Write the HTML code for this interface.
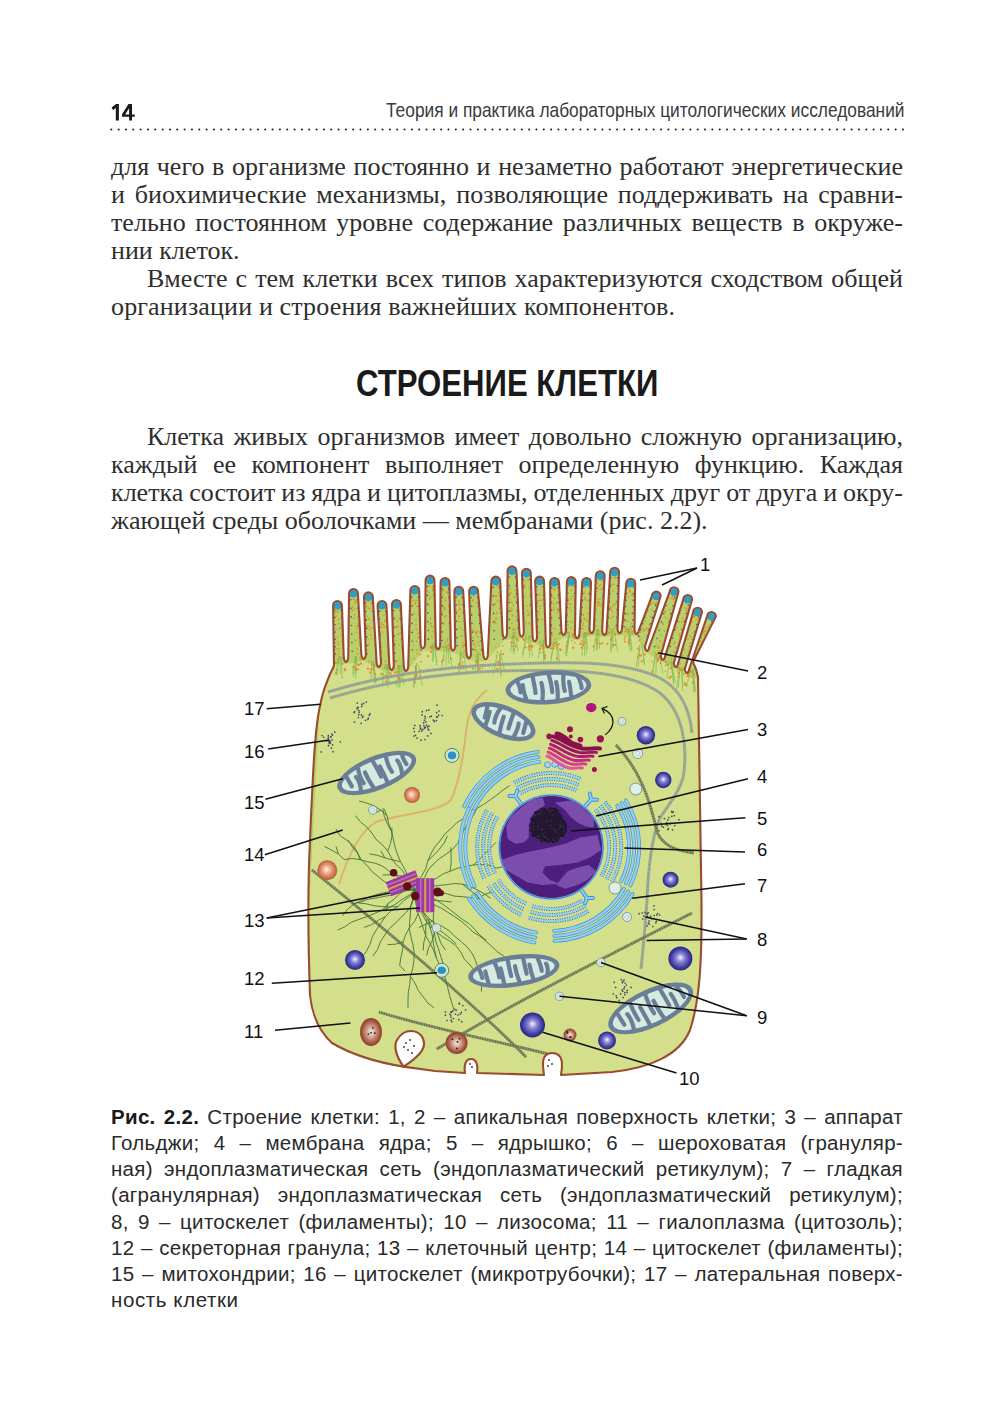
<!DOCTYPE html>
<html><head><meta charset="utf-8">
<style>
html,body{margin:0;padding:0;background:#fff;}
body{width:1000px;height:1420px;position:relative;overflow:hidden;}
.l{position:absolute;white-space:nowrap;color:#2e2e2e;}
.s{font-family:"Liberation Serif",serif;font-size:26px;line-height:28px;left:111px;width:792px;}
.j{text-align:justify;text-align-last:justify;}
.c{font-family:"Liberation Sans",sans-serif;font-size:20.5px;line-height:26px;left:111px;width:792px;color:#2a2a2a;letter-spacing:0.3px;}
</style></head><body>
<svg style="position:absolute;left:0;top:0" width="200" height="130"><path fill="#1a1a1a" fill-rule="evenodd" d="M111.6,107.6 L116,104 L118.9,104 L118.9,120.6 L115.8,120.6 L115.8,107.9 L113,110 Z M128.5,104 L132,104 L132,114.5 L134.7,114.5 L134.7,116.8 L132,116.8 L132,120.6 L129.1,120.6 L129.1,116.8 L122,116.8 L122,114.3 Z M129.1,108.3 L129.1,114.5 L125.1,114.5 Z"/></svg>
<div class="l" style="left:386px;top:96px;width:517px;font:20.4px/28px 'Liberation Sans',sans-serif;color:#3a3a3a;transform-origin:0 0;transform:scaleX(0.85)">Теория и практика лабораторных цитологических исследований</div>
<svg style="position:absolute;left:0;top:0" width="1000" height="140" fill="#222"><circle cx="111.30" cy="129.5" r="1.05"/><circle cx="118.63" cy="129.5" r="1.05"/><circle cx="125.96" cy="129.5" r="1.05"/><circle cx="133.29" cy="129.5" r="1.05"/><circle cx="140.62" cy="129.5" r="1.05"/><circle cx="147.95" cy="129.5" r="1.05"/><circle cx="155.28" cy="129.5" r="1.05"/><circle cx="162.61" cy="129.5" r="1.05"/><circle cx="169.94" cy="129.5" r="1.05"/><circle cx="177.27" cy="129.5" r="1.05"/><circle cx="184.60" cy="129.5" r="1.05"/><circle cx="191.93" cy="129.5" r="1.05"/><circle cx="199.26" cy="129.5" r="1.05"/><circle cx="206.59" cy="129.5" r="1.05"/><circle cx="213.92" cy="129.5" r="1.05"/><circle cx="221.25" cy="129.5" r="1.05"/><circle cx="228.58" cy="129.5" r="1.05"/><circle cx="235.91" cy="129.5" r="1.05"/><circle cx="243.24" cy="129.5" r="1.05"/><circle cx="250.57" cy="129.5" r="1.05"/><circle cx="257.90" cy="129.5" r="1.05"/><circle cx="265.23" cy="129.5" r="1.05"/><circle cx="272.56" cy="129.5" r="1.05"/><circle cx="279.89" cy="129.5" r="1.05"/><circle cx="287.22" cy="129.5" r="1.05"/><circle cx="294.55" cy="129.5" r="1.05"/><circle cx="301.88" cy="129.5" r="1.05"/><circle cx="309.21" cy="129.5" r="1.05"/><circle cx="316.54" cy="129.5" r="1.05"/><circle cx="323.87" cy="129.5" r="1.05"/><circle cx="331.20" cy="129.5" r="1.05"/><circle cx="338.53" cy="129.5" r="1.05"/><circle cx="345.86" cy="129.5" r="1.05"/><circle cx="353.19" cy="129.5" r="1.05"/><circle cx="360.52" cy="129.5" r="1.05"/><circle cx="367.85" cy="129.5" r="1.05"/><circle cx="375.18" cy="129.5" r="1.05"/><circle cx="382.51" cy="129.5" r="1.05"/><circle cx="389.84" cy="129.5" r="1.05"/><circle cx="397.17" cy="129.5" r="1.05"/><circle cx="404.50" cy="129.5" r="1.05"/><circle cx="411.83" cy="129.5" r="1.05"/><circle cx="419.16" cy="129.5" r="1.05"/><circle cx="426.49" cy="129.5" r="1.05"/><circle cx="433.82" cy="129.5" r="1.05"/><circle cx="441.15" cy="129.5" r="1.05"/><circle cx="448.48" cy="129.5" r="1.05"/><circle cx="455.81" cy="129.5" r="1.05"/><circle cx="463.14" cy="129.5" r="1.05"/><circle cx="470.47" cy="129.5" r="1.05"/><circle cx="477.80" cy="129.5" r="1.05"/><circle cx="485.13" cy="129.5" r="1.05"/><circle cx="492.46" cy="129.5" r="1.05"/><circle cx="499.79" cy="129.5" r="1.05"/><circle cx="507.12" cy="129.5" r="1.05"/><circle cx="514.45" cy="129.5" r="1.05"/><circle cx="521.78" cy="129.5" r="1.05"/><circle cx="529.11" cy="129.5" r="1.05"/><circle cx="536.44" cy="129.5" r="1.05"/><circle cx="543.77" cy="129.5" r="1.05"/><circle cx="551.10" cy="129.5" r="1.05"/><circle cx="558.43" cy="129.5" r="1.05"/><circle cx="565.76" cy="129.5" r="1.05"/><circle cx="573.09" cy="129.5" r="1.05"/><circle cx="580.42" cy="129.5" r="1.05"/><circle cx="587.75" cy="129.5" r="1.05"/><circle cx="595.08" cy="129.5" r="1.05"/><circle cx="602.41" cy="129.5" r="1.05"/><circle cx="609.74" cy="129.5" r="1.05"/><circle cx="617.07" cy="129.5" r="1.05"/><circle cx="624.40" cy="129.5" r="1.05"/><circle cx="631.73" cy="129.5" r="1.05"/><circle cx="639.06" cy="129.5" r="1.05"/><circle cx="646.39" cy="129.5" r="1.05"/><circle cx="653.72" cy="129.5" r="1.05"/><circle cx="661.05" cy="129.5" r="1.05"/><circle cx="668.38" cy="129.5" r="1.05"/><circle cx="675.71" cy="129.5" r="1.05"/><circle cx="683.04" cy="129.5" r="1.05"/><circle cx="690.37" cy="129.5" r="1.05"/><circle cx="697.70" cy="129.5" r="1.05"/><circle cx="705.03" cy="129.5" r="1.05"/><circle cx="712.36" cy="129.5" r="1.05"/><circle cx="719.69" cy="129.5" r="1.05"/><circle cx="727.02" cy="129.5" r="1.05"/><circle cx="734.35" cy="129.5" r="1.05"/><circle cx="741.68" cy="129.5" r="1.05"/><circle cx="749.01" cy="129.5" r="1.05"/><circle cx="756.34" cy="129.5" r="1.05"/><circle cx="763.67" cy="129.5" r="1.05"/><circle cx="771.00" cy="129.5" r="1.05"/><circle cx="778.33" cy="129.5" r="1.05"/><circle cx="785.66" cy="129.5" r="1.05"/><circle cx="792.99" cy="129.5" r="1.05"/><circle cx="800.32" cy="129.5" r="1.05"/><circle cx="807.65" cy="129.5" r="1.05"/><circle cx="814.98" cy="129.5" r="1.05"/><circle cx="822.31" cy="129.5" r="1.05"/><circle cx="829.64" cy="129.5" r="1.05"/><circle cx="836.97" cy="129.5" r="1.05"/><circle cx="844.30" cy="129.5" r="1.05"/><circle cx="851.63" cy="129.5" r="1.05"/><circle cx="858.96" cy="129.5" r="1.05"/><circle cx="866.29" cy="129.5" r="1.05"/><circle cx="873.62" cy="129.5" r="1.05"/><circle cx="880.95" cy="129.5" r="1.05"/><circle cx="888.28" cy="129.5" r="1.05"/><circle cx="895.61" cy="129.5" r="1.05"/><circle cx="902.94" cy="129.5" r="1.05"/></svg>

<div class="l s j" style="top:153px">для чего в организме постоянно и незаметно работают энергетические</div>
<div class="l s j" style="top:181px">и биохимические механизмы, позволяющие поддерживать на сравни-</div>
<div class="l s j" style="top:209px">тельно постоянном уровне содержание различных веществ в окруже-</div>
<div class="l s" style="top:237px">нии клеток.</div>
<div class="l s j" style="top:265px;left:147px;width:756px">Вместе с тем клетки всех типов характеризуются сходством общей</div>
<div class="l s" style="top:293px;letter-spacing:0.15px">организации и строения важнейших компонентов.</div>

<div class="l" style="left:356px;top:362px;font:700 37.5px/42px 'Liberation Sans',sans-serif;color:#1a1a1a;transform-origin:0 0;transform:scaleX(0.83)">СТРОЕНИЕ КЛЕТКИ</div>

<div class="l s j" style="top:423px;left:147px;width:756px">Клетка живых организмов имеет довольно сложную организацию,</div>
<div class="l s j" style="top:451px">каждый ее компонент выполняет определенную функцию. Каждая</div>
<div class="l s j" style="top:479px;word-spacing:-1px">клетка состоит из ядра и цитоплазмы, отделенных друг от друга и окру-</div>
<div class="l s" style="top:507px">жающей среды оболочками — мембранами (рис. 2.2).</div>

<svg id="fig" style="position:absolute;left:0;top:0" width="1000" height="1100">
<defs>
<radialGradient id="lys" cx="0.5" cy="0.5" r="0.5" fx="0.5" fy="0.45"><stop offset="0" stop-color="#f4f2ff"/><stop offset="0.35" stop-color="#8c86d6"/><stop offset="0.8" stop-color="#3b3a9e"/><stop offset="1" stop-color="#2a2680"/></radialGradient>
<radialGradient id="org" cx="0.5" cy="0.5" r="0.5" fx="0.45" fy="0.45"><stop offset="0" stop-color="#fff4ea"/><stop offset="0.45" stop-color="#eda27e"/><stop offset="1" stop-color="#b35a3a"/></radialGradient>
<radialGradient id="brn" cx="0.5" cy="0.5" r="0.5"><stop offset="0" stop-color="#fbeee8"/><stop offset="0.5" stop-color="#c98d7a"/><stop offset="0.85" stop-color="#9c4f38"/><stop offset="1" stop-color="#8e4430"/></radialGradient>
<clipPath id="nucclip"><circle cx="551.2" cy="847" r="51"/></clipPath>
</defs>
<path d="M334,666L333.1,605.4A4.4,4.4 0 0 1 341.9,605.4L343.8,658.0C344.7,663.2 347.3,663.2 348.2,658.0L349.1,593.4A4.4,4.4 0 0 1 357.9,593.4L361.4,655.0C362.3,660.2 364.9,660.2 365.8,655.0L364.0,596.8A4.4,4.4 0 0 1 372.8,596.8L376.6,663.0C377.5,668.2 380.1,668.2 381.0,663.0L377.6,605.4A4.4,4.4 0 0 1 386.4,605.4L389.4,666.0C390.3,671.2 392.9,671.2 393.8,666.0L392.0,604.4A4.4,4.4 0 0 1 400.8,604.4L403.8,667.0C404.7,672.2 407.3,672.2 408.2,667.0L410.4,590.4A4.4,4.4 0 0 1 419.2,590.4L420.6,644.4C421.5,649.6 424.1,649.6 425.0,644.4L425.6,580.0A4.4,4.4 0 0 1 434.4,580.0L435.8,645.2C436.7,650.4 439.3,650.4 440.2,645.2L440.6,582.4A4.4,4.4 0 0 1 449.4,582.4L450.8,646.5C451.7,651.7 454.3,651.7 455.2,646.5L454.4,591.2A4.4,4.4 0 0 1 463.2,591.2L466.6,654.2C467.5,659.4 470.1,659.4 471.0,654.2L469.2,591.2A4.4,4.4 0 0 1 478.0,591.2L483.4,655.4C484.3,660.6 486.9,660.6 487.8,655.4L491.4,581.0A4.4,4.4 0 0 1 500.2,581.0L502.6,634.0C503.5,639.2 506.1,639.2 507.0,634.0L507.6,570.8A4.4,4.4 0 0 1 516.4,570.8L519.4,632.6C520.3,637.8 522.9,637.8 523.8,632.6L522.0,573.2A4.4,4.4 0 0 1 530.8,573.2L532.6,637.4C533.5,642.6 536.1,642.6 537.0,637.4L535.2,581.0A4.4,4.4 0 0 1 544.0,581.0L545.8,643.4C546.7,648.6 549.3,648.6 550.2,643.4L550.2,582.4A4.4,4.4 0 0 1 559.0,582.4L561.4,631.0C562.3,636.2 564.9,636.2 565.8,631.0L566.9,581.5A4.4,4.4 0 0 1 575.7,581.5L575.0,634.3C575.9,639.5 578.5,639.5 579.4,634.3L582.2,582.4A4.4,4.4 0 0 1 591.0,582.4L589.5,629.2C590.4,634.4 593.0,634.4 593.9,629.2L595.8,575.6A4.4,4.4 0 0 1 604.6,575.6L602.2,631.0C603.1,636.2 605.7,636.2 606.6,631.0L610.2,572.2A4.4,4.4 0 0 1 619.0,572.2L617.5,629.2C618.4,634.4 621.0,634.4 621.9,629.2L626.4,583.2A4.4,4.4 0 0 1 635.2,583.2L634.5,630.0C635.4,635.2 638.0,635.2 638.9,630.0L651.9,596.0A4.4,4.4 0 0 1 660.7,596.0L644.8,647.0C645.7,652.2 648.3,652.2 649.2,647.0L669.7,591.7A4.4,4.4 0 0 1 678.5,591.7L660.8,656.0C661.7,661.2 664.3,661.2 665.2,656.0L683.3,599.4A4.4,4.4 0 0 1 692.1,599.4L673.8,663.0C674.7,668.2 677.3,668.2 678.2,663.0L693.2,612.1A4.4,4.4 0 0 1 702.0,612.1L684.8,669.0C685.7,674.2 688.3,674.2 689.2,669.0L707.1,616.4A4.4,4.4 0 0 1 715.9,616.4L693,662 Q697,670 698,677C699,720 700,800 701.5,900C702,960 700,1000 690,1030C680,1055 650,1068 612,1072L561,1075C562,1068 565,1053 552,1053C540,1053 543,1068 544,1075L477,1073C478,1066 477,1059 471,1059C465,1059 464,1066 465,1073L435,1071L403.5,1066.6C381,1063 354,1056 332,1043C320,1032 312,1015 310,995C308,940 308,880 310,840C313,770 315,725 320.5,704C322,694 328,677 334,666Z" fill="#d3df8a" stroke="none"/>
<path d="M334,666L333.1,605.4A4.4,4.4 0 0 1 341.9,605.4L343.8,658.0C344.7,663.2 347.3,663.2 348.2,658.0L349.1,593.4A4.4,4.4 0 0 1 357.9,593.4L361.4,655.0C362.3,660.2 364.9,660.2 365.8,655.0L364.0,596.8A4.4,4.4 0 0 1 372.8,596.8L376.6,663.0C377.5,668.2 380.1,668.2 381.0,663.0L377.6,605.4A4.4,4.4 0 0 1 386.4,605.4L389.4,666.0C390.3,671.2 392.9,671.2 393.8,666.0L392.0,604.4A4.4,4.4 0 0 1 400.8,604.4L403.8,667.0C404.7,672.2 407.3,672.2 408.2,667.0L410.4,590.4A4.4,4.4 0 0 1 419.2,590.4L420.6,644.4C421.5,649.6 424.1,649.6 425.0,644.4L425.6,580.0A4.4,4.4 0 0 1 434.4,580.0L435.8,645.2C436.7,650.4 439.3,650.4 440.2,645.2L440.6,582.4A4.4,4.4 0 0 1 449.4,582.4L450.8,646.5C451.7,651.7 454.3,651.7 455.2,646.5L454.4,591.2A4.4,4.4 0 0 1 463.2,591.2L466.6,654.2C467.5,659.4 470.1,659.4 471.0,654.2L469.2,591.2A4.4,4.4 0 0 1 478.0,591.2L483.4,655.4C484.3,660.6 486.9,660.6 487.8,655.4L491.4,581.0A4.4,4.4 0 0 1 500.2,581.0L502.6,634.0C503.5,639.2 506.1,639.2 507.0,634.0L507.6,570.8A4.4,4.4 0 0 1 516.4,570.8L519.4,632.6C520.3,637.8 522.9,637.8 523.8,632.6L522.0,573.2A4.4,4.4 0 0 1 530.8,573.2L532.6,637.4C533.5,642.6 536.1,642.6 537.0,637.4L535.2,581.0A4.4,4.4 0 0 1 544.0,581.0L545.8,643.4C546.7,648.6 549.3,648.6 550.2,643.4L550.2,582.4A4.4,4.4 0 0 1 559.0,582.4L561.4,631.0C562.3,636.2 564.9,636.2 565.8,631.0L566.9,581.5A4.4,4.4 0 0 1 575.7,581.5L575.0,634.3C575.9,639.5 578.5,639.5 579.4,634.3L582.2,582.4A4.4,4.4 0 0 1 591.0,582.4L589.5,629.2C590.4,634.4 593.0,634.4 593.9,629.2L595.8,575.6A4.4,4.4 0 0 1 604.6,575.6L602.2,631.0C603.1,636.2 605.7,636.2 606.6,631.0L610.2,572.2A4.4,4.4 0 0 1 619.0,572.2L617.5,629.2C618.4,634.4 621.0,634.4 621.9,629.2L626.4,583.2A4.4,4.4 0 0 1 635.2,583.2L634.5,630.0C635.4,635.2 638.0,635.2 638.9,630.0L651.9,596.0A4.4,4.4 0 0 1 660.7,596.0L644.8,647.0C645.7,652.2 648.3,652.2 649.2,647.0L669.7,591.7A4.4,4.4 0 0 1 678.5,591.7L660.8,656.0C661.7,661.2 664.3,661.2 665.2,656.0L683.3,599.4A4.4,4.4 0 0 1 692.1,599.4L673.8,663.0C674.7,668.2 677.3,668.2 678.2,663.0L693.2,612.1A4.4,4.4 0 0 1 702.0,612.1L684.8,669.0C685.7,674.2 688.3,674.2 689.2,669.0L707.1,616.4A4.4,4.4 0 0 1 715.9,616.4L693,662 Q697,670 698,677C699,720 700,800 701.5,900C702,960 700,1000 690,1030C680,1055 650,1068 612,1072L561,1075C562,1068 565,1053 552,1053C540,1053 543,1068 544,1075L477,1073C478,1066 477,1059 471,1059C465,1059 464,1066 465,1073L435,1071L403.5,1066.6C381,1063 354,1056 332,1043C320,1032 312,1015 310,995C308,940 308,880 310,840C313,770 315,725 320.5,704C322,694 328,677 334,666Z" fill="#b9d06a" stroke="none"/>
<clipPath id="cellclip"><path d="M334,666L333.1,605.4A4.4,4.4 0 0 1 341.9,605.4L343.8,658.0C344.7,663.2 347.3,663.2 348.2,658.0L349.1,593.4A4.4,4.4 0 0 1 357.9,593.4L361.4,655.0C362.3,660.2 364.9,660.2 365.8,655.0L364.0,596.8A4.4,4.4 0 0 1 372.8,596.8L376.6,663.0C377.5,668.2 380.1,668.2 381.0,663.0L377.6,605.4A4.4,4.4 0 0 1 386.4,605.4L389.4,666.0C390.3,671.2 392.9,671.2 393.8,666.0L392.0,604.4A4.4,4.4 0 0 1 400.8,604.4L403.8,667.0C404.7,672.2 407.3,672.2 408.2,667.0L410.4,590.4A4.4,4.4 0 0 1 419.2,590.4L420.6,644.4C421.5,649.6 424.1,649.6 425.0,644.4L425.6,580.0A4.4,4.4 0 0 1 434.4,580.0L435.8,645.2C436.7,650.4 439.3,650.4 440.2,645.2L440.6,582.4A4.4,4.4 0 0 1 449.4,582.4L450.8,646.5C451.7,651.7 454.3,651.7 455.2,646.5L454.4,591.2A4.4,4.4 0 0 1 463.2,591.2L466.6,654.2C467.5,659.4 470.1,659.4 471.0,654.2L469.2,591.2A4.4,4.4 0 0 1 478.0,591.2L483.4,655.4C484.3,660.6 486.9,660.6 487.8,655.4L491.4,581.0A4.4,4.4 0 0 1 500.2,581.0L502.6,634.0C503.5,639.2 506.1,639.2 507.0,634.0L507.6,570.8A4.4,4.4 0 0 1 516.4,570.8L519.4,632.6C520.3,637.8 522.9,637.8 523.8,632.6L522.0,573.2A4.4,4.4 0 0 1 530.8,573.2L532.6,637.4C533.5,642.6 536.1,642.6 537.0,637.4L535.2,581.0A4.4,4.4 0 0 1 544.0,581.0L545.8,643.4C546.7,648.6 549.3,648.6 550.2,643.4L550.2,582.4A4.4,4.4 0 0 1 559.0,582.4L561.4,631.0C562.3,636.2 564.9,636.2 565.8,631.0L566.9,581.5A4.4,4.4 0 0 1 575.7,581.5L575.0,634.3C575.9,639.5 578.5,639.5 579.4,634.3L582.2,582.4A4.4,4.4 0 0 1 591.0,582.4L589.5,629.2C590.4,634.4 593.0,634.4 593.9,629.2L595.8,575.6A4.4,4.4 0 0 1 604.6,575.6L602.2,631.0C603.1,636.2 605.7,636.2 606.6,631.0L610.2,572.2A4.4,4.4 0 0 1 619.0,572.2L617.5,629.2C618.4,634.4 621.0,634.4 621.9,629.2L626.4,583.2A4.4,4.4 0 0 1 635.2,583.2L634.5,630.0C635.4,635.2 638.0,635.2 638.9,630.0L651.9,596.0A4.4,4.4 0 0 1 660.7,596.0L644.8,647.0C645.7,652.2 648.3,652.2 649.2,647.0L669.7,591.7A4.4,4.4 0 0 1 678.5,591.7L660.8,656.0C661.7,661.2 664.3,661.2 665.2,656.0L683.3,599.4A4.4,4.4 0 0 1 692.1,599.4L673.8,663.0C674.7,668.2 677.3,668.2 678.2,663.0L693.2,612.1A4.4,4.4 0 0 1 702.0,612.1L684.8,669.0C685.7,674.2 688.3,674.2 689.2,669.0L707.1,616.4A4.4,4.4 0 0 1 715.9,616.4L693,662 Q697,670 698,677C699,720 700,800 701.5,900C702,960 700,1000 690,1030C680,1055 650,1068 612,1072L561,1075C562,1068 565,1053 552,1053C540,1053 543,1068 544,1075L477,1073C478,1066 477,1059 471,1059C465,1059 464,1066 465,1073L435,1071L403.5,1066.6C381,1063 354,1056 332,1043C320,1032 312,1015 310,995C308,940 308,880 310,840C313,770 315,725 320.5,704C322,694 328,677 334,666Z"/></clipPath>
<path d="M320,700 L334,664 L346.0,664.0 L363.6,661.0 L378.8,669.0 L391.6,672.0 L406.0,673.0 L422.8,650.4 L438.0,651.2 L453.0,652.5 L468.8,660.2 L485.6,661.4 L504.8,640.0 L521.6,638.6 L534.8,643.4 L548.0,649.4 L563.6,637.0 L577.2,640.3 L591.7,635.2 L604.4,637.0 L619.7,635.2 L636.7,636.0 L647.0,653.0 L663.0,662.0 L676.0,669.0 L687.0,675.0 L698,679 L702,1080 L300,1080Z" fill="#d3df8a" clip-path="url(#cellclip)"/>
<g clip-path="url(#cellclip)">
<circle cx="336.1" cy="628.7" r="0.85" fill="#e08a2a" opacity="0.9"/>
<circle cx="336.1" cy="649.2" r="0.85" fill="#e08a2a" opacity="0.9"/>
<circle cx="338.1" cy="642.0" r="0.85" fill="#e08a2a" opacity="0.9"/>
<circle cx="338.0" cy="612.0" r="0.85" fill="#e08a2a" opacity="0.9"/>
<circle cx="337.5" cy="610.7" r="0.85" fill="#e08a2a" opacity="0.9"/>
<circle cx="335.2" cy="612.7" r="0.85" fill="#e08a2a" opacity="0.9"/>
<circle cx="341.3" cy="635.0" r="0.85" fill="#e08a2a" opacity="0.9"/>
<circle cx="336.2" cy="616.1" r="0.85" fill="#e08a2a" opacity="0.9"/>
<circle cx="342.9" cy="647.7" r="0.85" fill="#e08a2a" opacity="0.9"/>
<circle cx="338.5" cy="644.6" r="0.85" fill="#e08a2a" opacity="0.9"/>
<circle cx="336.4" cy="669.7" r="0.85" fill="#e08a2a" opacity="0.9"/>
<circle cx="338.3" cy="662.3" r="0.85" fill="#e08a2a" opacity="0.9"/>
<circle cx="335.5" cy="617.4" r="0.85" fill="#e08a2a" opacity="0.9"/>
<circle cx="340.9" cy="627.7" r="0.85" fill="#e08a2a" opacity="0.9"/>
<circle cx="338.8" cy="619.7" r="0.85" fill="#e08a2a" opacity="0.9"/>
<circle cx="338.4" cy="648.5" r="0.85" fill="#e08a2a" opacity="0.9"/>
<circle cx="335.8" cy="642.7" r="0.85" fill="#e08a2a" opacity="0.9"/>
<circle cx="336.0" cy="612.1" r="0.85" fill="#e08a2a" opacity="0.9"/>
<circle cx="339.0" cy="651.1" r="0.85" fill="#e08a2a" opacity="0.9"/>
<circle cx="339.2" cy="628.1" r="0.85" fill="#e08a2a" opacity="0.9"/>
<circle cx="337.5" cy="636.8" r="0.85" fill="#e08a2a" opacity="0.9"/>
<circle cx="341.5" cy="658.2" r="0.85" fill="#e08a2a" opacity="0.9"/>
<circle cx="339.0" cy="623.7" r="0.85" fill="#e08a2a" opacity="0.9"/>
<circle cx="342.0" cy="641.3" r="0.85" fill="#e08a2a" opacity="0.9"/>
<circle cx="338.0" cy="654.2" r="0.85" fill="#e08a2a" opacity="0.9"/>
<circle cx="337.1" cy="669.9" r="0.85" fill="#e08a2a" opacity="0.9"/>
<circle cx="334.6" cy="610.1" r="0.8" fill="#4a4f86"/>
<circle cx="334.7" cy="617.5" r="0.8" fill="#4a4f86"/>
<circle cx="334.9" cy="624.8" r="0.8" fill="#4a4f86"/>
<circle cx="335.0" cy="632.1" r="0.8" fill="#4a4f86"/>
<circle cx="335.1" cy="639.4" r="0.8" fill="#4a4f86"/>
<circle cx="335.2" cy="646.8" r="0.8" fill="#4a4f86"/>
<circle cx="335.3" cy="654.1" r="0.8" fill="#4a4f86"/>
<circle cx="341.1" cy="610.1" r="0.8" fill="#4a4f86"/>
<circle cx="341.6" cy="617.5" r="0.8" fill="#4a4f86"/>
<circle cx="342.1" cy="624.8" r="0.8" fill="#4a4f86"/>
<circle cx="342.6" cy="632.1" r="0.8" fill="#4a4f86"/>
<circle cx="343.1" cy="639.4" r="0.8" fill="#4a4f86"/>
<circle cx="343.6" cy="646.8" r="0.8" fill="#4a4f86"/>
<circle cx="344.1" cy="654.1" r="0.8" fill="#4a4f86"/>
<ellipse cx="337.5" cy="605.8" rx="3.9" ry="3.8" fill="#2aa0c8"/>
<circle cx="357.3" cy="628.4" r="0.85" fill="#e08a2a" opacity="0.9"/>
<circle cx="354.4" cy="608.8" r="0.85" fill="#e08a2a" opacity="0.9"/>
<circle cx="355.2" cy="600.5" r="0.85" fill="#e08a2a" opacity="0.9"/>
<circle cx="357.3" cy="653.9" r="0.85" fill="#e08a2a" opacity="0.9"/>
<circle cx="355.5" cy="662.1" r="0.85" fill="#e08a2a" opacity="0.9"/>
<circle cx="357.2" cy="648.8" r="0.85" fill="#e08a2a" opacity="0.9"/>
<circle cx="355.7" cy="640.3" r="0.85" fill="#e08a2a" opacity="0.9"/>
<circle cx="360.6" cy="659.4" r="0.85" fill="#e08a2a" opacity="0.9"/>
<circle cx="356.9" cy="632.5" r="0.85" fill="#e08a2a" opacity="0.9"/>
<circle cx="355.5" cy="602.0" r="0.85" fill="#e08a2a" opacity="0.9"/>
<circle cx="360.2" cy="645.2" r="0.85" fill="#e08a2a" opacity="0.9"/>
<circle cx="355.1" cy="658.1" r="0.85" fill="#e08a2a" opacity="0.9"/>
<circle cx="356.6" cy="626.0" r="0.85" fill="#e08a2a" opacity="0.9"/>
<circle cx="353.7" cy="599.2" r="0.85" fill="#e08a2a" opacity="0.9"/>
<circle cx="351.9" cy="610.0" r="0.85" fill="#e08a2a" opacity="0.9"/>
<circle cx="355.9" cy="601.9" r="0.85" fill="#e08a2a" opacity="0.9"/>
<circle cx="352.6" cy="607.1" r="0.85" fill="#e08a2a" opacity="0.9"/>
<circle cx="358.1" cy="626.4" r="0.85" fill="#e08a2a" opacity="0.9"/>
<circle cx="353.9" cy="603.5" r="0.85" fill="#e08a2a" opacity="0.9"/>
<circle cx="358.9" cy="638.0" r="0.85" fill="#e08a2a" opacity="0.9"/>
<circle cx="359.9" cy="657.9" r="0.85" fill="#e08a2a" opacity="0.9"/>
<circle cx="354.3" cy="618.1" r="0.85" fill="#e08a2a" opacity="0.9"/>
<circle cx="358.0" cy="624.0" r="0.85" fill="#e08a2a" opacity="0.9"/>
<circle cx="354.4" cy="668.1" r="0.85" fill="#e08a2a" opacity="0.9"/>
<circle cx="352.7" cy="610.6" r="0.85" fill="#e08a2a" opacity="0.9"/>
<circle cx="354.7" cy="614.8" r="0.85" fill="#e08a2a" opacity="0.9"/>
<circle cx="350.8" cy="599.7" r="0.8" fill="#4a4f86"/>
<circle cx="351.0" cy="608.3" r="0.8" fill="#4a4f86"/>
<circle cx="351.2" cy="616.9" r="0.8" fill="#4a4f86"/>
<circle cx="351.5" cy="625.5" r="0.8" fill="#4a4f86"/>
<circle cx="351.7" cy="634.0" r="0.8" fill="#4a4f86"/>
<circle cx="351.9" cy="642.6" r="0.8" fill="#4a4f86"/>
<circle cx="352.2" cy="651.2" r="0.8" fill="#4a4f86"/>
<circle cx="357.3" cy="599.7" r="0.8" fill="#4a4f86"/>
<circle cx="357.9" cy="608.3" r="0.8" fill="#4a4f86"/>
<circle cx="358.5" cy="616.9" r="0.8" fill="#4a4f86"/>
<circle cx="359.1" cy="625.5" r="0.8" fill="#4a4f86"/>
<circle cx="359.7" cy="634.0" r="0.8" fill="#4a4f86"/>
<circle cx="360.3" cy="642.6" r="0.8" fill="#4a4f86"/>
<circle cx="360.9" cy="651.2" r="0.8" fill="#4a4f86"/>
<ellipse cx="353.5" cy="593.8" rx="3.9" ry="3.8" fill="#2aa0c8"/>
<circle cx="369.2" cy="643.7" r="0.85" fill="#e08a2a" opacity="0.9"/>
<circle cx="368.3" cy="601.2" r="0.85" fill="#e08a2a" opacity="0.9"/>
<circle cx="370.7" cy="627.7" r="0.85" fill="#e08a2a" opacity="0.9"/>
<circle cx="374.0" cy="670.2" r="0.85" fill="#e08a2a" opacity="0.9"/>
<circle cx="371.6" cy="638.4" r="0.85" fill="#e08a2a" opacity="0.9"/>
<circle cx="367.8" cy="650.0" r="0.85" fill="#e08a2a" opacity="0.9"/>
<circle cx="374.5" cy="666.3" r="0.85" fill="#e08a2a" opacity="0.9"/>
<circle cx="374.6" cy="664.5" r="0.85" fill="#e08a2a" opacity="0.9"/>
<circle cx="369.5" cy="629.4" r="0.85" fill="#e08a2a" opacity="0.9"/>
<circle cx="370.1" cy="608.4" r="0.85" fill="#e08a2a" opacity="0.9"/>
<circle cx="366.1" cy="605.4" r="0.85" fill="#e08a2a" opacity="0.9"/>
<circle cx="367.2" cy="616.1" r="0.85" fill="#e08a2a" opacity="0.9"/>
<circle cx="366.8" cy="625.6" r="0.85" fill="#e08a2a" opacity="0.9"/>
<circle cx="366.5" cy="600.9" r="0.85" fill="#e08a2a" opacity="0.9"/>
<circle cx="368.3" cy="608.3" r="0.85" fill="#e08a2a" opacity="0.9"/>
<circle cx="371.4" cy="602.7" r="0.85" fill="#e08a2a" opacity="0.9"/>
<circle cx="368.4" cy="645.5" r="0.85" fill="#e08a2a" opacity="0.9"/>
<circle cx="368.7" cy="619.2" r="0.85" fill="#e08a2a" opacity="0.9"/>
<circle cx="367.4" cy="627.4" r="0.85" fill="#e08a2a" opacity="0.9"/>
<circle cx="376.1" cy="662.6" r="0.85" fill="#e08a2a" opacity="0.9"/>
<circle cx="370.4" cy="634.8" r="0.85" fill="#e08a2a" opacity="0.9"/>
<circle cx="366.4" cy="607.1" r="0.85" fill="#e08a2a" opacity="0.9"/>
<circle cx="368.4" cy="625.8" r="0.85" fill="#e08a2a" opacity="0.9"/>
<circle cx="369.1" cy="661.1" r="0.85" fill="#e08a2a" opacity="0.9"/>
<circle cx="371.9" cy="602.6" r="0.85" fill="#e08a2a" opacity="0.9"/>
<circle cx="368.1" cy="639.3" r="0.85" fill="#e08a2a" opacity="0.9"/>
<circle cx="365.7" cy="603.0" r="0.8" fill="#4a4f86"/>
<circle cx="365.9" cy="611.5" r="0.8" fill="#4a4f86"/>
<circle cx="366.2" cy="619.9" r="0.8" fill="#4a4f86"/>
<circle cx="366.4" cy="628.4" r="0.8" fill="#4a4f86"/>
<circle cx="366.7" cy="636.9" r="0.8" fill="#4a4f86"/>
<circle cx="366.9" cy="645.4" r="0.8" fill="#4a4f86"/>
<circle cx="367.1" cy="653.8" r="0.8" fill="#4a4f86"/>
<circle cx="372.2" cy="603.0" r="0.8" fill="#4a4f86"/>
<circle cx="372.8" cy="611.5" r="0.8" fill="#4a4f86"/>
<circle cx="373.4" cy="619.9" r="0.8" fill="#4a4f86"/>
<circle cx="374.1" cy="628.4" r="0.8" fill="#4a4f86"/>
<circle cx="374.7" cy="636.9" r="0.8" fill="#4a4f86"/>
<circle cx="375.3" cy="645.4" r="0.8" fill="#4a4f86"/>
<circle cx="375.9" cy="653.8" r="0.8" fill="#4a4f86"/>
<ellipse cx="368.4" cy="597.2" rx="3.9" ry="3.8" fill="#2aa0c8"/>
<circle cx="381.1" cy="646.9" r="0.85" fill="#e08a2a" opacity="0.9"/>
<circle cx="388.3" cy="645.8" r="0.85" fill="#e08a2a" opacity="0.9"/>
<circle cx="387.7" cy="669.1" r="0.85" fill="#e08a2a" opacity="0.9"/>
<circle cx="382.6" cy="627.3" r="0.85" fill="#e08a2a" opacity="0.9"/>
<circle cx="385.1" cy="620.7" r="0.85" fill="#e08a2a" opacity="0.9"/>
<circle cx="386.8" cy="646.1" r="0.85" fill="#e08a2a" opacity="0.9"/>
<circle cx="381.8" cy="632.0" r="0.85" fill="#e08a2a" opacity="0.9"/>
<circle cx="389.8" cy="665.5" r="0.85" fill="#e08a2a" opacity="0.9"/>
<circle cx="388.5" cy="668.4" r="0.85" fill="#e08a2a" opacity="0.9"/>
<circle cx="387.8" cy="666.0" r="0.85" fill="#e08a2a" opacity="0.9"/>
<circle cx="383.5" cy="624.9" r="0.85" fill="#e08a2a" opacity="0.9"/>
<circle cx="380.5" cy="633.8" r="0.85" fill="#e08a2a" opacity="0.9"/>
<circle cx="381.1" cy="611.0" r="0.85" fill="#e08a2a" opacity="0.9"/>
<circle cx="384.9" cy="627.1" r="0.85" fill="#e08a2a" opacity="0.9"/>
<circle cx="386.0" cy="675.6" r="0.85" fill="#e08a2a" opacity="0.9"/>
<circle cx="390.5" cy="674.2" r="0.85" fill="#e08a2a" opacity="0.9"/>
<circle cx="385.3" cy="675.5" r="0.85" fill="#e08a2a" opacity="0.9"/>
<circle cx="381.5" cy="624.4" r="0.85" fill="#e08a2a" opacity="0.9"/>
<circle cx="381.2" cy="622.8" r="0.85" fill="#e08a2a" opacity="0.9"/>
<circle cx="388.2" cy="652.5" r="0.85" fill="#e08a2a" opacity="0.9"/>
<circle cx="385.8" cy="667.5" r="0.85" fill="#e08a2a" opacity="0.9"/>
<circle cx="387.5" cy="654.5" r="0.85" fill="#e08a2a" opacity="0.9"/>
<circle cx="383.9" cy="615.0" r="0.85" fill="#e08a2a" opacity="0.9"/>
<circle cx="388.6" cy="672.4" r="0.85" fill="#e08a2a" opacity="0.9"/>
<circle cx="385.4" cy="661.3" r="0.85" fill="#e08a2a" opacity="0.9"/>
<circle cx="385.2" cy="621.5" r="0.85" fill="#e08a2a" opacity="0.9"/>
<circle cx="379.4" cy="611.1" r="0.8" fill="#4a4f86"/>
<circle cx="379.6" cy="619.2" r="0.8" fill="#4a4f86"/>
<circle cx="379.9" cy="627.3" r="0.8" fill="#4a4f86"/>
<circle cx="380.2" cy="635.4" r="0.8" fill="#4a4f86"/>
<circle cx="380.5" cy="643.5" r="0.8" fill="#4a4f86"/>
<circle cx="380.8" cy="651.6" r="0.8" fill="#4a4f86"/>
<circle cx="381.1" cy="659.7" r="0.8" fill="#4a4f86"/>
<circle cx="385.8" cy="611.1" r="0.8" fill="#4a4f86"/>
<circle cx="386.5" cy="619.2" r="0.8" fill="#4a4f86"/>
<circle cx="387.2" cy="627.3" r="0.8" fill="#4a4f86"/>
<circle cx="387.9" cy="635.4" r="0.8" fill="#4a4f86"/>
<circle cx="388.5" cy="643.5" r="0.8" fill="#4a4f86"/>
<circle cx="389.2" cy="651.6" r="0.8" fill="#4a4f86"/>
<circle cx="389.9" cy="659.7" r="0.8" fill="#4a4f86"/>
<ellipse cx="382.0" cy="605.8" rx="3.9" ry="3.8" fill="#2aa0c8"/>
<circle cx="400.3" cy="632.6" r="0.85" fill="#e08a2a" opacity="0.9"/>
<circle cx="399.5" cy="679.0" r="0.85" fill="#e08a2a" opacity="0.9"/>
<circle cx="401.6" cy="637.6" r="0.85" fill="#e08a2a" opacity="0.9"/>
<circle cx="396.9" cy="661.1" r="0.85" fill="#e08a2a" opacity="0.9"/>
<circle cx="394.9" cy="617.7" r="0.85" fill="#e08a2a" opacity="0.9"/>
<circle cx="402.8" cy="674.2" r="0.85" fill="#e08a2a" opacity="0.9"/>
<circle cx="399.6" cy="619.1" r="0.85" fill="#e08a2a" opacity="0.9"/>
<circle cx="401.8" cy="679.6" r="0.85" fill="#e08a2a" opacity="0.9"/>
<circle cx="398.5" cy="633.9" r="0.85" fill="#e08a2a" opacity="0.9"/>
<circle cx="394.0" cy="618.0" r="0.85" fill="#e08a2a" opacity="0.9"/>
<circle cx="401.7" cy="679.0" r="0.85" fill="#e08a2a" opacity="0.9"/>
<circle cx="402.1" cy="646.7" r="0.85" fill="#e08a2a" opacity="0.9"/>
<circle cx="401.2" cy="640.0" r="0.85" fill="#e08a2a" opacity="0.9"/>
<circle cx="397.5" cy="668.5" r="0.85" fill="#e08a2a" opacity="0.9"/>
<circle cx="396.3" cy="626.7" r="0.85" fill="#e08a2a" opacity="0.9"/>
<circle cx="398.3" cy="625.9" r="0.85" fill="#e08a2a" opacity="0.9"/>
<circle cx="397.2" cy="627.3" r="0.85" fill="#e08a2a" opacity="0.9"/>
<circle cx="400.1" cy="618.0" r="0.85" fill="#e08a2a" opacity="0.9"/>
<circle cx="397.8" cy="634.2" r="0.85" fill="#e08a2a" opacity="0.9"/>
<circle cx="402.1" cy="650.8" r="0.85" fill="#e08a2a" opacity="0.9"/>
<circle cx="401.5" cy="639.0" r="0.85" fill="#e08a2a" opacity="0.9"/>
<circle cx="398.9" cy="644.9" r="0.85" fill="#e08a2a" opacity="0.9"/>
<circle cx="395.1" cy="646.5" r="0.85" fill="#e08a2a" opacity="0.9"/>
<circle cx="396.1" cy="640.4" r="0.85" fill="#e08a2a" opacity="0.9"/>
<circle cx="398.8" cy="608.7" r="0.85" fill="#e08a2a" opacity="0.9"/>
<circle cx="397.3" cy="621.0" r="0.85" fill="#e08a2a" opacity="0.9"/>
<circle cx="393.7" cy="610.6" r="0.8" fill="#4a4f86"/>
<circle cx="393.9" cy="619.0" r="0.8" fill="#4a4f86"/>
<circle cx="394.2" cy="627.5" r="0.8" fill="#4a4f86"/>
<circle cx="394.4" cy="636.0" r="0.8" fill="#4a4f86"/>
<circle cx="394.7" cy="644.4" r="0.8" fill="#4a4f86"/>
<circle cx="394.9" cy="652.9" r="0.8" fill="#4a4f86"/>
<circle cx="395.1" cy="661.3" r="0.8" fill="#4a4f86"/>
<circle cx="400.2" cy="610.6" r="0.8" fill="#4a4f86"/>
<circle cx="400.8" cy="619.0" r="0.8" fill="#4a4f86"/>
<circle cx="401.4" cy="627.5" r="0.8" fill="#4a4f86"/>
<circle cx="402.1" cy="636.0" r="0.8" fill="#4a4f86"/>
<circle cx="402.7" cy="644.4" r="0.8" fill="#4a4f86"/>
<circle cx="403.3" cy="652.9" r="0.8" fill="#4a4f86"/>
<circle cx="403.9" cy="661.3" r="0.8" fill="#4a4f86"/>
<ellipse cx="396.4" cy="604.8" rx="3.9" ry="3.8" fill="#2aa0c8"/>
<circle cx="417.2" cy="649.9" r="0.85" fill="#e08a2a" opacity="0.9"/>
<circle cx="415.9" cy="619.6" r="0.85" fill="#e08a2a" opacity="0.9"/>
<circle cx="418.5" cy="637.0" r="0.85" fill="#e08a2a" opacity="0.9"/>
<circle cx="415.7" cy="602.9" r="0.85" fill="#e08a2a" opacity="0.9"/>
<circle cx="414.0" cy="613.7" r="0.85" fill="#e08a2a" opacity="0.9"/>
<circle cx="416.9" cy="653.5" r="0.85" fill="#e08a2a" opacity="0.9"/>
<circle cx="418.3" cy="637.5" r="0.85" fill="#e08a2a" opacity="0.9"/>
<circle cx="416.7" cy="664.1" r="0.85" fill="#e08a2a" opacity="0.9"/>
<circle cx="416.5" cy="641.3" r="0.85" fill="#e08a2a" opacity="0.9"/>
<circle cx="417.7" cy="633.7" r="0.85" fill="#e08a2a" opacity="0.9"/>
<circle cx="416.3" cy="629.2" r="0.85" fill="#e08a2a" opacity="0.9"/>
<circle cx="419.5" cy="631.1" r="0.85" fill="#e08a2a" opacity="0.9"/>
<circle cx="419.7" cy="647.9" r="0.85" fill="#e08a2a" opacity="0.9"/>
<circle cx="415.2" cy="666.4" r="0.85" fill="#e08a2a" opacity="0.9"/>
<circle cx="419.8" cy="637.3" r="0.85" fill="#e08a2a" opacity="0.9"/>
<circle cx="414.0" cy="658.6" r="0.85" fill="#e08a2a" opacity="0.9"/>
<circle cx="414.9" cy="604.1" r="0.85" fill="#e08a2a" opacity="0.9"/>
<circle cx="413.5" cy="600.4" r="0.85" fill="#e08a2a" opacity="0.9"/>
<circle cx="416.4" cy="600.4" r="0.85" fill="#e08a2a" opacity="0.9"/>
<circle cx="420.1" cy="654.4" r="0.85" fill="#e08a2a" opacity="0.9"/>
<circle cx="416.9" cy="606.6" r="0.85" fill="#e08a2a" opacity="0.9"/>
<circle cx="413.7" cy="645.0" r="0.85" fill="#e08a2a" opacity="0.9"/>
<circle cx="421.0" cy="661.9" r="0.85" fill="#e08a2a" opacity="0.9"/>
<circle cx="418.8" cy="611.5" r="0.85" fill="#e08a2a" opacity="0.9"/>
<circle cx="415.9" cy="625.1" r="0.85" fill="#e08a2a" opacity="0.9"/>
<circle cx="420.2" cy="670.0" r="0.85" fill="#e08a2a" opacity="0.9"/>
<circle cx="411.9" cy="597.1" r="0.8" fill="#4a4f86"/>
<circle cx="412.0" cy="605.9" r="0.8" fill="#4a4f86"/>
<circle cx="412.0" cy="614.7" r="0.8" fill="#4a4f86"/>
<circle cx="412.1" cy="623.6" r="0.8" fill="#4a4f86"/>
<circle cx="412.2" cy="632.4" r="0.8" fill="#4a4f86"/>
<circle cx="412.2" cy="641.3" r="0.8" fill="#4a4f86"/>
<circle cx="412.3" cy="650.1" r="0.8" fill="#4a4f86"/>
<circle cx="418.4" cy="597.1" r="0.8" fill="#4a4f86"/>
<circle cx="418.8" cy="605.9" r="0.8" fill="#4a4f86"/>
<circle cx="419.3" cy="614.7" r="0.8" fill="#4a4f86"/>
<circle cx="419.7" cy="623.6" r="0.8" fill="#4a4f86"/>
<circle cx="420.2" cy="632.4" r="0.8" fill="#4a4f86"/>
<circle cx="420.6" cy="641.3" r="0.8" fill="#4a4f86"/>
<circle cx="421.1" cy="650.1" r="0.8" fill="#4a4f86"/>
<ellipse cx="414.8" cy="590.8" rx="3.9" ry="3.8" fill="#2aa0c8"/>
<circle cx="430.4" cy="596.6" r="0.85" fill="#e08a2a" opacity="0.9"/>
<circle cx="430.7" cy="623.3" r="0.85" fill="#e08a2a" opacity="0.9"/>
<circle cx="429.7" cy="599.1" r="0.85" fill="#e08a2a" opacity="0.9"/>
<circle cx="428.7" cy="638.8" r="0.85" fill="#e08a2a" opacity="0.9"/>
<circle cx="431.6" cy="626.2" r="0.85" fill="#e08a2a" opacity="0.9"/>
<circle cx="429.3" cy="585.7" r="0.85" fill="#e08a2a" opacity="0.9"/>
<circle cx="432.4" cy="631.4" r="0.85" fill="#e08a2a" opacity="0.9"/>
<circle cx="433.8" cy="589.2" r="0.85" fill="#e08a2a" opacity="0.9"/>
<circle cx="436.7" cy="643.8" r="0.85" fill="#e08a2a" opacity="0.9"/>
<circle cx="429.1" cy="592.3" r="0.85" fill="#e08a2a" opacity="0.9"/>
<circle cx="432.4" cy="587.4" r="0.85" fill="#e08a2a" opacity="0.9"/>
<circle cx="428.5" cy="604.8" r="0.85" fill="#e08a2a" opacity="0.9"/>
<circle cx="434.7" cy="616.2" r="0.85" fill="#e08a2a" opacity="0.9"/>
<circle cx="430.9" cy="646.1" r="0.85" fill="#e08a2a" opacity="0.9"/>
<circle cx="433.7" cy="595.6" r="0.85" fill="#e08a2a" opacity="0.9"/>
<circle cx="433.7" cy="627.4" r="0.85" fill="#e08a2a" opacity="0.9"/>
<circle cx="427.6" cy="591.1" r="0.85" fill="#e08a2a" opacity="0.9"/>
<circle cx="431.9" cy="636.3" r="0.85" fill="#e08a2a" opacity="0.9"/>
<circle cx="433.6" cy="589.8" r="0.85" fill="#e08a2a" opacity="0.9"/>
<circle cx="434.7" cy="632.2" r="0.85" fill="#e08a2a" opacity="0.9"/>
<circle cx="433.0" cy="590.7" r="0.85" fill="#e08a2a" opacity="0.9"/>
<circle cx="433.0" cy="589.4" r="0.85" fill="#e08a2a" opacity="0.9"/>
<circle cx="430.6" cy="618.6" r="0.85" fill="#e08a2a" opacity="0.9"/>
<circle cx="435.4" cy="626.1" r="0.85" fill="#e08a2a" opacity="0.9"/>
<circle cx="428.5" cy="604.6" r="0.85" fill="#e08a2a" opacity="0.9"/>
<circle cx="430.0" cy="624.1" r="0.85" fill="#e08a2a" opacity="0.9"/>
<circle cx="427.2" cy="586.6" r="0.8" fill="#4a4f86"/>
<circle cx="427.4" cy="595.4" r="0.8" fill="#4a4f86"/>
<circle cx="427.5" cy="604.1" r="0.8" fill="#4a4f86"/>
<circle cx="427.7" cy="612.9" r="0.8" fill="#4a4f86"/>
<circle cx="427.9" cy="621.7" r="0.8" fill="#4a4f86"/>
<circle cx="428.1" cy="630.5" r="0.8" fill="#4a4f86"/>
<circle cx="428.2" cy="639.3" r="0.8" fill="#4a4f86"/>
<circle cx="433.7" cy="586.6" r="0.8" fill="#4a4f86"/>
<circle cx="434.2" cy="595.4" r="0.8" fill="#4a4f86"/>
<circle cx="434.8" cy="604.1" r="0.8" fill="#4a4f86"/>
<circle cx="435.3" cy="612.9" r="0.8" fill="#4a4f86"/>
<circle cx="435.9" cy="621.7" r="0.8" fill="#4a4f86"/>
<circle cx="436.4" cy="630.5" r="0.8" fill="#4a4f86"/>
<circle cx="437.0" cy="639.3" r="0.8" fill="#4a4f86"/>
<ellipse cx="430.0" cy="580.4" rx="3.9" ry="3.8" fill="#2aa0c8"/>
<circle cx="443.1" cy="594.7" r="0.85" fill="#e08a2a" opacity="0.9"/>
<circle cx="443.3" cy="590.4" r="0.85" fill="#e08a2a" opacity="0.9"/>
<circle cx="444.5" cy="609.7" r="0.85" fill="#e08a2a" opacity="0.9"/>
<circle cx="445.1" cy="642.8" r="0.85" fill="#e08a2a" opacity="0.9"/>
<circle cx="443.8" cy="623.6" r="0.85" fill="#e08a2a" opacity="0.9"/>
<circle cx="442.4" cy="612.3" r="0.85" fill="#e08a2a" opacity="0.9"/>
<circle cx="442.3" cy="605.2" r="0.85" fill="#e08a2a" opacity="0.9"/>
<circle cx="447.2" cy="640.9" r="0.85" fill="#e08a2a" opacity="0.9"/>
<circle cx="445.5" cy="600.6" r="0.85" fill="#e08a2a" opacity="0.9"/>
<circle cx="443.8" cy="655.8" r="0.85" fill="#e08a2a" opacity="0.9"/>
<circle cx="446.4" cy="647.2" r="0.85" fill="#e08a2a" opacity="0.9"/>
<circle cx="448.8" cy="623.3" r="0.85" fill="#e08a2a" opacity="0.9"/>
<circle cx="446.1" cy="615.7" r="0.85" fill="#e08a2a" opacity="0.9"/>
<circle cx="450.5" cy="637.5" r="0.85" fill="#e08a2a" opacity="0.9"/>
<circle cx="448.4" cy="612.0" r="0.85" fill="#e08a2a" opacity="0.9"/>
<circle cx="447.8" cy="638.9" r="0.85" fill="#e08a2a" opacity="0.9"/>
<circle cx="444.9" cy="616.6" r="0.85" fill="#e08a2a" opacity="0.9"/>
<circle cx="442.9" cy="590.6" r="0.85" fill="#e08a2a" opacity="0.9"/>
<circle cx="447.0" cy="591.9" r="0.85" fill="#e08a2a" opacity="0.9"/>
<circle cx="443.4" cy="605.5" r="0.85" fill="#e08a2a" opacity="0.9"/>
<circle cx="447.7" cy="592.9" r="0.85" fill="#e08a2a" opacity="0.9"/>
<circle cx="448.5" cy="651.0" r="0.85" fill="#e08a2a" opacity="0.9"/>
<circle cx="444.0" cy="607.5" r="0.85" fill="#e08a2a" opacity="0.9"/>
<circle cx="445.6" cy="608.3" r="0.85" fill="#e08a2a" opacity="0.9"/>
<circle cx="445.2" cy="598.3" r="0.85" fill="#e08a2a" opacity="0.9"/>
<circle cx="449.1" cy="606.1" r="0.85" fill="#e08a2a" opacity="0.9"/>
<circle cx="442.1" cy="588.8" r="0.8" fill="#4a4f86"/>
<circle cx="442.1" cy="597.4" r="0.8" fill="#4a4f86"/>
<circle cx="442.2" cy="606.0" r="0.8" fill="#4a4f86"/>
<circle cx="442.2" cy="614.6" r="0.8" fill="#4a4f86"/>
<circle cx="442.3" cy="623.3" r="0.8" fill="#4a4f86"/>
<circle cx="442.3" cy="631.9" r="0.8" fill="#4a4f86"/>
<circle cx="442.3" cy="640.5" r="0.8" fill="#4a4f86"/>
<circle cx="448.5" cy="588.8" r="0.8" fill="#4a4f86"/>
<circle cx="449.0" cy="597.4" r="0.8" fill="#4a4f86"/>
<circle cx="449.4" cy="606.0" r="0.8" fill="#4a4f86"/>
<circle cx="449.8" cy="614.6" r="0.8" fill="#4a4f86"/>
<circle cx="450.3" cy="623.3" r="0.8" fill="#4a4f86"/>
<circle cx="450.7" cy="631.9" r="0.8" fill="#4a4f86"/>
<circle cx="451.1" cy="640.5" r="0.8" fill="#4a4f86"/>
<ellipse cx="445.0" cy="582.8" rx="3.9" ry="3.8" fill="#2aa0c8"/>
<circle cx="462.8" cy="662.6" r="0.85" fill="#e08a2a" opacity="0.9"/>
<circle cx="463.3" cy="611.9" r="0.85" fill="#e08a2a" opacity="0.9"/>
<circle cx="459.2" cy="616.4" r="0.85" fill="#e08a2a" opacity="0.9"/>
<circle cx="458.4" cy="595.0" r="0.85" fill="#e08a2a" opacity="0.9"/>
<circle cx="460.8" cy="627.9" r="0.85" fill="#e08a2a" opacity="0.9"/>
<circle cx="459.9" cy="608.9" r="0.85" fill="#e08a2a" opacity="0.9"/>
<circle cx="457.6" cy="595.3" r="0.85" fill="#e08a2a" opacity="0.9"/>
<circle cx="458.8" cy="601.2" r="0.85" fill="#e08a2a" opacity="0.9"/>
<circle cx="456.1" cy="597.8" r="0.85" fill="#e08a2a" opacity="0.9"/>
<circle cx="458.3" cy="616.1" r="0.85" fill="#e08a2a" opacity="0.9"/>
<circle cx="461.3" cy="635.6" r="0.85" fill="#e08a2a" opacity="0.9"/>
<circle cx="462.9" cy="647.1" r="0.85" fill="#e08a2a" opacity="0.9"/>
<circle cx="464.6" cy="644.7" r="0.85" fill="#e08a2a" opacity="0.9"/>
<circle cx="459.2" cy="622.0" r="0.85" fill="#e08a2a" opacity="0.9"/>
<circle cx="459.4" cy="663.4" r="0.85" fill="#e08a2a" opacity="0.9"/>
<circle cx="462.7" cy="645.3" r="0.85" fill="#e08a2a" opacity="0.9"/>
<circle cx="461.6" cy="598.0" r="0.85" fill="#e08a2a" opacity="0.9"/>
<circle cx="463.2" cy="657.0" r="0.85" fill="#e08a2a" opacity="0.9"/>
<circle cx="464.1" cy="646.0" r="0.85" fill="#e08a2a" opacity="0.9"/>
<circle cx="459.8" cy="604.6" r="0.85" fill="#e08a2a" opacity="0.9"/>
<circle cx="463.4" cy="630.0" r="0.85" fill="#e08a2a" opacity="0.9"/>
<circle cx="464.5" cy="650.9" r="0.85" fill="#e08a2a" opacity="0.9"/>
<circle cx="464.2" cy="635.5" r="0.85" fill="#e08a2a" opacity="0.9"/>
<circle cx="463.0" cy="642.4" r="0.85" fill="#e08a2a" opacity="0.9"/>
<circle cx="456.6" cy="610.9" r="0.85" fill="#e08a2a" opacity="0.9"/>
<circle cx="458.7" cy="604.2" r="0.85" fill="#e08a2a" opacity="0.9"/>
<circle cx="456.0" cy="596.9" r="0.8" fill="#4a4f86"/>
<circle cx="456.2" cy="605.0" r="0.8" fill="#4a4f86"/>
<circle cx="456.4" cy="613.1" r="0.8" fill="#4a4f86"/>
<circle cx="456.6" cy="621.3" r="0.8" fill="#4a4f86"/>
<circle cx="456.8" cy="629.4" r="0.8" fill="#4a4f86"/>
<circle cx="457.0" cy="637.5" r="0.8" fill="#4a4f86"/>
<circle cx="457.2" cy="645.6" r="0.8" fill="#4a4f86"/>
<circle cx="462.5" cy="596.9" r="0.8" fill="#4a4f86"/>
<circle cx="463.1" cy="605.0" r="0.8" fill="#4a4f86"/>
<circle cx="463.7" cy="613.1" r="0.8" fill="#4a4f86"/>
<circle cx="464.2" cy="621.3" r="0.8" fill="#4a4f86"/>
<circle cx="464.8" cy="629.4" r="0.8" fill="#4a4f86"/>
<circle cx="465.4" cy="637.5" r="0.8" fill="#4a4f86"/>
<circle cx="466.0" cy="645.6" r="0.8" fill="#4a4f86"/>
<ellipse cx="458.8" cy="591.6" rx="3.9" ry="3.8" fill="#2aa0c8"/>
<circle cx="476.9" cy="603.2" r="0.85" fill="#e08a2a" opacity="0.9"/>
<circle cx="477.6" cy="636.9" r="0.85" fill="#e08a2a" opacity="0.9"/>
<circle cx="478.4" cy="641.9" r="0.85" fill="#e08a2a" opacity="0.9"/>
<circle cx="472.6" cy="631.7" r="0.85" fill="#e08a2a" opacity="0.9"/>
<circle cx="479.8" cy="654.6" r="0.85" fill="#e08a2a" opacity="0.9"/>
<circle cx="476.7" cy="632.7" r="0.85" fill="#e08a2a" opacity="0.9"/>
<circle cx="473.7" cy="644.3" r="0.85" fill="#e08a2a" opacity="0.9"/>
<circle cx="475.5" cy="650.1" r="0.85" fill="#e08a2a" opacity="0.9"/>
<circle cx="472.9" cy="601.0" r="0.85" fill="#e08a2a" opacity="0.9"/>
<circle cx="475.1" cy="649.5" r="0.85" fill="#e08a2a" opacity="0.9"/>
<circle cx="481.3" cy="650.3" r="0.85" fill="#e08a2a" opacity="0.9"/>
<circle cx="475.5" cy="632.1" r="0.85" fill="#e08a2a" opacity="0.9"/>
<circle cx="477.7" cy="631.0" r="0.85" fill="#e08a2a" opacity="0.9"/>
<circle cx="478.6" cy="652.3" r="0.85" fill="#e08a2a" opacity="0.9"/>
<circle cx="473.7" cy="643.1" r="0.85" fill="#e08a2a" opacity="0.9"/>
<circle cx="473.1" cy="606.4" r="0.85" fill="#e08a2a" opacity="0.9"/>
<circle cx="475.9" cy="650.6" r="0.85" fill="#e08a2a" opacity="0.9"/>
<circle cx="472.9" cy="637.5" r="0.85" fill="#e08a2a" opacity="0.9"/>
<circle cx="472.8" cy="599.9" r="0.85" fill="#e08a2a" opacity="0.9"/>
<circle cx="478.7" cy="645.3" r="0.85" fill="#e08a2a" opacity="0.9"/>
<circle cx="475.5" cy="645.6" r="0.85" fill="#e08a2a" opacity="0.9"/>
<circle cx="476.2" cy="633.7" r="0.85" fill="#e08a2a" opacity="0.9"/>
<circle cx="473.4" cy="630.0" r="0.85" fill="#e08a2a" opacity="0.9"/>
<circle cx="475.7" cy="661.7" r="0.85" fill="#e08a2a" opacity="0.9"/>
<circle cx="482.3" cy="668.0" r="0.85" fill="#e08a2a" opacity="0.9"/>
<circle cx="473.9" cy="596.7" r="0.85" fill="#e08a2a" opacity="0.9"/>
<circle cx="471.0" cy="597.6" r="0.8" fill="#4a4f86"/>
<circle cx="471.4" cy="606.2" r="0.8" fill="#4a4f86"/>
<circle cx="471.7" cy="614.9" r="0.8" fill="#4a4f86"/>
<circle cx="472.0" cy="623.5" r="0.8" fill="#4a4f86"/>
<circle cx="472.4" cy="632.2" r="0.8" fill="#4a4f86"/>
<circle cx="472.7" cy="640.8" r="0.8" fill="#4a4f86"/>
<circle cx="473.0" cy="649.4" r="0.8" fill="#4a4f86"/>
<circle cx="477.5" cy="597.6" r="0.8" fill="#4a4f86"/>
<circle cx="478.2" cy="606.2" r="0.8" fill="#4a4f86"/>
<circle cx="478.9" cy="614.9" r="0.8" fill="#4a4f86"/>
<circle cx="479.7" cy="623.5" r="0.8" fill="#4a4f86"/>
<circle cx="480.4" cy="632.2" r="0.8" fill="#4a4f86"/>
<circle cx="481.1" cy="640.8" r="0.8" fill="#4a4f86"/>
<circle cx="481.8" cy="649.4" r="0.8" fill="#4a4f86"/>
<ellipse cx="473.6" cy="591.6" rx="3.9" ry="3.8" fill="#2aa0c8"/>
<circle cx="502.7" cy="646.1" r="0.85" fill="#e08a2a" opacity="0.9"/>
<circle cx="495.9" cy="618.6" r="0.85" fill="#e08a2a" opacity="0.9"/>
<circle cx="500.0" cy="600.8" r="0.85" fill="#e08a2a" opacity="0.9"/>
<circle cx="497.5" cy="600.9" r="0.85" fill="#e08a2a" opacity="0.9"/>
<circle cx="496.8" cy="595.8" r="0.85" fill="#e08a2a" opacity="0.9"/>
<circle cx="496.2" cy="656.0" r="0.85" fill="#e08a2a" opacity="0.9"/>
<circle cx="499.0" cy="646.2" r="0.85" fill="#e08a2a" opacity="0.9"/>
<circle cx="500.8" cy="651.1" r="0.85" fill="#e08a2a" opacity="0.9"/>
<circle cx="499.8" cy="602.4" r="0.85" fill="#e08a2a" opacity="0.9"/>
<circle cx="494.2" cy="621.4" r="0.85" fill="#e08a2a" opacity="0.9"/>
<circle cx="496.1" cy="585.5" r="0.85" fill="#e08a2a" opacity="0.9"/>
<circle cx="496.2" cy="618.7" r="0.85" fill="#e08a2a" opacity="0.9"/>
<circle cx="495.6" cy="595.7" r="0.85" fill="#e08a2a" opacity="0.9"/>
<circle cx="499.7" cy="608.7" r="0.85" fill="#e08a2a" opacity="0.9"/>
<circle cx="497.9" cy="585.4" r="0.85" fill="#e08a2a" opacity="0.9"/>
<circle cx="495.8" cy="647.6" r="0.85" fill="#e08a2a" opacity="0.9"/>
<circle cx="501.0" cy="654.0" r="0.85" fill="#e08a2a" opacity="0.9"/>
<circle cx="497.4" cy="652.2" r="0.85" fill="#e08a2a" opacity="0.9"/>
<circle cx="496.6" cy="612.9" r="0.85" fill="#e08a2a" opacity="0.9"/>
<circle cx="500.2" cy="659.4" r="0.85" fill="#e08a2a" opacity="0.9"/>
<circle cx="496.8" cy="612.0" r="0.85" fill="#e08a2a" opacity="0.9"/>
<circle cx="493.8" cy="605.7" r="0.85" fill="#e08a2a" opacity="0.9"/>
<circle cx="498.8" cy="592.8" r="0.85" fill="#e08a2a" opacity="0.9"/>
<circle cx="500.3" cy="606.5" r="0.85" fill="#e08a2a" opacity="0.9"/>
<circle cx="495.3" cy="603.8" r="0.85" fill="#e08a2a" opacity="0.9"/>
<circle cx="495.5" cy="623.2" r="0.85" fill="#e08a2a" opacity="0.9"/>
<circle cx="493.0" cy="587.4" r="0.8" fill="#4a4f86"/>
<circle cx="493.2" cy="596.1" r="0.8" fill="#4a4f86"/>
<circle cx="493.4" cy="604.7" r="0.8" fill="#4a4f86"/>
<circle cx="493.6" cy="613.4" r="0.8" fill="#4a4f86"/>
<circle cx="493.8" cy="622.0" r="0.8" fill="#4a4f86"/>
<circle cx="494.0" cy="630.7" r="0.8" fill="#4a4f86"/>
<circle cx="494.2" cy="639.3" r="0.8" fill="#4a4f86"/>
<circle cx="499.5" cy="587.4" r="0.8" fill="#4a4f86"/>
<circle cx="500.1" cy="596.1" r="0.8" fill="#4a4f86"/>
<circle cx="500.7" cy="604.7" r="0.8" fill="#4a4f86"/>
<circle cx="501.2" cy="613.4" r="0.8" fill="#4a4f86"/>
<circle cx="501.8" cy="622.0" r="0.8" fill="#4a4f86"/>
<circle cx="502.4" cy="630.7" r="0.8" fill="#4a4f86"/>
<circle cx="503.0" cy="639.3" r="0.8" fill="#4a4f86"/>
<ellipse cx="495.8" cy="581.4" rx="3.9" ry="3.8" fill="#2aa0c8"/>
<circle cx="516.4" cy="602.2" r="0.85" fill="#e08a2a" opacity="0.9"/>
<circle cx="516.7" cy="639.5" r="0.85" fill="#e08a2a" opacity="0.9"/>
<circle cx="516.8" cy="621.0" r="0.85" fill="#e08a2a" opacity="0.9"/>
<circle cx="514.6" cy="643.6" r="0.85" fill="#e08a2a" opacity="0.9"/>
<circle cx="510.1" cy="627.5" r="0.85" fill="#e08a2a" opacity="0.9"/>
<circle cx="513.4" cy="628.4" r="0.85" fill="#e08a2a" opacity="0.9"/>
<circle cx="515.0" cy="629.9" r="0.85" fill="#e08a2a" opacity="0.9"/>
<circle cx="509.6" cy="595.8" r="0.85" fill="#e08a2a" opacity="0.9"/>
<circle cx="511.0" cy="642.6" r="0.85" fill="#e08a2a" opacity="0.9"/>
<circle cx="512.0" cy="609.4" r="0.85" fill="#e08a2a" opacity="0.9"/>
<circle cx="514.6" cy="596.7" r="0.85" fill="#e08a2a" opacity="0.9"/>
<circle cx="512.2" cy="646.2" r="0.85" fill="#e08a2a" opacity="0.9"/>
<circle cx="512.0" cy="622.8" r="0.85" fill="#e08a2a" opacity="0.9"/>
<circle cx="512.6" cy="615.6" r="0.85" fill="#e08a2a" opacity="0.9"/>
<circle cx="510.2" cy="587.1" r="0.85" fill="#e08a2a" opacity="0.9"/>
<circle cx="515.5" cy="590.1" r="0.85" fill="#e08a2a" opacity="0.9"/>
<circle cx="511.1" cy="611.2" r="0.85" fill="#e08a2a" opacity="0.9"/>
<circle cx="518.3" cy="641.1" r="0.85" fill="#e08a2a" opacity="0.9"/>
<circle cx="510.5" cy="607.8" r="0.85" fill="#e08a2a" opacity="0.9"/>
<circle cx="509.8" cy="589.0" r="0.85" fill="#e08a2a" opacity="0.9"/>
<circle cx="510.0" cy="599.9" r="0.85" fill="#e08a2a" opacity="0.9"/>
<circle cx="511.0" cy="592.4" r="0.85" fill="#e08a2a" opacity="0.9"/>
<circle cx="516.4" cy="616.5" r="0.85" fill="#e08a2a" opacity="0.9"/>
<circle cx="513.1" cy="629.7" r="0.85" fill="#e08a2a" opacity="0.9"/>
<circle cx="513.3" cy="605.1" r="0.85" fill="#e08a2a" opacity="0.9"/>
<circle cx="511.8" cy="602.4" r="0.85" fill="#e08a2a" opacity="0.9"/>
<circle cx="509.1" cy="577.0" r="0.8" fill="#4a4f86"/>
<circle cx="509.1" cy="585.5" r="0.8" fill="#4a4f86"/>
<circle cx="509.2" cy="594.1" r="0.8" fill="#4a4f86"/>
<circle cx="509.2" cy="602.6" r="0.8" fill="#4a4f86"/>
<circle cx="509.3" cy="611.1" r="0.8" fill="#4a4f86"/>
<circle cx="509.3" cy="619.6" r="0.8" fill="#4a4f86"/>
<circle cx="509.3" cy="628.1" r="0.8" fill="#4a4f86"/>
<circle cx="515.5" cy="577.0" r="0.8" fill="#4a4f86"/>
<circle cx="516.0" cy="585.5" r="0.8" fill="#4a4f86"/>
<circle cx="516.4" cy="594.1" r="0.8" fill="#4a4f86"/>
<circle cx="516.8" cy="602.6" r="0.8" fill="#4a4f86"/>
<circle cx="517.3" cy="611.1" r="0.8" fill="#4a4f86"/>
<circle cx="517.7" cy="619.6" r="0.8" fill="#4a4f86"/>
<circle cx="518.1" cy="628.1" r="0.8" fill="#4a4f86"/>
<ellipse cx="512.0" cy="571.2" rx="3.9" ry="3.8" fill="#2aa0c8"/>
<circle cx="525.2" cy="581.7" r="0.85" fill="#e08a2a" opacity="0.9"/>
<circle cx="525.0" cy="647.2" r="0.85" fill="#e08a2a" opacity="0.9"/>
<circle cx="528.4" cy="613.6" r="0.85" fill="#e08a2a" opacity="0.9"/>
<circle cx="525.6" cy="639.6" r="0.85" fill="#e08a2a" opacity="0.9"/>
<circle cx="525.2" cy="596.8" r="0.85" fill="#e08a2a" opacity="0.9"/>
<circle cx="526.8" cy="606.1" r="0.85" fill="#e08a2a" opacity="0.9"/>
<circle cx="531.1" cy="646.2" r="0.85" fill="#e08a2a" opacity="0.9"/>
<circle cx="524.0" cy="640.3" r="0.85" fill="#e08a2a" opacity="0.9"/>
<circle cx="528.0" cy="579.6" r="0.85" fill="#e08a2a" opacity="0.9"/>
<circle cx="527.8" cy="642.0" r="0.85" fill="#e08a2a" opacity="0.9"/>
<circle cx="523.7" cy="619.7" r="0.85" fill="#e08a2a" opacity="0.9"/>
<circle cx="530.4" cy="605.5" r="0.85" fill="#e08a2a" opacity="0.9"/>
<circle cx="530.9" cy="636.9" r="0.85" fill="#e08a2a" opacity="0.9"/>
<circle cx="526.0" cy="647.5" r="0.85" fill="#e08a2a" opacity="0.9"/>
<circle cx="524.4" cy="585.1" r="0.85" fill="#e08a2a" opacity="0.9"/>
<circle cx="528.8" cy="615.0" r="0.85" fill="#e08a2a" opacity="0.9"/>
<circle cx="530.0" cy="645.3" r="0.85" fill="#e08a2a" opacity="0.9"/>
<circle cx="529.8" cy="624.0" r="0.85" fill="#e08a2a" opacity="0.9"/>
<circle cx="527.7" cy="610.3" r="0.85" fill="#e08a2a" opacity="0.9"/>
<circle cx="528.6" cy="580.1" r="0.85" fill="#e08a2a" opacity="0.9"/>
<circle cx="530.0" cy="594.0" r="0.85" fill="#e08a2a" opacity="0.9"/>
<circle cx="526.1" cy="623.9" r="0.85" fill="#e08a2a" opacity="0.9"/>
<circle cx="525.1" cy="586.5" r="0.85" fill="#e08a2a" opacity="0.9"/>
<circle cx="529.2" cy="623.2" r="0.85" fill="#e08a2a" opacity="0.9"/>
<circle cx="523.8" cy="585.3" r="0.85" fill="#e08a2a" opacity="0.9"/>
<circle cx="528.1" cy="615.1" r="0.85" fill="#e08a2a" opacity="0.9"/>
<circle cx="523.4" cy="579.3" r="0.8" fill="#4a4f86"/>
<circle cx="523.4" cy="587.8" r="0.8" fill="#4a4f86"/>
<circle cx="523.4" cy="596.2" r="0.8" fill="#4a4f86"/>
<circle cx="523.4" cy="604.6" r="0.8" fill="#4a4f86"/>
<circle cx="523.4" cy="613.0" r="0.8" fill="#4a4f86"/>
<circle cx="523.4" cy="621.5" r="0.8" fill="#4a4f86"/>
<circle cx="523.4" cy="629.9" r="0.8" fill="#4a4f86"/>
<circle cx="529.9" cy="579.3" r="0.8" fill="#4a4f86"/>
<circle cx="530.3" cy="587.8" r="0.8" fill="#4a4f86"/>
<circle cx="530.6" cy="596.2" r="0.8" fill="#4a4f86"/>
<circle cx="531.0" cy="604.6" r="0.8" fill="#4a4f86"/>
<circle cx="531.4" cy="613.0" r="0.8" fill="#4a4f86"/>
<circle cx="531.8" cy="621.5" r="0.8" fill="#4a4f86"/>
<circle cx="532.2" cy="629.9" r="0.8" fill="#4a4f86"/>
<ellipse cx="526.4" cy="573.6" rx="3.9" ry="3.8" fill="#2aa0c8"/>
<circle cx="538.8" cy="611.8" r="0.85" fill="#e08a2a" opacity="0.9"/>
<circle cx="537.5" cy="626.7" r="0.85" fill="#e08a2a" opacity="0.9"/>
<circle cx="540.3" cy="605.8" r="0.85" fill="#e08a2a" opacity="0.9"/>
<circle cx="543.5" cy="651.7" r="0.85" fill="#e08a2a" opacity="0.9"/>
<circle cx="541.9" cy="646.5" r="0.85" fill="#e08a2a" opacity="0.9"/>
<circle cx="538.7" cy="601.1" r="0.85" fill="#e08a2a" opacity="0.9"/>
<circle cx="544.0" cy="651.8" r="0.85" fill="#e08a2a" opacity="0.9"/>
<circle cx="537.2" cy="606.2" r="0.85" fill="#e08a2a" opacity="0.9"/>
<circle cx="542.4" cy="619.5" r="0.85" fill="#e08a2a" opacity="0.9"/>
<circle cx="539.1" cy="614.1" r="0.85" fill="#e08a2a" opacity="0.9"/>
<circle cx="544.9" cy="631.3" r="0.85" fill="#e08a2a" opacity="0.9"/>
<circle cx="537.2" cy="600.6" r="0.85" fill="#e08a2a" opacity="0.9"/>
<circle cx="540.1" cy="608.3" r="0.85" fill="#e08a2a" opacity="0.9"/>
<circle cx="539.2" cy="632.4" r="0.85" fill="#e08a2a" opacity="0.9"/>
<circle cx="543.8" cy="640.4" r="0.85" fill="#e08a2a" opacity="0.9"/>
<circle cx="538.9" cy="620.0" r="0.85" fill="#e08a2a" opacity="0.9"/>
<circle cx="540.7" cy="652.5" r="0.85" fill="#e08a2a" opacity="0.9"/>
<circle cx="539.7" cy="642.0" r="0.85" fill="#e08a2a" opacity="0.9"/>
<circle cx="542.3" cy="600.2" r="0.85" fill="#e08a2a" opacity="0.9"/>
<circle cx="543.9" cy="605.3" r="0.85" fill="#e08a2a" opacity="0.9"/>
<circle cx="538.7" cy="619.4" r="0.85" fill="#e08a2a" opacity="0.9"/>
<circle cx="539.9" cy="600.3" r="0.85" fill="#e08a2a" opacity="0.9"/>
<circle cx="545.1" cy="631.2" r="0.85" fill="#e08a2a" opacity="0.9"/>
<circle cx="539.5" cy="595.0" r="0.85" fill="#e08a2a" opacity="0.9"/>
<circle cx="543.8" cy="599.6" r="0.85" fill="#e08a2a" opacity="0.9"/>
<circle cx="537.1" cy="594.6" r="0.85" fill="#e08a2a" opacity="0.9"/>
<circle cx="536.7" cy="586.8" r="0.8" fill="#4a4f86"/>
<circle cx="536.8" cy="594.9" r="0.8" fill="#4a4f86"/>
<circle cx="536.9" cy="603.0" r="0.8" fill="#4a4f86"/>
<circle cx="537.0" cy="611.2" r="0.8" fill="#4a4f86"/>
<circle cx="537.1" cy="619.3" r="0.8" fill="#4a4f86"/>
<circle cx="537.2" cy="627.5" r="0.8" fill="#4a4f86"/>
<circle cx="537.3" cy="635.6" r="0.8" fill="#4a4f86"/>
<circle cx="543.2" cy="586.8" r="0.8" fill="#4a4f86"/>
<circle cx="543.7" cy="594.9" r="0.8" fill="#4a4f86"/>
<circle cx="544.2" cy="603.0" r="0.8" fill="#4a4f86"/>
<circle cx="544.6" cy="611.2" r="0.8" fill="#4a4f86"/>
<circle cx="545.1" cy="619.3" r="0.8" fill="#4a4f86"/>
<circle cx="545.6" cy="627.5" r="0.8" fill="#4a4f86"/>
<circle cx="546.1" cy="635.6" r="0.8" fill="#4a4f86"/>
<ellipse cx="539.6" cy="581.4" rx="3.9" ry="3.8" fill="#2aa0c8"/>
<circle cx="554.1" cy="589.5" r="0.85" fill="#e08a2a" opacity="0.9"/>
<circle cx="559.3" cy="644.1" r="0.85" fill="#e08a2a" opacity="0.9"/>
<circle cx="559.8" cy="633.3" r="0.85" fill="#e08a2a" opacity="0.9"/>
<circle cx="554.7" cy="646.2" r="0.85" fill="#e08a2a" opacity="0.9"/>
<circle cx="558.1" cy="597.7" r="0.85" fill="#e08a2a" opacity="0.9"/>
<circle cx="552.0" cy="634.2" r="0.85" fill="#e08a2a" opacity="0.9"/>
<circle cx="554.8" cy="628.8" r="0.85" fill="#e08a2a" opacity="0.9"/>
<circle cx="554.1" cy="609.9" r="0.85" fill="#e08a2a" opacity="0.9"/>
<circle cx="551.5" cy="596.6" r="0.85" fill="#e08a2a" opacity="0.9"/>
<circle cx="554.1" cy="603.8" r="0.85" fill="#e08a2a" opacity="0.9"/>
<circle cx="552.9" cy="647.8" r="0.85" fill="#e08a2a" opacity="0.9"/>
<circle cx="553.7" cy="648.4" r="0.85" fill="#e08a2a" opacity="0.9"/>
<circle cx="557.6" cy="608.8" r="0.85" fill="#e08a2a" opacity="0.9"/>
<circle cx="555.4" cy="639.1" r="0.85" fill="#e08a2a" opacity="0.9"/>
<circle cx="554.7" cy="588.8" r="0.85" fill="#e08a2a" opacity="0.9"/>
<circle cx="558.4" cy="609.8" r="0.85" fill="#e08a2a" opacity="0.9"/>
<circle cx="554.1" cy="598.1" r="0.85" fill="#e08a2a" opacity="0.9"/>
<circle cx="552.1" cy="644.0" r="0.85" fill="#e08a2a" opacity="0.9"/>
<circle cx="557.7" cy="612.3" r="0.85" fill="#e08a2a" opacity="0.9"/>
<circle cx="552.1" cy="635.5" r="0.85" fill="#e08a2a" opacity="0.9"/>
<circle cx="551.9" cy="587.9" r="0.85" fill="#e08a2a" opacity="0.9"/>
<circle cx="554.0" cy="645.5" r="0.85" fill="#e08a2a" opacity="0.9"/>
<circle cx="559.1" cy="634.2" r="0.85" fill="#e08a2a" opacity="0.9"/>
<circle cx="553.6" cy="607.7" r="0.85" fill="#e08a2a" opacity="0.9"/>
<circle cx="557.1" cy="647.9" r="0.85" fill="#e08a2a" opacity="0.9"/>
<circle cx="556.7" cy="602.7" r="0.85" fill="#e08a2a" opacity="0.9"/>
<circle cx="551.6" cy="587.5" r="0.8" fill="#4a4f86"/>
<circle cx="551.5" cy="595.1" r="0.8" fill="#4a4f86"/>
<circle cx="551.5" cy="602.6" r="0.8" fill="#4a4f86"/>
<circle cx="551.5" cy="610.2" r="0.8" fill="#4a4f86"/>
<circle cx="551.5" cy="617.8" r="0.8" fill="#4a4f86"/>
<circle cx="551.4" cy="625.4" r="0.8" fill="#4a4f86"/>
<circle cx="551.4" cy="633.0" r="0.8" fill="#4a4f86"/>
<circle cx="558.1" cy="587.5" r="0.8" fill="#4a4f86"/>
<circle cx="558.4" cy="595.1" r="0.8" fill="#4a4f86"/>
<circle cx="558.8" cy="602.6" r="0.8" fill="#4a4f86"/>
<circle cx="559.1" cy="610.2" r="0.8" fill="#4a4f86"/>
<circle cx="559.5" cy="617.8" r="0.8" fill="#4a4f86"/>
<circle cx="559.9" cy="625.4" r="0.8" fill="#4a4f86"/>
<circle cx="560.2" cy="633.0" r="0.8" fill="#4a4f86"/>
<ellipse cx="554.6" cy="582.8" rx="3.9" ry="3.8" fill="#2aa0c8"/>
<circle cx="569.5" cy="603.7" r="0.85" fill="#e08a2a" opacity="0.9"/>
<circle cx="573.0" cy="584.5" r="0.85" fill="#e08a2a" opacity="0.9"/>
<circle cx="572.1" cy="640.5" r="0.85" fill="#e08a2a" opacity="0.9"/>
<circle cx="566.9" cy="642.1" r="0.85" fill="#e08a2a" opacity="0.9"/>
<circle cx="571.0" cy="598.6" r="0.85" fill="#e08a2a" opacity="0.9"/>
<circle cx="574.8" cy="642.9" r="0.85" fill="#e08a2a" opacity="0.9"/>
<circle cx="569.3" cy="608.0" r="0.85" fill="#e08a2a" opacity="0.9"/>
<circle cx="571.1" cy="610.6" r="0.85" fill="#e08a2a" opacity="0.9"/>
<circle cx="568.3" cy="641.2" r="0.85" fill="#e08a2a" opacity="0.9"/>
<circle cx="573.0" cy="633.5" r="0.85" fill="#e08a2a" opacity="0.9"/>
<circle cx="573.3" cy="634.7" r="0.85" fill="#e08a2a" opacity="0.9"/>
<circle cx="569.7" cy="621.5" r="0.85" fill="#e08a2a" opacity="0.9"/>
<circle cx="570.2" cy="603.8" r="0.85" fill="#e08a2a" opacity="0.9"/>
<circle cx="567.6" cy="632.2" r="0.85" fill="#e08a2a" opacity="0.9"/>
<circle cx="573.0" cy="596.3" r="0.85" fill="#e08a2a" opacity="0.9"/>
<circle cx="568.1" cy="599.4" r="0.85" fill="#e08a2a" opacity="0.9"/>
<circle cx="571.6" cy="586.3" r="0.85" fill="#e08a2a" opacity="0.9"/>
<circle cx="574.7" cy="604.2" r="0.85" fill="#e08a2a" opacity="0.9"/>
<circle cx="575.1" cy="638.4" r="0.85" fill="#e08a2a" opacity="0.9"/>
<circle cx="568.2" cy="600.5" r="0.85" fill="#e08a2a" opacity="0.9"/>
<circle cx="571.2" cy="590.2" r="0.85" fill="#e08a2a" opacity="0.9"/>
<circle cx="570.6" cy="627.8" r="0.85" fill="#e08a2a" opacity="0.9"/>
<circle cx="570.6" cy="598.6" r="0.85" fill="#e08a2a" opacity="0.9"/>
<circle cx="572.4" cy="622.3" r="0.85" fill="#e08a2a" opacity="0.9"/>
<circle cx="573.8" cy="630.1" r="0.85" fill="#e08a2a" opacity="0.9"/>
<circle cx="568.0" cy="625.0" r="0.85" fill="#e08a2a" opacity="0.9"/>
<circle cx="568.0" cy="586.0" r="0.8" fill="#4a4f86"/>
<circle cx="567.8" cy="593.2" r="0.8" fill="#4a4f86"/>
<circle cx="567.6" cy="600.3" r="0.8" fill="#4a4f86"/>
<circle cx="567.3" cy="607.5" r="0.8" fill="#4a4f86"/>
<circle cx="567.1" cy="614.6" r="0.8" fill="#4a4f86"/>
<circle cx="566.9" cy="621.8" r="0.8" fill="#4a4f86"/>
<circle cx="566.6" cy="628.9" r="0.8" fill="#4a4f86"/>
<circle cx="574.5" cy="586.0" r="0.8" fill="#4a4f86"/>
<circle cx="574.7" cy="593.2" r="0.8" fill="#4a4f86"/>
<circle cx="574.8" cy="600.3" r="0.8" fill="#4a4f86"/>
<circle cx="575.0" cy="607.5" r="0.8" fill="#4a4f86"/>
<circle cx="575.1" cy="614.6" r="0.8" fill="#4a4f86"/>
<circle cx="575.3" cy="621.8" r="0.8" fill="#4a4f86"/>
<circle cx="575.4" cy="628.9" r="0.8" fill="#4a4f86"/>
<ellipse cx="571.3" cy="581.9" rx="3.9" ry="3.8" fill="#2aa0c8"/>
<circle cx="583.3" cy="634.9" r="0.85" fill="#e08a2a" opacity="0.9"/>
<circle cx="584.5" cy="618.6" r="0.85" fill="#e08a2a" opacity="0.9"/>
<circle cx="582.8" cy="628.8" r="0.85" fill="#e08a2a" opacity="0.9"/>
<circle cx="584.2" cy="599.6" r="0.85" fill="#e08a2a" opacity="0.9"/>
<circle cx="588.8" cy="594.0" r="0.85" fill="#e08a2a" opacity="0.9"/>
<circle cx="584.1" cy="619.3" r="0.85" fill="#e08a2a" opacity="0.9"/>
<circle cx="589.4" cy="608.5" r="0.85" fill="#e08a2a" opacity="0.9"/>
<circle cx="583.5" cy="615.1" r="0.85" fill="#e08a2a" opacity="0.9"/>
<circle cx="586.3" cy="633.0" r="0.85" fill="#e08a2a" opacity="0.9"/>
<circle cx="581.4" cy="643.9" r="0.85" fill="#e08a2a" opacity="0.9"/>
<circle cx="588.0" cy="613.2" r="0.85" fill="#e08a2a" opacity="0.9"/>
<circle cx="588.5" cy="634.9" r="0.85" fill="#e08a2a" opacity="0.9"/>
<circle cx="585.0" cy="587.3" r="0.85" fill="#e08a2a" opacity="0.9"/>
<circle cx="584.1" cy="592.0" r="0.85" fill="#e08a2a" opacity="0.9"/>
<circle cx="585.5" cy="642.8" r="0.85" fill="#e08a2a" opacity="0.9"/>
<circle cx="583.8" cy="640.3" r="0.85" fill="#e08a2a" opacity="0.9"/>
<circle cx="584.6" cy="636.4" r="0.85" fill="#e08a2a" opacity="0.9"/>
<circle cx="588.0" cy="600.4" r="0.85" fill="#e08a2a" opacity="0.9"/>
<circle cx="581.5" cy="641.2" r="0.85" fill="#e08a2a" opacity="0.9"/>
<circle cx="586.4" cy="620.4" r="0.85" fill="#e08a2a" opacity="0.9"/>
<circle cx="585.1" cy="597.9" r="0.85" fill="#e08a2a" opacity="0.9"/>
<circle cx="584.1" cy="593.3" r="0.85" fill="#e08a2a" opacity="0.9"/>
<circle cx="586.7" cy="600.1" r="0.85" fill="#e08a2a" opacity="0.9"/>
<circle cx="583.0" cy="623.7" r="0.85" fill="#e08a2a" opacity="0.9"/>
<circle cx="585.2" cy="585.6" r="0.85" fill="#e08a2a" opacity="0.9"/>
<circle cx="582.8" cy="625.3" r="0.85" fill="#e08a2a" opacity="0.9"/>
<circle cx="583.1" cy="586.7" r="0.8" fill="#4a4f86"/>
<circle cx="582.7" cy="593.6" r="0.8" fill="#4a4f86"/>
<circle cx="582.4" cy="600.5" r="0.8" fill="#4a4f86"/>
<circle cx="582.0" cy="607.5" r="0.8" fill="#4a4f86"/>
<circle cx="581.6" cy="614.4" r="0.8" fill="#4a4f86"/>
<circle cx="581.2" cy="621.3" r="0.8" fill="#4a4f86"/>
<circle cx="580.8" cy="628.2" r="0.8" fill="#4a4f86"/>
<circle cx="589.6" cy="586.7" r="0.8" fill="#4a4f86"/>
<circle cx="589.6" cy="593.6" r="0.8" fill="#4a4f86"/>
<circle cx="589.6" cy="600.5" r="0.8" fill="#4a4f86"/>
<circle cx="589.6" cy="607.5" r="0.8" fill="#4a4f86"/>
<circle cx="589.6" cy="614.4" r="0.8" fill="#4a4f86"/>
<circle cx="589.6" cy="621.3" r="0.8" fill="#4a4f86"/>
<circle cx="589.6" cy="628.2" r="0.8" fill="#4a4f86"/>
<ellipse cx="586.6" cy="582.8" rx="3.9" ry="3.8" fill="#2aa0c8"/>
<circle cx="597.1" cy="599.0" r="0.85" fill="#e08a2a" opacity="0.9"/>
<circle cx="598.5" cy="630.3" r="0.85" fill="#e08a2a" opacity="0.9"/>
<circle cx="597.1" cy="582.8" r="0.85" fill="#e08a2a" opacity="0.9"/>
<circle cx="599.4" cy="604.4" r="0.85" fill="#e08a2a" opacity="0.9"/>
<circle cx="595.3" cy="620.2" r="0.85" fill="#e08a2a" opacity="0.9"/>
<circle cx="600.9" cy="589.4" r="0.85" fill="#e08a2a" opacity="0.9"/>
<circle cx="597.4" cy="605.3" r="0.85" fill="#e08a2a" opacity="0.9"/>
<circle cx="602.5" cy="598.7" r="0.85" fill="#e08a2a" opacity="0.9"/>
<circle cx="599.7" cy="599.0" r="0.85" fill="#e08a2a" opacity="0.9"/>
<circle cx="598.5" cy="601.9" r="0.85" fill="#e08a2a" opacity="0.9"/>
<circle cx="602.1" cy="634.7" r="0.85" fill="#e08a2a" opacity="0.9"/>
<circle cx="596.9" cy="602.3" r="0.85" fill="#e08a2a" opacity="0.9"/>
<circle cx="595.9" cy="625.9" r="0.85" fill="#e08a2a" opacity="0.9"/>
<circle cx="602.6" cy="579.1" r="0.85" fill="#e08a2a" opacity="0.9"/>
<circle cx="601.4" cy="606.2" r="0.85" fill="#e08a2a" opacity="0.9"/>
<circle cx="601.9" cy="605.1" r="0.85" fill="#e08a2a" opacity="0.9"/>
<circle cx="596.3" cy="608.6" r="0.85" fill="#e08a2a" opacity="0.9"/>
<circle cx="600.2" cy="579.7" r="0.85" fill="#e08a2a" opacity="0.9"/>
<circle cx="601.7" cy="620.3" r="0.85" fill="#e08a2a" opacity="0.9"/>
<circle cx="600.6" cy="584.5" r="0.85" fill="#e08a2a" opacity="0.9"/>
<circle cx="599.1" cy="602.8" r="0.85" fill="#e08a2a" opacity="0.9"/>
<circle cx="598.1" cy="588.2" r="0.85" fill="#e08a2a" opacity="0.9"/>
<circle cx="602.0" cy="612.5" r="0.85" fill="#e08a2a" opacity="0.9"/>
<circle cx="599.6" cy="585.8" r="0.85" fill="#e08a2a" opacity="0.9"/>
<circle cx="602.0" cy="630.9" r="0.85" fill="#e08a2a" opacity="0.9"/>
<circle cx="596.9" cy="591.5" r="0.85" fill="#e08a2a" opacity="0.9"/>
<circle cx="596.6" cy="580.6" r="0.8" fill="#4a4f86"/>
<circle cx="596.2" cy="588.2" r="0.8" fill="#4a4f86"/>
<circle cx="595.7" cy="595.7" r="0.8" fill="#4a4f86"/>
<circle cx="595.3" cy="603.3" r="0.8" fill="#4a4f86"/>
<circle cx="594.8" cy="610.8" r="0.8" fill="#4a4f86"/>
<circle cx="594.3" cy="618.4" r="0.8" fill="#4a4f86"/>
<circle cx="593.9" cy="625.9" r="0.8" fill="#4a4f86"/>
<circle cx="603.1" cy="580.6" r="0.8" fill="#4a4f86"/>
<circle cx="603.0" cy="588.2" r="0.8" fill="#4a4f86"/>
<circle cx="603.0" cy="595.7" r="0.8" fill="#4a4f86"/>
<circle cx="602.9" cy="603.3" r="0.8" fill="#4a4f86"/>
<circle cx="602.8" cy="610.8" r="0.8" fill="#4a4f86"/>
<circle cx="602.8" cy="618.4" r="0.8" fill="#4a4f86"/>
<circle cx="602.7" cy="625.9" r="0.8" fill="#4a4f86"/>
<ellipse cx="600.2" cy="576.0" rx="3.9" ry="3.8" fill="#2aa0c8"/>
<circle cx="615.8" cy="640.2" r="0.85" fill="#e08a2a" opacity="0.9"/>
<circle cx="609.6" cy="608.7" r="0.85" fill="#e08a2a" opacity="0.9"/>
<circle cx="610.9" cy="639.0" r="0.85" fill="#e08a2a" opacity="0.9"/>
<circle cx="612.9" cy="637.5" r="0.85" fill="#e08a2a" opacity="0.9"/>
<circle cx="609.3" cy="632.1" r="0.85" fill="#e08a2a" opacity="0.9"/>
<circle cx="609.9" cy="629.4" r="0.85" fill="#e08a2a" opacity="0.9"/>
<circle cx="615.8" cy="603.4" r="0.85" fill="#e08a2a" opacity="0.9"/>
<circle cx="609.4" cy="632.4" r="0.85" fill="#e08a2a" opacity="0.9"/>
<circle cx="613.0" cy="590.7" r="0.85" fill="#e08a2a" opacity="0.9"/>
<circle cx="612.0" cy="611.1" r="0.85" fill="#e08a2a" opacity="0.9"/>
<circle cx="612.2" cy="584.2" r="0.85" fill="#e08a2a" opacity="0.9"/>
<circle cx="615.6" cy="625.3" r="0.85" fill="#e08a2a" opacity="0.9"/>
<circle cx="614.6" cy="578.6" r="0.85" fill="#e08a2a" opacity="0.9"/>
<circle cx="608.5" cy="627.5" r="0.85" fill="#e08a2a" opacity="0.9"/>
<circle cx="608.9" cy="633.0" r="0.85" fill="#e08a2a" opacity="0.9"/>
<circle cx="613.1" cy="616.7" r="0.85" fill="#e08a2a" opacity="0.9"/>
<circle cx="611.1" cy="618.6" r="0.85" fill="#e08a2a" opacity="0.9"/>
<circle cx="613.8" cy="604.4" r="0.85" fill="#e08a2a" opacity="0.9"/>
<circle cx="614.3" cy="604.8" r="0.85" fill="#e08a2a" opacity="0.9"/>
<circle cx="612.6" cy="606.3" r="0.85" fill="#e08a2a" opacity="0.9"/>
<circle cx="615.0" cy="577.4" r="0.85" fill="#e08a2a" opacity="0.9"/>
<circle cx="611.0" cy="609.2" r="0.85" fill="#e08a2a" opacity="0.9"/>
<circle cx="614.5" cy="627.9" r="0.85" fill="#e08a2a" opacity="0.9"/>
<circle cx="610.6" cy="607.1" r="0.85" fill="#e08a2a" opacity="0.9"/>
<circle cx="610.0" cy="608.1" r="0.85" fill="#e08a2a" opacity="0.9"/>
<circle cx="613.5" cy="584.5" r="0.85" fill="#e08a2a" opacity="0.9"/>
<circle cx="611.0" cy="577.7" r="0.8" fill="#4a4f86"/>
<circle cx="610.5" cy="585.7" r="0.8" fill="#4a4f86"/>
<circle cx="610.0" cy="593.7" r="0.8" fill="#4a4f86"/>
<circle cx="609.5" cy="601.6" r="0.8" fill="#4a4f86"/>
<circle cx="609.0" cy="609.6" r="0.8" fill="#4a4f86"/>
<circle cx="608.4" cy="617.5" r="0.8" fill="#4a4f86"/>
<circle cx="607.9" cy="625.5" r="0.8" fill="#4a4f86"/>
<circle cx="617.5" cy="577.7" r="0.8" fill="#4a4f86"/>
<circle cx="617.3" cy="585.7" r="0.8" fill="#4a4f86"/>
<circle cx="617.2" cy="593.7" r="0.8" fill="#4a4f86"/>
<circle cx="617.1" cy="601.6" r="0.8" fill="#4a4f86"/>
<circle cx="617.0" cy="609.6" r="0.8" fill="#4a4f86"/>
<circle cx="616.9" cy="617.5" r="0.8" fill="#4a4f86"/>
<circle cx="616.7" cy="625.5" r="0.8" fill="#4a4f86"/>
<ellipse cx="614.6" cy="572.6" rx="3.9" ry="3.8" fill="#2aa0c8"/>
<circle cx="629.8" cy="590.6" r="0.85" fill="#e08a2a" opacity="0.9"/>
<circle cx="625.5" cy="614.2" r="0.85" fill="#e08a2a" opacity="0.9"/>
<circle cx="625.3" cy="621.3" r="0.85" fill="#e08a2a" opacity="0.9"/>
<circle cx="630.6" cy="626.8" r="0.85" fill="#e08a2a" opacity="0.9"/>
<circle cx="625.6" cy="614.2" r="0.85" fill="#e08a2a" opacity="0.9"/>
<circle cx="628.1" cy="613.8" r="0.85" fill="#e08a2a" opacity="0.9"/>
<circle cx="624.6" cy="639.0" r="0.85" fill="#e08a2a" opacity="0.9"/>
<circle cx="632.1" cy="633.8" r="0.85" fill="#e08a2a" opacity="0.9"/>
<circle cx="630.9" cy="626.7" r="0.85" fill="#e08a2a" opacity="0.9"/>
<circle cx="633.3" cy="596.3" r="0.85" fill="#e08a2a" opacity="0.9"/>
<circle cx="632.5" cy="613.1" r="0.85" fill="#e08a2a" opacity="0.9"/>
<circle cx="625.0" cy="637.1" r="0.85" fill="#e08a2a" opacity="0.9"/>
<circle cx="631.7" cy="629.9" r="0.85" fill="#e08a2a" opacity="0.9"/>
<circle cx="629.3" cy="589.1" r="0.85" fill="#e08a2a" opacity="0.9"/>
<circle cx="625.5" cy="628.1" r="0.85" fill="#e08a2a" opacity="0.9"/>
<circle cx="626.0" cy="636.0" r="0.85" fill="#e08a2a" opacity="0.9"/>
<circle cx="625.2" cy="631.4" r="0.85" fill="#e08a2a" opacity="0.9"/>
<circle cx="632.2" cy="613.7" r="0.85" fill="#e08a2a" opacity="0.9"/>
<circle cx="628.2" cy="597.1" r="0.85" fill="#e08a2a" opacity="0.9"/>
<circle cx="627.6" cy="613.9" r="0.85" fill="#e08a2a" opacity="0.9"/>
<circle cx="628.2" cy="587.5" r="0.85" fill="#e08a2a" opacity="0.9"/>
<circle cx="633.0" cy="594.5" r="0.85" fill="#e08a2a" opacity="0.9"/>
<circle cx="631.7" cy="623.7" r="0.85" fill="#e08a2a" opacity="0.9"/>
<circle cx="632.0" cy="594.9" r="0.85" fill="#e08a2a" opacity="0.9"/>
<circle cx="630.3" cy="591.9" r="0.85" fill="#e08a2a" opacity="0.9"/>
<circle cx="627.5" cy="621.3" r="0.85" fill="#e08a2a" opacity="0.9"/>
<circle cx="627.1" cy="587.0" r="0.8" fill="#4a4f86"/>
<circle cx="626.6" cy="593.6" r="0.8" fill="#4a4f86"/>
<circle cx="626.1" cy="600.2" r="0.8" fill="#4a4f86"/>
<circle cx="625.6" cy="606.7" r="0.8" fill="#4a4f86"/>
<circle cx="625.0" cy="613.3" r="0.8" fill="#4a4f86"/>
<circle cx="624.5" cy="619.9" r="0.8" fill="#4a4f86"/>
<circle cx="624.0" cy="626.5" r="0.8" fill="#4a4f86"/>
<circle cx="633.6" cy="587.0" r="0.8" fill="#4a4f86"/>
<circle cx="633.5" cy="593.6" r="0.8" fill="#4a4f86"/>
<circle cx="633.3" cy="600.2" r="0.8" fill="#4a4f86"/>
<circle cx="633.2" cy="606.7" r="0.8" fill="#4a4f86"/>
<circle cx="633.0" cy="613.3" r="0.8" fill="#4a4f86"/>
<circle cx="632.9" cy="619.9" r="0.8" fill="#4a4f86"/>
<circle cx="632.8" cy="626.5" r="0.8" fill="#4a4f86"/>
<ellipse cx="630.8" cy="583.6" rx="3.9" ry="3.8" fill="#2aa0c8"/>
<circle cx="641.2" cy="643.5" r="0.85" fill="#e08a2a" opacity="0.9"/>
<circle cx="648.3" cy="628.1" r="0.85" fill="#e08a2a" opacity="0.9"/>
<circle cx="656.2" cy="603.2" r="0.85" fill="#e08a2a" opacity="0.9"/>
<circle cx="643.7" cy="630.7" r="0.85" fill="#e08a2a" opacity="0.9"/>
<circle cx="640.0" cy="639.5" r="0.85" fill="#e08a2a" opacity="0.9"/>
<circle cx="639.5" cy="649.6" r="0.85" fill="#e08a2a" opacity="0.9"/>
<circle cx="650.7" cy="616.6" r="0.85" fill="#e08a2a" opacity="0.9"/>
<circle cx="645.1" cy="620.9" r="0.85" fill="#e08a2a" opacity="0.9"/>
<circle cx="639.1" cy="636.7" r="0.85" fill="#e08a2a" opacity="0.9"/>
<circle cx="639.5" cy="640.7" r="0.85" fill="#e08a2a" opacity="0.9"/>
<circle cx="648.2" cy="631.2" r="0.85" fill="#e08a2a" opacity="0.9"/>
<circle cx="646.5" cy="628.4" r="0.85" fill="#e08a2a" opacity="0.9"/>
<circle cx="645.9" cy="614.1" r="0.85" fill="#e08a2a" opacity="0.9"/>
<circle cx="651.6" cy="599.5" r="0.85" fill="#e08a2a" opacity="0.9"/>
<circle cx="644.2" cy="630.0" r="0.85" fill="#e08a2a" opacity="0.9"/>
<circle cx="649.4" cy="624.6" r="0.85" fill="#e08a2a" opacity="0.9"/>
<circle cx="650.5" cy="604.6" r="0.85" fill="#e08a2a" opacity="0.9"/>
<circle cx="640.4" cy="631.9" r="0.85" fill="#e08a2a" opacity="0.9"/>
<circle cx="653.5" cy="597.8" r="0.85" fill="#e08a2a" opacity="0.9"/>
<circle cx="651.8" cy="603.3" r="0.85" fill="#e08a2a" opacity="0.9"/>
<circle cx="651.5" cy="609.5" r="0.85" fill="#e08a2a" opacity="0.9"/>
<circle cx="642.9" cy="628.6" r="0.85" fill="#e08a2a" opacity="0.9"/>
<circle cx="644.4" cy="630.4" r="0.85" fill="#e08a2a" opacity="0.9"/>
<circle cx="655.4" cy="604.8" r="0.85" fill="#e08a2a" opacity="0.9"/>
<circle cx="648.1" cy="610.5" r="0.85" fill="#e08a2a" opacity="0.9"/>
<circle cx="653.9" cy="602.7" r="0.85" fill="#e08a2a" opacity="0.9"/>
<circle cx="650.8" cy="599.2" r="0.8" fill="#4a4f86"/>
<circle cx="648.7" cy="605.3" r="0.8" fill="#4a4f86"/>
<circle cx="646.7" cy="611.5" r="0.8" fill="#4a4f86"/>
<circle cx="644.7" cy="617.6" r="0.8" fill="#4a4f86"/>
<circle cx="642.7" cy="623.7" r="0.8" fill="#4a4f86"/>
<circle cx="640.6" cy="629.8" r="0.8" fill="#4a4f86"/>
<circle cx="638.6" cy="635.9" r="0.8" fill="#4a4f86"/>
<circle cx="657.2" cy="599.2" r="0.8" fill="#4a4f86"/>
<circle cx="655.6" cy="605.3" r="0.8" fill="#4a4f86"/>
<circle cx="654.0" cy="611.5" r="0.8" fill="#4a4f86"/>
<circle cx="652.3" cy="617.6" r="0.8" fill="#4a4f86"/>
<circle cx="650.7" cy="623.7" r="0.8" fill="#4a4f86"/>
<circle cx="649.0" cy="629.8" r="0.8" fill="#4a4f86"/>
<circle cx="647.4" cy="635.9" r="0.8" fill="#4a4f86"/>
<ellipse cx="656.3" cy="596.4" rx="3.9" ry="3.8" fill="#2aa0c8"/>
<circle cx="659.1" cy="656.7" r="0.85" fill="#e08a2a" opacity="0.9"/>
<circle cx="663.2" cy="623.7" r="0.85" fill="#e08a2a" opacity="0.9"/>
<circle cx="672.8" cy="596.3" r="0.85" fill="#e08a2a" opacity="0.9"/>
<circle cx="661.0" cy="635.0" r="0.85" fill="#e08a2a" opacity="0.9"/>
<circle cx="660.2" cy="640.8" r="0.85" fill="#e08a2a" opacity="0.9"/>
<circle cx="657.5" cy="661.3" r="0.85" fill="#e08a2a" opacity="0.9"/>
<circle cx="670.5" cy="612.9" r="0.85" fill="#e08a2a" opacity="0.9"/>
<circle cx="671.5" cy="598.6" r="0.85" fill="#e08a2a" opacity="0.9"/>
<circle cx="662.9" cy="624.0" r="0.85" fill="#e08a2a" opacity="0.9"/>
<circle cx="672.9" cy="599.6" r="0.85" fill="#e08a2a" opacity="0.9"/>
<circle cx="672.2" cy="596.4" r="0.85" fill="#e08a2a" opacity="0.9"/>
<circle cx="652.4" cy="661.6" r="0.85" fill="#e08a2a" opacity="0.9"/>
<circle cx="669.3" cy="609.5" r="0.85" fill="#e08a2a" opacity="0.9"/>
<circle cx="664.2" cy="631.1" r="0.85" fill="#e08a2a" opacity="0.9"/>
<circle cx="655.0" cy="652.6" r="0.85" fill="#e08a2a" opacity="0.9"/>
<circle cx="665.2" cy="617.2" r="0.85" fill="#e08a2a" opacity="0.9"/>
<circle cx="673.8" cy="598.9" r="0.85" fill="#e08a2a" opacity="0.9"/>
<circle cx="660.0" cy="650.5" r="0.85" fill="#e08a2a" opacity="0.9"/>
<circle cx="674.2" cy="595.9" r="0.85" fill="#e08a2a" opacity="0.9"/>
<circle cx="658.6" cy="647.8" r="0.85" fill="#e08a2a" opacity="0.9"/>
<circle cx="658.6" cy="647.6" r="0.85" fill="#e08a2a" opacity="0.9"/>
<circle cx="665.3" cy="611.4" r="0.85" fill="#e08a2a" opacity="0.9"/>
<circle cx="664.7" cy="611.8" r="0.85" fill="#e08a2a" opacity="0.9"/>
<circle cx="668.0" cy="619.1" r="0.85" fill="#e08a2a" opacity="0.9"/>
<circle cx="662.6" cy="644.3" r="0.85" fill="#e08a2a" opacity="0.9"/>
<circle cx="657.6" cy="645.5" r="0.85" fill="#e08a2a" opacity="0.9"/>
<circle cx="668.3" cy="597.5" r="0.8" fill="#4a4f86"/>
<circle cx="666.1" cy="605.7" r="0.8" fill="#4a4f86"/>
<circle cx="663.8" cy="613.9" r="0.8" fill="#4a4f86"/>
<circle cx="661.6" cy="622.1" r="0.8" fill="#4a4f86"/>
<circle cx="659.3" cy="630.3" r="0.8" fill="#4a4f86"/>
<circle cx="657.1" cy="638.5" r="0.8" fill="#4a4f86"/>
<circle cx="654.8" cy="646.6" r="0.8" fill="#4a4f86"/>
<circle cx="674.8" cy="597.5" r="0.8" fill="#4a4f86"/>
<circle cx="672.9" cy="605.7" r="0.8" fill="#4a4f86"/>
<circle cx="671.1" cy="613.9" r="0.8" fill="#4a4f86"/>
<circle cx="669.2" cy="622.1" r="0.8" fill="#4a4f86"/>
<circle cx="667.3" cy="630.3" r="0.8" fill="#4a4f86"/>
<circle cx="665.5" cy="638.5" r="0.8" fill="#4a4f86"/>
<circle cx="663.6" cy="646.6" r="0.8" fill="#4a4f86"/>
<ellipse cx="674.1" cy="592.1" rx="3.9" ry="3.8" fill="#2aa0c8"/>
<circle cx="675.0" cy="642.3" r="0.85" fill="#e08a2a" opacity="0.9"/>
<circle cx="671.4" cy="658.8" r="0.85" fill="#e08a2a" opacity="0.9"/>
<circle cx="681.8" cy="621.9" r="0.85" fill="#e08a2a" opacity="0.9"/>
<circle cx="665.6" cy="671.3" r="0.85" fill="#e08a2a" opacity="0.9"/>
<circle cx="665.5" cy="665.3" r="0.85" fill="#e08a2a" opacity="0.9"/>
<circle cx="678.9" cy="621.6" r="0.85" fill="#e08a2a" opacity="0.9"/>
<circle cx="675.6" cy="655.7" r="0.85" fill="#e08a2a" opacity="0.9"/>
<circle cx="670.6" cy="655.9" r="0.85" fill="#e08a2a" opacity="0.9"/>
<circle cx="668.1" cy="665.3" r="0.85" fill="#e08a2a" opacity="0.9"/>
<circle cx="684.1" cy="620.1" r="0.85" fill="#e08a2a" opacity="0.9"/>
<circle cx="675.6" cy="647.7" r="0.85" fill="#e08a2a" opacity="0.9"/>
<circle cx="677.3" cy="650.2" r="0.85" fill="#e08a2a" opacity="0.9"/>
<circle cx="679.6" cy="636.3" r="0.85" fill="#e08a2a" opacity="0.9"/>
<circle cx="675.7" cy="652.4" r="0.85" fill="#e08a2a" opacity="0.9"/>
<circle cx="679.3" cy="634.1" r="0.85" fill="#e08a2a" opacity="0.9"/>
<circle cx="673.7" cy="643.5" r="0.85" fill="#e08a2a" opacity="0.9"/>
<circle cx="682.6" cy="618.2" r="0.85" fill="#e08a2a" opacity="0.9"/>
<circle cx="686.9" cy="608.7" r="0.85" fill="#e08a2a" opacity="0.9"/>
<circle cx="679.7" cy="613.4" r="0.85" fill="#e08a2a" opacity="0.9"/>
<circle cx="686.6" cy="610.7" r="0.85" fill="#e08a2a" opacity="0.9"/>
<circle cx="676.7" cy="627.6" r="0.85" fill="#e08a2a" opacity="0.9"/>
<circle cx="682.0" cy="605.2" r="0.85" fill="#e08a2a" opacity="0.9"/>
<circle cx="674.0" cy="652.1" r="0.85" fill="#e08a2a" opacity="0.9"/>
<circle cx="674.8" cy="652.4" r="0.85" fill="#e08a2a" opacity="0.9"/>
<circle cx="685.0" cy="607.9" r="0.85" fill="#e08a2a" opacity="0.9"/>
<circle cx="681.3" cy="628.9" r="0.85" fill="#e08a2a" opacity="0.9"/>
<circle cx="681.8" cy="605.3" r="0.8" fill="#4a4f86"/>
<circle cx="679.5" cy="613.5" r="0.8" fill="#4a4f86"/>
<circle cx="677.2" cy="621.7" r="0.8" fill="#4a4f86"/>
<circle cx="674.9" cy="629.9" r="0.8" fill="#4a4f86"/>
<circle cx="672.5" cy="638.2" r="0.8" fill="#4a4f86"/>
<circle cx="670.2" cy="646.4" r="0.8" fill="#4a4f86"/>
<circle cx="667.9" cy="654.6" r="0.8" fill="#4a4f86"/>
<circle cx="688.3" cy="605.3" r="0.8" fill="#4a4f86"/>
<circle cx="686.4" cy="613.5" r="0.8" fill="#4a4f86"/>
<circle cx="684.4" cy="621.7" r="0.8" fill="#4a4f86"/>
<circle cx="682.5" cy="629.9" r="0.8" fill="#4a4f86"/>
<circle cx="680.6" cy="638.2" r="0.8" fill="#4a4f86"/>
<circle cx="678.6" cy="646.4" r="0.8" fill="#4a4f86"/>
<circle cx="676.7" cy="654.6" r="0.8" fill="#4a4f86"/>
<ellipse cx="687.7" cy="599.8" rx="3.9" ry="3.8" fill="#2aa0c8"/>
<circle cx="684.8" cy="667.8" r="0.85" fill="#e08a2a" opacity="0.9"/>
<circle cx="697.0" cy="619.4" r="0.85" fill="#e08a2a" opacity="0.9"/>
<circle cx="683.7" cy="673.9" r="0.85" fill="#e08a2a" opacity="0.9"/>
<circle cx="691.8" cy="622.0" r="0.85" fill="#e08a2a" opacity="0.9"/>
<circle cx="690.5" cy="622.4" r="0.85" fill="#e08a2a" opacity="0.9"/>
<circle cx="683.7" cy="669.6" r="0.85" fill="#e08a2a" opacity="0.9"/>
<circle cx="687.3" cy="655.9" r="0.85" fill="#e08a2a" opacity="0.9"/>
<circle cx="683.1" cy="655.7" r="0.85" fill="#e08a2a" opacity="0.9"/>
<circle cx="691.2" cy="621.6" r="0.85" fill="#e08a2a" opacity="0.9"/>
<circle cx="680.3" cy="663.8" r="0.85" fill="#e08a2a" opacity="0.9"/>
<circle cx="689.6" cy="635.7" r="0.85" fill="#e08a2a" opacity="0.9"/>
<circle cx="693.6" cy="616.5" r="0.85" fill="#e08a2a" opacity="0.9"/>
<circle cx="692.3" cy="633.3" r="0.85" fill="#e08a2a" opacity="0.9"/>
<circle cx="688.0" cy="638.8" r="0.85" fill="#e08a2a" opacity="0.9"/>
<circle cx="679.2" cy="677.0" r="0.85" fill="#e08a2a" opacity="0.9"/>
<circle cx="682.0" cy="669.8" r="0.85" fill="#e08a2a" opacity="0.9"/>
<circle cx="694.5" cy="617.2" r="0.85" fill="#e08a2a" opacity="0.9"/>
<circle cx="690.2" cy="643.2" r="0.85" fill="#e08a2a" opacity="0.9"/>
<circle cx="691.2" cy="637.4" r="0.85" fill="#e08a2a" opacity="0.9"/>
<circle cx="684.2" cy="649.7" r="0.85" fill="#e08a2a" opacity="0.9"/>
<circle cx="677.5" cy="670.5" r="0.85" fill="#e08a2a" opacity="0.9"/>
<circle cx="678.9" cy="667.8" r="0.85" fill="#e08a2a" opacity="0.9"/>
<circle cx="693.6" cy="615.3" r="0.85" fill="#e08a2a" opacity="0.9"/>
<circle cx="686.5" cy="664.1" r="0.85" fill="#e08a2a" opacity="0.9"/>
<circle cx="695.5" cy="615.5" r="0.85" fill="#e08a2a" opacity="0.9"/>
<circle cx="689.5" cy="646.7" r="0.85" fill="#e08a2a" opacity="0.9"/>
<circle cx="691.9" cy="617.0" r="0.8" fill="#4a4f86"/>
<circle cx="689.7" cy="624.5" r="0.8" fill="#4a4f86"/>
<circle cx="687.5" cy="632.0" r="0.8" fill="#4a4f86"/>
<circle cx="685.3" cy="639.5" r="0.8" fill="#4a4f86"/>
<circle cx="683.1" cy="646.9" r="0.8" fill="#4a4f86"/>
<circle cx="680.9" cy="654.4" r="0.8" fill="#4a4f86"/>
<circle cx="678.8" cy="661.9" r="0.8" fill="#4a4f86"/>
<circle cx="698.4" cy="617.0" r="0.8" fill="#4a4f86"/>
<circle cx="696.6" cy="624.5" r="0.8" fill="#4a4f86"/>
<circle cx="694.8" cy="632.0" r="0.8" fill="#4a4f86"/>
<circle cx="693.0" cy="639.5" r="0.8" fill="#4a4f86"/>
<circle cx="691.2" cy="646.9" r="0.8" fill="#4a4f86"/>
<circle cx="689.4" cy="654.4" r="0.8" fill="#4a4f86"/>
<circle cx="687.6" cy="661.9" r="0.8" fill="#4a4f86"/>
<ellipse cx="697.6" cy="612.5" rx="3.9" ry="3.8" fill="#2aa0c8"/>
<circle cx="705.4" cy="631.2" r="0.85" fill="#e08a2a" opacity="0.9"/>
<circle cx="704.6" cy="641.6" r="0.85" fill="#e08a2a" opacity="0.9"/>
<circle cx="707.1" cy="636.1" r="0.85" fill="#e08a2a" opacity="0.9"/>
<circle cx="701.4" cy="637.6" r="0.85" fill="#e08a2a" opacity="0.9"/>
<circle cx="695.1" cy="664.1" r="0.85" fill="#e08a2a" opacity="0.9"/>
<circle cx="707.9" cy="626.5" r="0.85" fill="#e08a2a" opacity="0.9"/>
<circle cx="709.5" cy="624.6" r="0.85" fill="#e08a2a" opacity="0.9"/>
<circle cx="697.5" cy="664.0" r="0.85" fill="#e08a2a" opacity="0.9"/>
<circle cx="695.4" cy="659.5" r="0.85" fill="#e08a2a" opacity="0.9"/>
<circle cx="700.3" cy="645.1" r="0.85" fill="#e08a2a" opacity="0.9"/>
<circle cx="687.8" cy="676.3" r="0.85" fill="#e08a2a" opacity="0.9"/>
<circle cx="687.3" cy="676.2" r="0.85" fill="#e08a2a" opacity="0.9"/>
<circle cx="703.4" cy="632.6" r="0.85" fill="#e08a2a" opacity="0.9"/>
<circle cx="691.1" cy="677.0" r="0.85" fill="#e08a2a" opacity="0.9"/>
<circle cx="704.4" cy="643.7" r="0.85" fill="#e08a2a" opacity="0.9"/>
<circle cx="704.2" cy="634.4" r="0.85" fill="#e08a2a" opacity="0.9"/>
<circle cx="700.4" cy="653.4" r="0.85" fill="#e08a2a" opacity="0.9"/>
<circle cx="695.2" cy="667.5" r="0.85" fill="#e08a2a" opacity="0.9"/>
<circle cx="700.9" cy="641.7" r="0.85" fill="#e08a2a" opacity="0.9"/>
<circle cx="708.4" cy="629.4" r="0.85" fill="#e08a2a" opacity="0.9"/>
<circle cx="697.8" cy="661.7" r="0.85" fill="#e08a2a" opacity="0.9"/>
<circle cx="705.3" cy="630.3" r="0.85" fill="#e08a2a" opacity="0.9"/>
<circle cx="694.3" cy="668.8" r="0.85" fill="#e08a2a" opacity="0.9"/>
<circle cx="706.4" cy="627.5" r="0.85" fill="#e08a2a" opacity="0.9"/>
<circle cx="689.2" cy="676.0" r="0.85" fill="#e08a2a" opacity="0.9"/>
<circle cx="703.9" cy="631.7" r="0.85" fill="#e08a2a" opacity="0.9"/>
<circle cx="705.3" cy="621.3" r="0.8" fill="#4a4f86"/>
<circle cx="702.8" cy="628.7" r="0.8" fill="#4a4f86"/>
<circle cx="700.3" cy="636.2" r="0.8" fill="#4a4f86"/>
<circle cx="697.7" cy="643.6" r="0.8" fill="#4a4f86"/>
<circle cx="695.2" cy="651.1" r="0.8" fill="#4a4f86"/>
<circle cx="692.7" cy="658.5" r="0.8" fill="#4a4f86"/>
<circle cx="690.1" cy="665.9" r="0.8" fill="#4a4f86"/>
<circle cx="711.8" cy="621.3" r="0.8" fill="#4a4f86"/>
<circle cx="709.7" cy="628.7" r="0.8" fill="#4a4f86"/>
<circle cx="707.5" cy="636.2" r="0.8" fill="#4a4f86"/>
<circle cx="705.4" cy="643.6" r="0.8" fill="#4a4f86"/>
<circle cx="703.2" cy="651.1" r="0.8" fill="#4a4f86"/>
<circle cx="701.1" cy="658.5" r="0.8" fill="#4a4f86"/>
<circle cx="698.9" cy="665.9" r="0.8" fill="#4a4f86"/>
<ellipse cx="711.5" cy="616.8" rx="3.9" ry="3.8" fill="#2aa0c8"/>
</g>
<line x1="340.7" y1="656.0" x2="342.4" y2="678.9" stroke="#7fbf55" stroke-width="0.8" opacity="0.9"/>
<line x1="338.8" y1="656.0" x2="335.9" y2="674.1" stroke="#7fbf55" stroke-width="0.8" opacity="0.9"/>
<line x1="339.1" y1="656.0" x2="337.0" y2="675.3" stroke="#7fbf55" stroke-width="0.8" opacity="0.9"/>
<line x1="340.1" y1="656.0" x2="340.3" y2="674.1" stroke="#7fbf55" stroke-width="0.8" opacity="0.9"/>
<circle cx="338.3" cy="659.4" r="1.1" fill="#e6862f"/>
<circle cx="344.8" cy="669.1" r="1.1" fill="#e6862f"/>
<circle cx="336.0" cy="673.3" r="1.1" fill="#e6862f"/>
<circle cx="336.0" cy="662.9" r="1.1" fill="#e6862f"/>
<circle cx="344.8" cy="670.3" r="1.1" fill="#e6862f"/>
<circle cx="342.3" cy="663.8" r="1.1" fill="#e6862f"/>
<line x1="355.9" y1="656.0" x2="353.4" y2="677.5" stroke="#7fbf55" stroke-width="0.8" opacity="0.9"/>
<line x1="355.6" y1="656.0" x2="352.3" y2="674.4" stroke="#7fbf55" stroke-width="0.8" opacity="0.9"/>
<line x1="356.6" y1="656.0" x2="355.7" y2="673.2" stroke="#7fbf55" stroke-width="0.8" opacity="0.9"/>
<line x1="356.6" y1="656.0" x2="355.8" y2="678.5" stroke="#7fbf55" stroke-width="0.8" opacity="0.9"/>
<circle cx="358.9" cy="665.0" r="1.1" fill="#e6862f"/>
<circle cx="358.3" cy="664.3" r="1.1" fill="#e6862f"/>
<circle cx="353.4" cy="666.9" r="1.1" fill="#e6862f"/>
<circle cx="356.0" cy="669.3" r="1.1" fill="#e6862f"/>
<circle cx="361.1" cy="663.7" r="1.1" fill="#e6862f"/>
<circle cx="357.7" cy="669.5" r="1.1" fill="#e6862f"/>
<line x1="371.7" y1="661.0" x2="371.1" y2="679.6" stroke="#7fbf55" stroke-width="0.8" opacity="0.9"/>
<line x1="372.8" y1="661.0" x2="374.7" y2="684.2" stroke="#7fbf55" stroke-width="0.8" opacity="0.9"/>
<line x1="373.0" y1="661.0" x2="375.3" y2="682.9" stroke="#7fbf55" stroke-width="0.8" opacity="0.9"/>
<line x1="373.3" y1="661.0" x2="376.2" y2="682.8" stroke="#7fbf55" stroke-width="0.8" opacity="0.9"/>
<circle cx="373.4" cy="669.2" r="1.1" fill="#e6862f"/>
<circle cx="370.1" cy="672.3" r="1.1" fill="#e6862f"/>
<circle cx="368.0" cy="668.6" r="1.1" fill="#e6862f"/>
<circle cx="374.8" cy="673.8" r="1.1" fill="#e6862f"/>
<circle cx="373.3" cy="665.5" r="1.1" fill="#e6862f"/>
<circle cx="371.2" cy="669.2" r="1.1" fill="#e6862f"/>
<line x1="386.4" y1="664.0" x2="387.5" y2="683.9" stroke="#7fbf55" stroke-width="0.8" opacity="0.9"/>
<line x1="386.6" y1="664.0" x2="388.1" y2="687.5" stroke="#7fbf55" stroke-width="0.8" opacity="0.9"/>
<line x1="384.9" y1="664.0" x2="382.2" y2="685.6" stroke="#7fbf55" stroke-width="0.8" opacity="0.9"/>
<line x1="387.0" y1="664.0" x2="389.3" y2="683.7" stroke="#7fbf55" stroke-width="0.8" opacity="0.9"/>
<circle cx="385.9" cy="681.5" r="1.1" fill="#e6862f"/>
<circle cx="381.4" cy="673.8" r="1.1" fill="#e6862f"/>
<circle cx="382.6" cy="678.1" r="1.1" fill="#e6862f"/>
<circle cx="390.4" cy="673.3" r="1.1" fill="#e6862f"/>
<circle cx="382.0" cy="674.3" r="1.1" fill="#e6862f"/>
<circle cx="386.4" cy="676.9" r="1.1" fill="#e6862f"/>
<line x1="400.0" y1="665.0" x2="400.1" y2="686.5" stroke="#7fbf55" stroke-width="0.8" opacity="0.9"/>
<line x1="401.2" y1="665.0" x2="403.9" y2="685.7" stroke="#7fbf55" stroke-width="0.8" opacity="0.9"/>
<line x1="399.7" y1="665.0" x2="398.9" y2="688.6" stroke="#7fbf55" stroke-width="0.8" opacity="0.9"/>
<line x1="399.0" y1="665.0" x2="396.5" y2="686.8" stroke="#7fbf55" stroke-width="0.8" opacity="0.9"/>
<circle cx="398.9" cy="678.7" r="1.1" fill="#e6862f"/>
<circle cx="396.2" cy="682.7" r="1.1" fill="#e6862f"/>
<circle cx="398.6" cy="666.0" r="1.1" fill="#e6862f"/>
<circle cx="397.7" cy="672.2" r="1.1" fill="#e6862f"/>
<circle cx="395.1" cy="672.5" r="1.1" fill="#e6862f"/>
<circle cx="399.2" cy="677.6" r="1.1" fill="#e6862f"/>
<line x1="416.5" y1="665.0" x2="415.2" y2="683.9" stroke="#7fbf55" stroke-width="0.8" opacity="0.9"/>
<line x1="416.0" y1="665.0" x2="413.7" y2="687.2" stroke="#7fbf55" stroke-width="0.8" opacity="0.9"/>
<line x1="418.6" y1="665.0" x2="422.3" y2="685.7" stroke="#7fbf55" stroke-width="0.8" opacity="0.9"/>
<line x1="416.0" y1="665.0" x2="413.6" y2="687.6" stroke="#7fbf55" stroke-width="0.8" opacity="0.9"/>
<circle cx="415.9" cy="668.8" r="1.1" fill="#e6862f"/>
<circle cx="413.3" cy="679.0" r="1.1" fill="#e6862f"/>
<circle cx="420.1" cy="676.4" r="1.1" fill="#e6862f"/>
<circle cx="416.7" cy="675.1" r="1.1" fill="#e6862f"/>
<circle cx="414.3" cy="682.3" r="1.1" fill="#e6862f"/>
<circle cx="415.5" cy="676.5" r="1.1" fill="#e6862f"/>
<line x1="434.1" y1="643.2" x2="436.8" y2="665.9" stroke="#7fbf55" stroke-width="0.8" opacity="0.9"/>
<line x1="432.9" y1="643.2" x2="432.6" y2="662.3" stroke="#7fbf55" stroke-width="0.8" opacity="0.9"/>
<line x1="433.2" y1="643.2" x2="433.6" y2="661.1" stroke="#7fbf55" stroke-width="0.8" opacity="0.9"/>
<line x1="434.2" y1="643.2" x2="437.0" y2="662.7" stroke="#7fbf55" stroke-width="0.8" opacity="0.9"/>
<circle cx="436.5" cy="648.0" r="1.1" fill="#e6862f"/>
<circle cx="431.8" cy="647.8" r="1.1" fill="#e6862f"/>
<circle cx="432.3" cy="646.5" r="1.1" fill="#e6862f"/>
<circle cx="428.0" cy="656.2" r="1.1" fill="#e6862f"/>
<circle cx="430.8" cy="647.6" r="1.1" fill="#e6862f"/>
<circle cx="431.0" cy="651.8" r="1.1" fill="#e6862f"/>
<line x1="446.7" y1="644.5" x2="446.1" y2="666.0" stroke="#7fbf55" stroke-width="0.8" opacity="0.9"/>
<line x1="447.6" y1="644.5" x2="448.9" y2="664.0" stroke="#7fbf55" stroke-width="0.8" opacity="0.9"/>
<line x1="448.5" y1="644.5" x2="452.1" y2="667.5" stroke="#7fbf55" stroke-width="0.8" opacity="0.9"/>
<line x1="445.4" y1="644.5" x2="441.7" y2="667.3" stroke="#7fbf55" stroke-width="0.8" opacity="0.9"/>
<circle cx="451.1" cy="658.6" r="1.1" fill="#e6862f"/>
<circle cx="443.4" cy="659.5" r="1.1" fill="#e6862f"/>
<circle cx="448.3" cy="644.8" r="1.1" fill="#e6862f"/>
<circle cx="442.1" cy="661.6" r="1.1" fill="#e6862f"/>
<circle cx="448.6" cy="649.0" r="1.1" fill="#e6862f"/>
<circle cx="443.0" cy="647.1" r="1.1" fill="#e6862f"/>
<line x1="461.0" y1="652.2" x2="458.8" y2="674.6" stroke="#7fbf55" stroke-width="0.8" opacity="0.9"/>
<line x1="461.4" y1="652.2" x2="460.2" y2="670.3" stroke="#7fbf55" stroke-width="0.8" opacity="0.9"/>
<line x1="463.5" y1="652.2" x2="466.8" y2="674.7" stroke="#7fbf55" stroke-width="0.8" opacity="0.9"/>
<line x1="460.8" y1="652.2" x2="458.0" y2="675.4" stroke="#7fbf55" stroke-width="0.8" opacity="0.9"/>
<circle cx="463.1" cy="666.3" r="1.1" fill="#e6862f"/>
<circle cx="463.7" cy="668.3" r="1.1" fill="#e6862f"/>
<circle cx="464.9" cy="667.3" r="1.1" fill="#e6862f"/>
<circle cx="459.0" cy="664.7" r="1.1" fill="#e6862f"/>
<circle cx="462.3" cy="665.6" r="1.1" fill="#e6862f"/>
<circle cx="461.4" cy="668.1" r="1.1" fill="#e6862f"/>
<line x1="478.2" y1="653.4" x2="478.7" y2="672.3" stroke="#7fbf55" stroke-width="0.8" opacity="0.9"/>
<line x1="477.0" y1="653.4" x2="474.8" y2="671.4" stroke="#7fbf55" stroke-width="0.8" opacity="0.9"/>
<line x1="478.0" y1="653.4" x2="477.9" y2="670.8" stroke="#7fbf55" stroke-width="0.8" opacity="0.9"/>
<line x1="477.9" y1="653.4" x2="477.6" y2="671.4" stroke="#7fbf55" stroke-width="0.8" opacity="0.9"/>
<circle cx="477.9" cy="662.4" r="1.1" fill="#e6862f"/>
<circle cx="478.4" cy="668.9" r="1.1" fill="#e6862f"/>
<circle cx="473.1" cy="668.5" r="1.1" fill="#e6862f"/>
<circle cx="477.7" cy="663.5" r="1.1" fill="#e6862f"/>
<circle cx="479.7" cy="668.5" r="1.1" fill="#e6862f"/>
<circle cx="476.7" cy="660.9" r="1.1" fill="#e6862f"/>
<line x1="500.7" y1="653.4" x2="504.5" y2="670.9" stroke="#7fbf55" stroke-width="0.8" opacity="0.9"/>
<line x1="499.5" y1="653.4" x2="500.6" y2="674.9" stroke="#7fbf55" stroke-width="0.8" opacity="0.9"/>
<line x1="497.3" y1="653.4" x2="493.3" y2="674.7" stroke="#7fbf55" stroke-width="0.8" opacity="0.9"/>
<line x1="499.7" y1="653.4" x2="501.2" y2="676.9" stroke="#7fbf55" stroke-width="0.8" opacity="0.9"/>
<circle cx="497.3" cy="671.1" r="1.1" fill="#e6862f"/>
<circle cx="499.1" cy="662.1" r="1.1" fill="#e6862f"/>
<circle cx="503.0" cy="654.0" r="1.1" fill="#e6862f"/>
<circle cx="501.2" cy="664.7" r="1.1" fill="#e6862f"/>
<circle cx="497.4" cy="668.9" r="1.1" fill="#e6862f"/>
<circle cx="497.7" cy="661.9" r="1.1" fill="#e6862f"/>
<line x1="514.1" y1="632.0" x2="514.3" y2="654.4" stroke="#7fbf55" stroke-width="0.8" opacity="0.9"/>
<line x1="513.0" y1="632.0" x2="510.5" y2="652.0" stroke="#7fbf55" stroke-width="0.8" opacity="0.9"/>
<line x1="513.7" y1="632.0" x2="513.1" y2="652.9" stroke="#7fbf55" stroke-width="0.8" opacity="0.9"/>
<line x1="515.2" y1="632.0" x2="517.9" y2="651.1" stroke="#7fbf55" stroke-width="0.8" opacity="0.9"/>
<circle cx="517.3" cy="639.3" r="1.1" fill="#e6862f"/>
<circle cx="514.0" cy="636.9" r="1.1" fill="#e6862f"/>
<circle cx="514.1" cy="649.5" r="1.1" fill="#e6862f"/>
<circle cx="515.5" cy="646.3" r="1.1" fill="#e6862f"/>
<circle cx="512.3" cy="637.7" r="1.1" fill="#e6862f"/>
<circle cx="512.0" cy="642.6" r="1.1" fill="#e6862f"/>
<line x1="528.5" y1="635.4" x2="529.6" y2="657.9" stroke="#7fbf55" stroke-width="0.8" opacity="0.9"/>
<line x1="526.3" y1="635.4" x2="522.5" y2="657.5" stroke="#7fbf55" stroke-width="0.8" opacity="0.9"/>
<line x1="529.4" y1="635.4" x2="532.6" y2="656.2" stroke="#7fbf55" stroke-width="0.8" opacity="0.9"/>
<line x1="526.4" y1="635.4" x2="522.6" y2="654.5" stroke="#7fbf55" stroke-width="0.8" opacity="0.9"/>
<circle cx="523.1" cy="638.8" r="1.1" fill="#e6862f"/>
<circle cx="532.2" cy="646.4" r="1.1" fill="#e6862f"/>
<circle cx="529.6" cy="649.6" r="1.1" fill="#e6862f"/>
<circle cx="532.1" cy="646.4" r="1.1" fill="#e6862f"/>
<circle cx="529.2" cy="646.7" r="1.1" fill="#e6862f"/>
<circle cx="530.0" cy="646.1" r="1.1" fill="#e6862f"/>
<line x1="542.7" y1="641.4" x2="544.2" y2="659.9" stroke="#7fbf55" stroke-width="0.8" opacity="0.9"/>
<line x1="542.6" y1="641.4" x2="544.0" y2="661.6" stroke="#7fbf55" stroke-width="0.8" opacity="0.9"/>
<line x1="542.9" y1="641.4" x2="545.2" y2="659.1" stroke="#7fbf55" stroke-width="0.8" opacity="0.9"/>
<line x1="540.9" y1="641.4" x2="538.2" y2="658.7" stroke="#7fbf55" stroke-width="0.8" opacity="0.9"/>
<circle cx="544.7" cy="657.9" r="1.1" fill="#e6862f"/>
<circle cx="543.6" cy="648.0" r="1.1" fill="#e6862f"/>
<circle cx="545.2" cy="655.6" r="1.1" fill="#e6862f"/>
<circle cx="542.6" cy="646.0" r="1.1" fill="#e6862f"/>
<circle cx="540.0" cy="649.0" r="1.1" fill="#e6862f"/>
<circle cx="540.2" cy="649.2" r="1.1" fill="#e6862f"/>
<line x1="556.5" y1="641.4" x2="557.7" y2="664.9" stroke="#7fbf55" stroke-width="0.8" opacity="0.9"/>
<line x1="554.4" y1="641.4" x2="550.7" y2="662.4" stroke="#7fbf55" stroke-width="0.8" opacity="0.9"/>
<line x1="554.3" y1="641.4" x2="550.5" y2="659.2" stroke="#7fbf55" stroke-width="0.8" opacity="0.9"/>
<line x1="557.1" y1="641.4" x2="559.7" y2="662.4" stroke="#7fbf55" stroke-width="0.8" opacity="0.9"/>
<circle cx="560.2" cy="649.4" r="1.1" fill="#e6862f"/>
<circle cx="551.1" cy="648.4" r="1.1" fill="#e6862f"/>
<circle cx="556.9" cy="658.3" r="1.1" fill="#e6862f"/>
<circle cx="560.8" cy="650.0" r="1.1" fill="#e6862f"/>
<circle cx="555.1" cy="643.2" r="1.1" fill="#e6862f"/>
<circle cx="557.4" cy="645.2" r="1.1" fill="#e6862f"/>
<line x1="569.7" y1="632.3" x2="566.8" y2="649.4" stroke="#7fbf55" stroke-width="0.8" opacity="0.9"/>
<line x1="569.2" y1="632.3" x2="565.1" y2="654.1" stroke="#7fbf55" stroke-width="0.8" opacity="0.9"/>
<line x1="569.6" y1="632.3" x2="566.5" y2="656.1" stroke="#7fbf55" stroke-width="0.8" opacity="0.9"/>
<line x1="569.5" y1="632.3" x2="566.1" y2="655.4" stroke="#7fbf55" stroke-width="0.8" opacity="0.9"/>
<circle cx="567.3" cy="632.6" r="1.1" fill="#e6862f"/>
<circle cx="573.2" cy="636.7" r="1.1" fill="#e6862f"/>
<circle cx="573.3" cy="635.7" r="1.1" fill="#e6862f"/>
<circle cx="566.5" cy="646.2" r="1.1" fill="#e6862f"/>
<circle cx="573.1" cy="647.7" r="1.1" fill="#e6862f"/>
<circle cx="573.3" cy="633.8" r="1.1" fill="#e6862f"/>
<line x1="585.5" y1="632.3" x2="586.5" y2="654.3" stroke="#7fbf55" stroke-width="0.8" opacity="0.9"/>
<line x1="584.9" y1="632.3" x2="584.5" y2="655.8" stroke="#7fbf55" stroke-width="0.8" opacity="0.9"/>
<line x1="584.1" y1="632.3" x2="582.0" y2="656.1" stroke="#7fbf55" stroke-width="0.8" opacity="0.9"/>
<line x1="585.8" y1="632.3" x2="587.6" y2="649.4" stroke="#7fbf55" stroke-width="0.8" opacity="0.9"/>
<circle cx="580.1" cy="644.0" r="1.1" fill="#e6862f"/>
<circle cx="588.2" cy="633.7" r="1.1" fill="#e6862f"/>
<circle cx="583.1" cy="645.4" r="1.1" fill="#e6862f"/>
<circle cx="581.7" cy="647.8" r="1.1" fill="#e6862f"/>
<circle cx="584.9" cy="633.4" r="1.1" fill="#e6862f"/>
<circle cx="583.7" cy="642.6" r="1.1" fill="#e6862f"/>
<line x1="597.8" y1="629.0" x2="597.3" y2="650.7" stroke="#7fbf55" stroke-width="0.8" opacity="0.9"/>
<line x1="596.7" y1="629.0" x2="593.7" y2="651.6" stroke="#7fbf55" stroke-width="0.8" opacity="0.9"/>
<line x1="597.5" y1="629.0" x2="596.4" y2="650.5" stroke="#7fbf55" stroke-width="0.8" opacity="0.9"/>
<line x1="598.5" y1="629.0" x2="599.6" y2="648.9" stroke="#7fbf55" stroke-width="0.8" opacity="0.9"/>
<circle cx="596.9" cy="643.2" r="1.1" fill="#e6862f"/>
<circle cx="602.4" cy="643.1" r="1.1" fill="#e6862f"/>
<circle cx="598.7" cy="634.3" r="1.1" fill="#e6862f"/>
<circle cx="593.6" cy="646.5" r="1.1" fill="#e6862f"/>
<circle cx="600.0" cy="643.9" r="1.1" fill="#e6862f"/>
<circle cx="596.3" cy="639.9" r="1.1" fill="#e6862f"/>
<line x1="613.7" y1="629.0" x2="617.7" y2="651.8" stroke="#7fbf55" stroke-width="0.8" opacity="0.9"/>
<line x1="612.4" y1="629.0" x2="613.2" y2="648.2" stroke="#7fbf55" stroke-width="0.8" opacity="0.9"/>
<line x1="611.7" y1="629.0" x2="611.1" y2="652.2" stroke="#7fbf55" stroke-width="0.8" opacity="0.9"/>
<line x1="611.6" y1="629.0" x2="610.5" y2="650.8" stroke="#7fbf55" stroke-width="0.8" opacity="0.9"/>
<circle cx="613.0" cy="645.1" r="1.1" fill="#e6862f"/>
<circle cx="615.1" cy="634.1" r="1.1" fill="#e6862f"/>
<circle cx="607.0" cy="633.7" r="1.1" fill="#e6862f"/>
<circle cx="611.2" cy="639.6" r="1.1" fill="#e6862f"/>
<circle cx="615.2" cy="645.0" r="1.1" fill="#e6862f"/>
<circle cx="607.4" cy="644.0" r="1.1" fill="#e6862f"/>
<line x1="629.1" y1="628.0" x2="631.7" y2="651.1" stroke="#7fbf55" stroke-width="0.8" opacity="0.9"/>
<line x1="628.3" y1="628.0" x2="628.9" y2="646.9" stroke="#7fbf55" stroke-width="0.8" opacity="0.9"/>
<line x1="629.3" y1="628.0" x2="632.2" y2="650.6" stroke="#7fbf55" stroke-width="0.8" opacity="0.9"/>
<line x1="628.7" y1="628.0" x2="630.2" y2="651.4" stroke="#7fbf55" stroke-width="0.8" opacity="0.9"/>
<circle cx="626.5" cy="629.5" r="1.1" fill="#e6862f"/>
<circle cx="628.5" cy="642.4" r="1.1" fill="#e6862f"/>
<circle cx="625.0" cy="641.5" r="1.1" fill="#e6862f"/>
<circle cx="632.3" cy="632.2" r="1.1" fill="#e6862f"/>
<circle cx="629.1" cy="640.2" r="1.1" fill="#e6862f"/>
<circle cx="627.7" cy="631.7" r="1.1" fill="#e6862f"/>
<line x1="640.1" y1="645.0" x2="638.1" y2="667.3" stroke="#7fbf55" stroke-width="0.8" opacity="0.9"/>
<line x1="642.0" y1="645.0" x2="644.5" y2="665.2" stroke="#7fbf55" stroke-width="0.8" opacity="0.9"/>
<line x1="639.5" y1="645.0" x2="636.1" y2="667.6" stroke="#7fbf55" stroke-width="0.8" opacity="0.9"/>
<line x1="642.0" y1="645.0" x2="644.3" y2="663.6" stroke="#7fbf55" stroke-width="0.8" opacity="0.9"/>
<circle cx="641.8" cy="661.1" r="1.1" fill="#e6862f"/>
<circle cx="644.9" cy="654.4" r="1.1" fill="#e6862f"/>
<circle cx="640.8" cy="655.6" r="1.1" fill="#e6862f"/>
<circle cx="637.9" cy="648.5" r="1.1" fill="#e6862f"/>
<circle cx="637.8" cy="657.6" r="1.1" fill="#e6862f"/>
<circle cx="639.6" cy="655.2" r="1.1" fill="#e6862f"/>
<line x1="656.6" y1="654.0" x2="655.8" y2="674.6" stroke="#7fbf55" stroke-width="0.8" opacity="0.9"/>
<line x1="655.7" y1="654.0" x2="652.8" y2="671.3" stroke="#7fbf55" stroke-width="0.8" opacity="0.9"/>
<line x1="658.8" y1="654.0" x2="663.0" y2="673.6" stroke="#7fbf55" stroke-width="0.8" opacity="0.9"/>
<line x1="655.6" y1="654.0" x2="652.3" y2="675.4" stroke="#7fbf55" stroke-width="0.8" opacity="0.9"/>
<circle cx="659.9" cy="656.8" r="1.1" fill="#e6862f"/>
<circle cx="658.0" cy="660.2" r="1.1" fill="#e6862f"/>
<circle cx="657.2" cy="654.4" r="1.1" fill="#e6862f"/>
<circle cx="652.3" cy="671.8" r="1.1" fill="#e6862f"/>
<circle cx="660.7" cy="662.8" r="1.1" fill="#e6862f"/>
<circle cx="657.7" cy="658.7" r="1.1" fill="#e6862f"/>
<line x1="671.0" y1="661.0" x2="673.4" y2="681.0" stroke="#7fbf55" stroke-width="0.8" opacity="0.9"/>
<line x1="671.6" y1="661.0" x2="675.4" y2="683.4" stroke="#7fbf55" stroke-width="0.8" opacity="0.9"/>
<line x1="671.1" y1="661.0" x2="673.8" y2="684.7" stroke="#7fbf55" stroke-width="0.8" opacity="0.9"/>
<line x1="669.1" y1="661.0" x2="667.0" y2="678.3" stroke="#7fbf55" stroke-width="0.8" opacity="0.9"/>
<circle cx="667.0" cy="664.3" r="1.1" fill="#e6862f"/>
<circle cx="665.8" cy="661.9" r="1.1" fill="#e6862f"/>
<circle cx="670.6" cy="676.7" r="1.1" fill="#e6862f"/>
<circle cx="669.6" cy="678.0" r="1.1" fill="#e6862f"/>
<circle cx="674.1" cy="662.2" r="1.1" fill="#e6862f"/>
<circle cx="671.0" cy="668.2" r="1.1" fill="#e6862f"/>
<line x1="679.6" y1="667.0" x2="676.4" y2="690.7" stroke="#7fbf55" stroke-width="0.8" opacity="0.9"/>
<line x1="680.1" y1="667.0" x2="678.1" y2="688.0" stroke="#7fbf55" stroke-width="0.8" opacity="0.9"/>
<line x1="681.5" y1="667.0" x2="682.7" y2="690.7" stroke="#7fbf55" stroke-width="0.8" opacity="0.9"/>
<line x1="681.6" y1="667.0" x2="683.0" y2="686.8" stroke="#7fbf55" stroke-width="0.8" opacity="0.9"/>
<circle cx="680.5" cy="669.9" r="1.1" fill="#e6862f"/>
<circle cx="685.7" cy="684.9" r="1.1" fill="#e6862f"/>
<circle cx="678.2" cy="667.7" r="1.1" fill="#e6862f"/>
<circle cx="678.6" cy="673.3" r="1.1" fill="#e6862f"/>
<circle cx="685.0" cy="683.3" r="1.1" fill="#e6862f"/>
<circle cx="684.4" cy="667.8" r="1.1" fill="#e6862f"/>
<line x1="693.0" y1="669.0" x2="695.4" y2="691.0" stroke="#7fbf55" stroke-width="0.8" opacity="0.9"/>
<line x1="692.5" y1="669.0" x2="693.8" y2="692.9" stroke="#7fbf55" stroke-width="0.8" opacity="0.9"/>
<line x1="690.4" y1="669.0" x2="686.7" y2="687.0" stroke="#7fbf55" stroke-width="0.8" opacity="0.9"/>
<line x1="692.9" y1="669.0" x2="695.1" y2="692.6" stroke="#7fbf55" stroke-width="0.8" opacity="0.9"/>
<circle cx="693.8" cy="674.4" r="1.1" fill="#e6862f"/>
<circle cx="692.9" cy="682.6" r="1.1" fill="#e6862f"/>
<circle cx="688.1" cy="674.8" r="1.1" fill="#e6862f"/>
<circle cx="689.6" cy="671.2" r="1.1" fill="#e6862f"/>
<circle cx="691.8" cy="672.0" r="1.1" fill="#e6862f"/>
<circle cx="689.4" cy="671.6" r="1.1" fill="#e6862f"/>
<path d="M328,692 C380,676 440,667 500,664.5 C560,662 620,659 660,678 C682,690 690,712 692,733" fill="none" stroke="#97a69a" stroke-width="3" opacity="0.85"/>
<path d="M328,692 C380,676 440,667 500,664.5 C560,662 620,659 660,678 C682,690 690,712 692,733" fill="none" stroke="#6d7d72" stroke-width="2.2" stroke-dasharray="0.7 1.8" opacity="0.55"/>
<path d="M330,698 C380,683 440,673 500,671 C560,670 625,668 660,693 C684,712 688,750 683,778 C678,795 668,805 660,818 C652,835 648,870 647,900 C645,930 643,950 641,969" fill="none" stroke="#97a69a" stroke-width="3" opacity="0.85"/>
<path d="M330,698 C380,683 440,673 500,671 C560,670 625,668 660,693 C684,712 688,750 683,778 C678,795 668,805 660,818 C652,835 648,870 647,900 C645,930 643,950 641,969" fill="none" stroke="#6d7d72" stroke-width="2.2" stroke-dasharray="0.7 1.8" opacity="0.55"/>
<circle cx="358.8" cy="710.6" r="0.85" fill="#3c4a6a"/>
<circle cx="358.3" cy="707.5" r="0.85" fill="#3c4a6a"/>
<circle cx="370.0" cy="713.8" r="0.85" fill="#3c4a6a"/>
<circle cx="361.1" cy="723.3" r="0.85" fill="#3c4a6a"/>
<circle cx="366.3" cy="702.1" r="0.85" fill="#3c4a6a"/>
<circle cx="363.0" cy="716.3" r="0.85" fill="#3c4a6a"/>
<circle cx="368.3" cy="718.1" r="0.85" fill="#3c4a6a"/>
<circle cx="363.5" cy="703.4" r="0.85" fill="#3c4a6a"/>
<circle cx="354.2" cy="712.6" r="0.85" fill="#3c4a6a"/>
<circle cx="361.9" cy="704.4" r="0.85" fill="#3c4a6a"/>
<circle cx="357.2" cy="709.0" r="0.85" fill="#3c4a6a"/>
<circle cx="359.2" cy="712.3" r="0.85" fill="#3c4a6a"/>
<circle cx="357.3" cy="703.0" r="0.85" fill="#3c4a6a"/>
<circle cx="365.6" cy="720.3" r="0.85" fill="#3c4a6a"/>
<circle cx="358.4" cy="717.5" r="0.85" fill="#3c4a6a"/>
<circle cx="361.4" cy="714.9" r="0.85" fill="#3c4a6a"/>
<circle cx="361.7" cy="706.4" r="0.85" fill="#3c4a6a"/>
<circle cx="362.4" cy="717.5" r="0.85" fill="#3c4a6a"/>
<circle cx="354.4" cy="722.1" r="0.85" fill="#3c4a6a"/>
<circle cx="367.9" cy="719.5" r="0.85" fill="#3c4a6a"/>
<circle cx="369.3" cy="715.2" r="0.85" fill="#3c4a6a"/>
<circle cx="357.3" cy="707.7" r="0.85" fill="#3c4a6a"/>
<circle cx="354.6" cy="711.7" r="0.85" fill="#3c4a6a"/>
<circle cx="358.8" cy="714.7" r="0.85" fill="#3c4a6a"/>
<circle cx="321.2" cy="751.9" r="0.85" fill="#3c4a6a"/>
<circle cx="340.3" cy="741.8" r="0.85" fill="#3c4a6a"/>
<circle cx="332.6" cy="744.8" r="0.85" fill="#3c4a6a"/>
<circle cx="330.0" cy="741.2" r="0.85" fill="#3c4a6a"/>
<circle cx="328.3" cy="737.1" r="0.85" fill="#3c4a6a"/>
<circle cx="329.4" cy="741.9" r="0.85" fill="#3c4a6a"/>
<circle cx="330.8" cy="736.8" r="0.85" fill="#3c4a6a"/>
<circle cx="329.1" cy="742.1" r="0.85" fill="#3c4a6a"/>
<circle cx="332.5" cy="735.1" r="0.85" fill="#3c4a6a"/>
<circle cx="331.4" cy="748.2" r="0.85" fill="#3c4a6a"/>
<circle cx="332.0" cy="739.9" r="0.85" fill="#3c4a6a"/>
<circle cx="326.8" cy="740.8" r="0.85" fill="#3c4a6a"/>
<circle cx="333.1" cy="751.7" r="0.85" fill="#3c4a6a"/>
<circle cx="328.2" cy="738.5" r="0.85" fill="#3c4a6a"/>
<circle cx="330.5" cy="742.9" r="0.85" fill="#3c4a6a"/>
<circle cx="323.7" cy="737.3" r="0.85" fill="#3c4a6a"/>
<circle cx="328.5" cy="745.7" r="0.85" fill="#3c4a6a"/>
<circle cx="322.1" cy="735.5" r="0.85" fill="#3c4a6a"/>
<circle cx="331.9" cy="734.1" r="0.85" fill="#3c4a6a"/>
<circle cx="329.4" cy="743.4" r="0.85" fill="#3c4a6a"/>
<circle cx="328.4" cy="735.6" r="0.85" fill="#3c4a6a"/>
<circle cx="328.8" cy="740.7" r="0.85" fill="#3c4a6a"/>
<circle cx="330.9" cy="736.9" r="0.85" fill="#3c4a6a"/>
<circle cx="334.8" cy="732.2" r="0.85" fill="#3c4a6a"/>
<circle cx="420.6" cy="729.0" r="0.85" fill="#3c4a6a"/>
<circle cx="426.6" cy="725.1" r="0.85" fill="#3c4a6a"/>
<circle cx="423.9" cy="725.7" r="0.85" fill="#3c4a6a"/>
<circle cx="425.0" cy="739.5" r="0.85" fill="#3c4a6a"/>
<circle cx="419.1" cy="731.3" r="0.85" fill="#3c4a6a"/>
<circle cx="415.5" cy="735.3" r="0.85" fill="#3c4a6a"/>
<circle cx="428.1" cy="729.2" r="0.85" fill="#3c4a6a"/>
<circle cx="414.3" cy="731.6" r="0.85" fill="#3c4a6a"/>
<circle cx="427.7" cy="735.9" r="0.85" fill="#3c4a6a"/>
<circle cx="425.3" cy="718.3" r="0.85" fill="#3c4a6a"/>
<circle cx="417.1" cy="738.1" r="0.85" fill="#3c4a6a"/>
<circle cx="414.0" cy="736.1" r="0.85" fill="#3c4a6a"/>
<circle cx="431.0" cy="733.4" r="0.85" fill="#3c4a6a"/>
<circle cx="427.6" cy="726.9" r="0.85" fill="#3c4a6a"/>
<circle cx="413.8" cy="728.3" r="0.85" fill="#3c4a6a"/>
<circle cx="420.5" cy="728.9" r="0.85" fill="#3c4a6a"/>
<circle cx="424.5" cy="728.2" r="0.85" fill="#3c4a6a"/>
<circle cx="421.8" cy="730.9" r="0.85" fill="#3c4a6a"/>
<circle cx="421.0" cy="740.2" r="0.85" fill="#3c4a6a"/>
<circle cx="422.8" cy="729.4" r="0.85" fill="#3c4a6a"/>
<circle cx="420.0" cy="725.6" r="0.85" fill="#3c4a6a"/>
<circle cx="428.9" cy="730.0" r="0.85" fill="#3c4a6a"/>
<circle cx="414.7" cy="725.4" r="0.85" fill="#3c4a6a"/>
<circle cx="420.4" cy="727.0" r="0.85" fill="#3c4a6a"/>
<circle cx="674.3" cy="815.6" r="0.85" fill="#3c4a6a"/>
<circle cx="670.2" cy="823.7" r="0.85" fill="#3c4a6a"/>
<circle cx="661.1" cy="823.3" r="0.85" fill="#3c4a6a"/>
<circle cx="667.6" cy="825.4" r="0.85" fill="#3c4a6a"/>
<circle cx="666.0" cy="824.5" r="0.85" fill="#3c4a6a"/>
<circle cx="659.1" cy="816.6" r="0.85" fill="#3c4a6a"/>
<circle cx="672.6" cy="829.8" r="0.85" fill="#3c4a6a"/>
<circle cx="667.9" cy="819.9" r="0.85" fill="#3c4a6a"/>
<circle cx="673.2" cy="811.9" r="0.85" fill="#3c4a6a"/>
<circle cx="663.4" cy="827.2" r="0.85" fill="#3c4a6a"/>
<circle cx="671.8" cy="816.3" r="0.85" fill="#3c4a6a"/>
<circle cx="658.9" cy="830.7" r="0.85" fill="#3c4a6a"/>
<circle cx="668.8" cy="817.5" r="0.85" fill="#3c4a6a"/>
<circle cx="668.3" cy="828.5" r="0.85" fill="#3c4a6a"/>
<circle cx="657.1" cy="828.1" r="0.85" fill="#3c4a6a"/>
<circle cx="671.7" cy="811.4" r="0.85" fill="#3c4a6a"/>
<circle cx="672.2" cy="812.4" r="0.85" fill="#3c4a6a"/>
<circle cx="674.7" cy="825.6" r="0.85" fill="#3c4a6a"/>
<circle cx="679.0" cy="819.7" r="0.85" fill="#3c4a6a"/>
<circle cx="668.0" cy="829.6" r="0.85" fill="#3c4a6a"/>
<circle cx="664.4" cy="818.6" r="0.85" fill="#3c4a6a"/>
<circle cx="666.6" cy="822.7" r="0.85" fill="#3c4a6a"/>
<circle cx="661.7" cy="826.1" r="0.85" fill="#3c4a6a"/>
<circle cx="670.5" cy="823.4" r="0.85" fill="#3c4a6a"/>
<circle cx="659.6" cy="915.0" r="0.85" fill="#3c4a6a"/>
<circle cx="657.7" cy="913.5" r="0.85" fill="#3c4a6a"/>
<circle cx="654.0" cy="905.9" r="0.85" fill="#3c4a6a"/>
<circle cx="650.6" cy="916.4" r="0.85" fill="#3c4a6a"/>
<circle cx="647.4" cy="913.4" r="0.85" fill="#3c4a6a"/>
<circle cx="648.2" cy="912.8" r="0.85" fill="#3c4a6a"/>
<circle cx="639.1" cy="913.7" r="0.85" fill="#3c4a6a"/>
<circle cx="647.1" cy="914.0" r="0.85" fill="#3c4a6a"/>
<circle cx="643.9" cy="916.1" r="0.85" fill="#3c4a6a"/>
<circle cx="654.2" cy="915.5" r="0.85" fill="#3c4a6a"/>
<circle cx="647.1" cy="925.8" r="0.85" fill="#3c4a6a"/>
<circle cx="655.8" cy="923.0" r="0.85" fill="#3c4a6a"/>
<circle cx="656.8" cy="914.9" r="0.85" fill="#3c4a6a"/>
<circle cx="649.2" cy="924.1" r="0.85" fill="#3c4a6a"/>
<circle cx="647.5" cy="916.4" r="0.85" fill="#3c4a6a"/>
<circle cx="651.7" cy="918.8" r="0.85" fill="#3c4a6a"/>
<circle cx="648.4" cy="923.2" r="0.85" fill="#3c4a6a"/>
<circle cx="649.1" cy="921.1" r="0.85" fill="#3c4a6a"/>
<circle cx="656.3" cy="921.3" r="0.85" fill="#3c4a6a"/>
<circle cx="654.3" cy="909.5" r="0.85" fill="#3c4a6a"/>
<circle cx="642.3" cy="913.0" r="0.85" fill="#3c4a6a"/>
<circle cx="652.8" cy="926.6" r="0.85" fill="#3c4a6a"/>
<circle cx="642.8" cy="919.0" r="0.85" fill="#3c4a6a"/>
<circle cx="645.0" cy="912.3" r="0.85" fill="#3c4a6a"/>
<circle cx="620.6" cy="993.9" r="0.85" fill="#3c4a6a"/>
<circle cx="623.2" cy="997.6" r="0.85" fill="#3c4a6a"/>
<circle cx="616.2" cy="995.8" r="0.85" fill="#3c4a6a"/>
<circle cx="627.2" cy="990.4" r="0.85" fill="#3c4a6a"/>
<circle cx="624.5" cy="986.8" r="0.85" fill="#3c4a6a"/>
<circle cx="615.6" cy="987.4" r="0.85" fill="#3c4a6a"/>
<circle cx="619.4" cy="1002.8" r="0.85" fill="#3c4a6a"/>
<circle cx="619.2" cy="1000.3" r="0.85" fill="#3c4a6a"/>
<circle cx="622.7" cy="991.3" r="0.85" fill="#3c4a6a"/>
<circle cx="626.3" cy="985.0" r="0.85" fill="#3c4a6a"/>
<circle cx="627.2" cy="992.4" r="0.85" fill="#3c4a6a"/>
<circle cx="613.3" cy="993.8" r="0.85" fill="#3c4a6a"/>
<circle cx="624.8" cy="992.5" r="0.85" fill="#3c4a6a"/>
<circle cx="631.1" cy="987.4" r="0.85" fill="#3c4a6a"/>
<circle cx="624.8" cy="994.6" r="0.85" fill="#3c4a6a"/>
<circle cx="616.7" cy="997.7" r="0.85" fill="#3c4a6a"/>
<circle cx="614.2" cy="982.3" r="0.85" fill="#3c4a6a"/>
<circle cx="625.1" cy="983.0" r="0.85" fill="#3c4a6a"/>
<circle cx="621.3" cy="979.6" r="0.85" fill="#3c4a6a"/>
<circle cx="622.4" cy="982.7" r="0.85" fill="#3c4a6a"/>
<circle cx="624.0" cy="980.2" r="0.85" fill="#3c4a6a"/>
<circle cx="624.0" cy="988.7" r="0.85" fill="#3c4a6a"/>
<circle cx="622.1" cy="989.9" r="0.85" fill="#3c4a6a"/>
<circle cx="622.8" cy="981.4" r="0.85" fill="#3c4a6a"/>
<circle cx="445.4" cy="1015.2" r="0.85" fill="#3c4a6a"/>
<circle cx="451.6" cy="1012.1" r="0.85" fill="#3c4a6a"/>
<circle cx="459.3" cy="1003.4" r="0.85" fill="#3c4a6a"/>
<circle cx="452.7" cy="1011.2" r="0.85" fill="#3c4a6a"/>
<circle cx="450.9" cy="1017.1" r="0.85" fill="#3c4a6a"/>
<circle cx="456.2" cy="1010.1" r="0.85" fill="#3c4a6a"/>
<circle cx="451.2" cy="1020.2" r="0.85" fill="#3c4a6a"/>
<circle cx="453.4" cy="1018.5" r="0.85" fill="#3c4a6a"/>
<circle cx="459.4" cy="1003.7" r="0.85" fill="#3c4a6a"/>
<circle cx="450.7" cy="1015.0" r="0.85" fill="#3c4a6a"/>
<circle cx="458.9" cy="1019.7" r="0.85" fill="#3c4a6a"/>
<circle cx="461.7" cy="1021.7" r="0.85" fill="#3c4a6a"/>
<circle cx="455.5" cy="1014.1" r="0.85" fill="#3c4a6a"/>
<circle cx="461.3" cy="1012.4" r="0.85" fill="#3c4a6a"/>
<circle cx="462.8" cy="1005.5" r="0.85" fill="#3c4a6a"/>
<circle cx="460.3" cy="1014.1" r="0.85" fill="#3c4a6a"/>
<circle cx="447.0" cy="1020.5" r="0.85" fill="#3c4a6a"/>
<circle cx="458.0" cy="1015.1" r="0.85" fill="#3c4a6a"/>
<circle cx="450.7" cy="1012.0" r="0.85" fill="#3c4a6a"/>
<circle cx="465.6" cy="1009.8" r="0.85" fill="#3c4a6a"/>
<circle cx="445.4" cy="1011.8" r="0.85" fill="#3c4a6a"/>
<circle cx="450.0" cy="1014.1" r="0.85" fill="#3c4a6a"/>
<circle cx="454.8" cy="1009.3" r="0.85" fill="#3c4a6a"/>
<circle cx="452.0" cy="1021.8" r="0.85" fill="#3c4a6a"/>
<circle cx="425.2" cy="727.2" r="0.85" fill="#3c4a6a"/>
<circle cx="428.8" cy="709.9" r="0.85" fill="#3c4a6a"/>
<circle cx="436.4" cy="720.5" r="0.85" fill="#3c4a6a"/>
<circle cx="425.9" cy="721.9" r="0.85" fill="#3c4a6a"/>
<circle cx="422.3" cy="711.7" r="0.85" fill="#3c4a6a"/>
<circle cx="438.6" cy="715.4" r="0.85" fill="#3c4a6a"/>
<circle cx="424.3" cy="720.3" r="0.85" fill="#3c4a6a"/>
<circle cx="437.1" cy="716.9" r="0.85" fill="#3c4a6a"/>
<circle cx="422.0" cy="714.9" r="0.85" fill="#3c4a6a"/>
<circle cx="434.3" cy="721.6" r="0.85" fill="#3c4a6a"/>
<circle cx="442.2" cy="715.5" r="0.85" fill="#3c4a6a"/>
<circle cx="429.9" cy="716.8" r="0.85" fill="#3c4a6a"/>
<circle cx="439.0" cy="711.0" r="0.85" fill="#3c4a6a"/>
<circle cx="437.1" cy="705.2" r="0.85" fill="#3c4a6a"/>
<circle cx="436.6" cy="712.7" r="0.85" fill="#3c4a6a"/>
<circle cx="434.5" cy="721.1" r="0.85" fill="#3c4a6a"/>
<circle cx="425.1" cy="716.4" r="0.85" fill="#3c4a6a"/>
<circle cx="433.2" cy="720.1" r="0.85" fill="#3c4a6a"/>
<circle cx="426.5" cy="710.6" r="0.85" fill="#3c4a6a"/>
<circle cx="424.8" cy="727.5" r="0.85" fill="#3c4a6a"/>
<circle cx="431.4" cy="716.2" r="0.85" fill="#3c4a6a"/>
<circle cx="423.6" cy="722.8" r="0.85" fill="#3c4a6a"/>
<circle cx="428.9" cy="726.2" r="0.85" fill="#3c4a6a"/>
<circle cx="436.6" cy="717.1" r="0.85" fill="#3c4a6a"/>
<path d="M312,870 C380,925 470,1000 526,1057" fill="none" stroke="#7d8a62" stroke-width="2.8" opacity="0.85"/>
<path d="M312,870 C380,925 470,1000 526,1057" fill="none" stroke="#4f5a40" stroke-width="2.8" stroke-dasharray="1 1.6" opacity="0.7"/>
<path d="M379,1012 C430,1028 500,1042 548,1054" fill="none" stroke="#7d8a62" stroke-width="2.8" opacity="0.85"/>
<path d="M379,1012 C430,1028 500,1042 548,1054" fill="none" stroke="#4f5a40" stroke-width="2.8" stroke-dasharray="1 1.6" opacity="0.7"/>
<path d="M437,1049 C500,1010 600,960 692,913" fill="none" stroke="#7d8a62" stroke-width="2.8" opacity="0.85"/>
<path d="M437,1049 C500,1010 600,960 692,913" fill="none" stroke="#4f5a40" stroke-width="2.8" stroke-dasharray="1 1.6" opacity="0.7"/>
<path d="M616,745 C640,770 650,800 657,832 C664,848 680,851 694,853" fill="none" stroke="#7d8a62" stroke-width="2.8" opacity="0.85"/>
<path d="M616,745 C640,770 650,800 657,832 C664,848 680,851 694,853" fill="none" stroke="#4f5a40" stroke-width="2.8" stroke-dasharray="1 1.6" opacity="0.7"/>
<path d="M487,690 C476,698 468,712 466,732 C463,760 458,785 451,800 C440,812 400,814 376,822 C362,830 350,850 339,884" fill="none" stroke="#dcae68" stroke-width="2" opacity="0.9"/>
<path d="M340.1,835.8 336.0,828.9 M360.0,859.6 357.4,852.0 352.9,845.4 346.8,840.2 340.1,835.8 M338.4,854.0 336.0,846.4 M344.2,859.6 338.4,854.0 331.5,850.0 324.3,846.4 M415.0,890.0 408.0,886.2 402.0,880.8 396.1,875.4 389.3,871.2 382.9,866.4 375.6,863.3 367.7,861.8 360.0,859.6 352.1,858.5 344.2,859.6 M406.3,876.7 398.4,875.5 390.4,874.6 382.5,875.1 M387.7,851.0 390.5,843.5 392.0,835.6 391.9,827.6 M415.0,890.0 410.0,883.8 406.3,876.7 402.0,869.9 396.0,864.6 391.5,858.0 387.7,851.0 382.5,844.9 376.4,839.7 371.9,833.1 366.7,827.0 360.5,821.9 355.5,815.7 M384.9,857.9 380.9,851.0 M400.5,861.6 392.7,860.0 384.9,857.9 377.4,855.3 369.5,853.8 M391.4,831.0 387.5,824.0 384.4,816.6 382.7,808.8 M381.0,810.3 373.6,813.5 M387.0,815.6 381.0,810.3 374.4,805.8 366.8,803.1 359.1,800.9 M415.0,890.0 411.9,882.6 407.7,875.8 404.5,868.5 400.5,861.6 397.4,854.2 394.9,846.6 393.2,838.8 391.4,831.0 388.7,823.4 387.0,815.6 383.7,808.3 M427.9,860.9 433.6,855.2 439.1,849.5 444.1,843.2 447.4,835.9 M415.0,890.0 418.1,882.6 421.8,875.5 425.8,868.6 427.9,860.9 431.0,853.5 435.1,846.6 440.3,840.5 444.9,834.0 450.8,828.6 456.5,823.0 463.2,818.7 M476.8,808.4 483.7,804.4 490.3,799.8 496.8,795.1 503.0,790.1 509.7,785.6 M415.0,890.0 419.7,883.5 424.7,877.3 428.1,870.0 433.4,864.0 439.3,858.7 446.0,854.2 452.4,849.5 457.6,843.4 461.1,836.2 464.5,829.0 468.6,822.1 473.2,815.6 476.8,808.4 M450.1,871.2 451.1,863.3 451.1,855.3 450.8,847.3 M473.2,865.0 479.1,859.7 484.7,853.9 490.4,848.3 495.8,842.4 M496.6,868.1 504.4,866.3 512.4,865.4 520.3,864.4 527.6,861.3 M415.0,890.0 422.1,886.4 428.6,881.7 436.0,878.6 442.6,874.1 450.1,871.2 457.5,868.2 465.3,866.7 473.2,865.0 481.1,864.5 489.1,865.2 496.6,868.1 M462.4,884.1 468.5,889.2 475.0,893.9 480.3,899.8 M415.0,890.0 422.9,888.9 430.6,886.7 438.5,885.5 446.5,884.7 454.4,883.5 462.4,884.1 470.0,886.6 477.3,889.8 484.2,893.8 490.8,898.4 M478.1,898.4 484.9,894.3 492.5,891.8 M415.0,890.0 423.0,889.4 430.8,891.0 438.6,892.7 446.6,893.6 454.2,896.1 462.2,896.7 470.1,897.6 478.1,898.4 485.5,901.4 M415.0,890.0 422.2,893.5 429.5,896.7 436.7,900.2 443.3,904.7 449.8,909.5 456.0,914.4 462.3,919.4 469.1,923.6 474.7,929.3 480.0,935.3 486.3,940.2 M427.9,899.5 435.8,900.5 443.8,901.1 451.8,902.0 M433.3,920.7 426.1,924.1 418.8,927.5 M433.9,904.7 433.6,912.7 433.3,920.7 434.8,928.6 438.3,935.8 440.9,943.3 445.4,949.9 M415.0,890.0 421.3,894.9 427.9,899.5 433.9,904.7 441.2,908.1 447.9,912.4 454.7,916.7 461.2,921.3 467.4,926.4 473.0,932.1 479.9,936.1 486.0,941.3 492.0,946.7 497.8,952.1 504.5,956.6 510.9,961.4 M430.2,926.6 437.7,929.2 444.4,933.6 450.6,938.7 456.4,944.2 M415.0,890.0 417.0,897.7 419.7,905.3 422.0,913.0 425.5,920.1 430.2,926.6 436.2,931.9 442.6,936.7 449.4,940.9 455.8,945.7 460.7,952.0 464.4,959.1 469.9,964.9 475.0,971.1 480.1,977.2 486.4,982.1 M428.9,918.4 429.4,926.3 432.0,933.9 433.1,941.8 434.5,949.7 436.2,957.5 M415.0,890.0 417.9,897.5 420.0,905.2 423.6,912.3 428.9,918.4 435.1,923.4 442.5,926.5 449.2,930.8 454.9,936.4 461.0,941.6 467.0,946.9 472.0,953.2 475.5,960.4 477.8,968.0 480.5,975.6 481.5,983.5 481.4,991.5 M403.2,941.6 395.6,944.2 387.6,944.6 M399.7,965.3 405.1,971.2 M418.1,913.6 414.9,920.9 409.8,927.2 405.9,934.1 403.2,941.6 402.6,949.6 400.9,957.4 399.7,965.3 M415.0,890.0 414.7,898.0 416.4,905.8 418.1,913.6 420.9,921.1 423.4,928.7 425.9,936.3 430.0,943.2 433.6,950.4 436.4,957.8 439.7,965.1 443.5,972.2 445.8,979.8 447.7,987.6 449.6,995.4 451.9,1003.0 454.2,1010.7 M410.4,976.4 414.9,983.0 418.2,990.3 423.0,996.7 427.9,1003.1 434.2,1007.9 M415.0,890.0 413.3,897.8 410.8,905.4 410.4,913.4 409.7,921.4 409.3,929.4 411.0,937.2 413.0,944.9 414.2,952.8 413.9,960.8 412.7,968.8 410.4,976.4 409.8,984.4 408.3,992.3 408.0,1000.2 408.0,1008.2 M397.9,906.6 389.9,907.0 381.9,906.6 373.9,905.7 366.2,903.8 358.2,902.9 M385.5,916.6 378.4,920.2 371.7,924.6 364.2,927.4 M415.0,890.0 410.0,896.2 403.5,901.0 397.9,906.6 391.0,910.8 385.5,916.6 380.9,923.1 376.4,929.7 372.4,936.7 370.0,944.3 366.3,951.4 361.4,957.7 355.6,963.2 349.1,967.9 M415.0,890.0 409.0,895.3 402.1,899.3 395.7,904.1 388.6,907.7 381.1,910.7 373.8,913.8 366.3,916.8 358.8,919.4 351.3,922.2 344.8,926.9 337.5,930.1 M415.0,890.0 407.0,889.8 399.1,888.5 391.7,885.5 384.6,881.8 378.4,876.7 372.2,871.7 367.1,865.5 361.4,860.0 357.4,853.1 352.3,846.8 348.1,840.0 M415.0,890.0 407.0,890.5 399.4,893.0 391.7,895.2 383.8,896.4 376.0,898.0 368.1,899.2 360.7,902.2 352.8,903.7 M388.0,903.5 386.1,911.3 M407.0,889.2 400.2,893.2 394.5,898.9 388.0,903.5 382.9,909.7 M415.0,890.0 407.0,889.2 399.1,890.1 391.2,891.4 383.3,892.8 375.6,894.8 368.1,897.5 360.8,900.9 353.6,904.3 347.4,909.4 342.7,915.8 M427.1,918.9 425.7,926.8 425.8,934.8 423.8,942.5 423.2,950.5 M434.3,933.0 432.2,940.8 428.5,947.8 426.7,955.6 M415.0,890.0 415.6,898.0 418.4,905.5 422.8,912.1 427.1,918.9 431.6,925.5 434.3,933.0 435.7,940.9 438.3,948.5 440.7,956.1 443.1,963.7 445.7,971.3 M415.0,890.0 414.0,897.9 411.2,905.4 406.6,912.0 400.8,917.5 395.3,923.3 389.3,928.6 384.7,935.1 380.4,941.9 377.6,949.4 373.0,955.9" fill="none" stroke="#3f733a" stroke-width="1" opacity="0.9" stroke-linejoin="round"/>
<g transform="translate(548.4,687.4) rotate(-4)"><ellipse rx="43" ry="17" fill="#6b7e98"/><ellipse rx="38.2" ry="12.4" fill="#d6ebdf"/><path d="M-30.9,-8.5 Q-27.9,-1.5 -28.1,3.0" fill="none" stroke="#6b7e98" stroke-width="4.2" stroke-linecap="round"/><path d="M-22.7,11.1 Q-25.5,2.0 -25.4,-4.0" fill="none" stroke="#6b7e98" stroke-width="4.2" stroke-linecap="round"/><path d="M-15.1,-12.5 Q-13.6,-2.3 -13.2,4.6" fill="none" stroke="#6b7e98" stroke-width="4.2" stroke-linecap="round"/><path d="M-7.1,13.3 Q-4.8,2.5 -6.7,-4.9" fill="none" stroke="#6b7e98" stroke-width="4.2" stroke-linecap="round"/><path d="M1.0,-13.5 Q3.6,-2.5 3.5,5.0" fill="none" stroke="#6b7e98" stroke-width="4.2" stroke-linecap="round"/><path d="M8.4,13.2 Q9.6,2.4 8.1,-4.9" fill="none" stroke="#6b7e98" stroke-width="4.2" stroke-linecap="round"/><path d="M16.0,-12.4 Q14.5,-2.3 16.1,4.6" fill="none" stroke="#6b7e98" stroke-width="4.2" stroke-linecap="round"/><path d="M22.2,11.2 Q21.9,2.0 21.0,-4.1" fill="none" stroke="#6b7e98" stroke-width="4.2" stroke-linecap="round"/><path d="M30.4,-8.7 Q33.2,-1.5 33.1,3.1" fill="none" stroke="#6b7e98" stroke-width="4.2" stroke-linecap="round"/></g>
<g transform="translate(503.4,721.6) rotate(22)"><ellipse rx="34" ry="16" fill="#6b7e98"/><ellipse rx="29.2" ry="11.4" fill="#d6ebdf"/><path d="M-20.8,-9.2 Q-19.2,-1.6 -18.8,3.3" fill="none" stroke="#6b7e98" stroke-width="4.2" stroke-linecap="round"/><path d="M-15.2,10.8 Q-15.5,2.0 -16.4,-3.9" fill="none" stroke="#6b7e98" stroke-width="4.2" stroke-linecap="round"/><path d="M-7.6,-12.1 Q-9.9,-2.2 -8.0,4.4" fill="none" stroke="#6b7e98" stroke-width="4.2" stroke-linecap="round"/><path d="M0.7,12.5 Q-1.3,2.3 -1.5,-4.6" fill="none" stroke="#6b7e98" stroke-width="4.2" stroke-linecap="round"/><path d="M6.3,-12.2 Q6.4,-2.2 7.3,4.5" fill="none" stroke="#6b7e98" stroke-width="4.2" stroke-linecap="round"/><path d="M15.1,10.9 Q16.5,2.0 14.9,-4.0" fill="none" stroke="#6b7e98" stroke-width="4.2" stroke-linecap="round"/><path d="M21.3,-8.9 Q22.0,-1.6 22.7,3.2" fill="none" stroke="#6b7e98" stroke-width="4.2" stroke-linecap="round"/></g>
<g transform="translate(376.7,773.0) rotate(-22)"><ellipse rx="42" ry="17" fill="#6b7e98"/><ellipse rx="37.2" ry="12.4" fill="#d6ebdf"/><path d="M-29.6,-8.7 Q-28.7,-1.5 -28.1,3.1" fill="none" stroke="#6b7e98" stroke-width="4.2" stroke-linecap="round"/><path d="M-21.4,11.3 Q-18.5,2.1 -20.7,-4.1" fill="none" stroke="#6b7e98" stroke-width="4.2" stroke-linecap="round"/><path d="M-15.4,-12.4 Q-17.7,-2.3 -15.8,4.6" fill="none" stroke="#6b7e98" stroke-width="4.2" stroke-linecap="round"/><path d="M-8.2,13.2 Q-10.5,2.4 -10.6,-4.9" fill="none" stroke="#6b7e98" stroke-width="4.2" stroke-linecap="round"/><path d="M0.6,-13.5 Q2.4,-2.5 2.7,5.0" fill="none" stroke="#6b7e98" stroke-width="4.2" stroke-linecap="round"/><path d="M6.6,13.3 Q6.3,2.5 5.4,-4.9" fill="none" stroke="#6b7e98" stroke-width="4.2" stroke-linecap="round"/><path d="M14.8,-12.5 Q12.7,-2.3 14.6,4.6" fill="none" stroke="#6b7e98" stroke-width="4.2" stroke-linecap="round"/><path d="M23.0,10.9 Q25.8,2.0 23.7,-4.0" fill="none" stroke="#6b7e98" stroke-width="4.2" stroke-linecap="round"/><path d="M30.3,-8.4 Q29.6,-1.5 30.9,2.9" fill="none" stroke="#6b7e98" stroke-width="4.2" stroke-linecap="round"/></g>
<g transform="translate(513.8,971.0) rotate(-8)"><ellipse rx="46" ry="16" fill="#6b7e98"/><ellipse rx="41.2" ry="11.4" fill="#d6ebdf"/><path d="M-34.3,-7.5 Q-32.3,-1.3 -32.1,2.6" fill="none" stroke="#6b7e98" stroke-width="4.2" stroke-linecap="round"/><path d="M-26.5,9.8 Q-27.9,1.8 -28.3,-3.5" fill="none" stroke="#6b7e98" stroke-width="4.2" stroke-linecap="round"/><path d="M-18.0,-11.4 Q-15.2,-2.1 -15.3,4.1" fill="none" stroke="#6b7e98" stroke-width="4.2" stroke-linecap="round"/><path d="M-11.2,12.1 Q-11.9,2.2 -12.6,-4.4" fill="none" stroke="#6b7e98" stroke-width="4.2" stroke-linecap="round"/><path d="M-4.6,-12.4 Q-4.1,-2.3 -3.3,4.6" fill="none" stroke="#6b7e98" stroke-width="4.2" stroke-linecap="round"/><path d="M4.5,12.4 Q1.9,2.3 1.9,-4.6" fill="none" stroke="#6b7e98" stroke-width="4.2" stroke-linecap="round"/><path d="M11.0,-12.1 Q11.7,-2.2 12.4,4.4" fill="none" stroke="#6b7e98" stroke-width="4.2" stroke-linecap="round"/><path d="M18.3,11.3 Q16.7,2.1 16.4,-4.1" fill="none" stroke="#6b7e98" stroke-width="4.2" stroke-linecap="round"/><path d="M25.1,-10.2 Q27.7,-1.8 27.7,3.7" fill="none" stroke="#6b7e98" stroke-width="4.2" stroke-linecap="round"/><path d="M32.9,8.0 Q34.8,1.4 33.0,-2.8" fill="none" stroke="#6b7e98" stroke-width="4.2" stroke-linecap="round"/></g>
<g transform="translate(650.7,1008.4) rotate(-25)"><ellipse rx="46" ry="19" fill="#6b7e98"/><ellipse rx="41.2" ry="14.4" fill="#d6ebdf"/><path d="M-32.5,-10.0 Q-31.4,-1.8 -30.8,3.6" fill="none" stroke="#6b7e98" stroke-width="4.2" stroke-linecap="round"/><path d="M-24.2,12.8 Q-21.6,2.4 -23.6,-4.7" fill="none" stroke="#6b7e98" stroke-width="4.2" stroke-linecap="round"/><path d="M-16.5,-14.3 Q-17.1,-2.7 -15.9,5.3" fill="none" stroke="#6b7e98" stroke-width="4.2" stroke-linecap="round"/><path d="M-7.5,15.3 Q-8.4,2.9 -9.0,-5.7" fill="none" stroke="#6b7e98" stroke-width="4.2" stroke-linecap="round"/><path d="M1.0,-15.5 Q-0.7,-2.9 1.0,5.8" fill="none" stroke="#6b7e98" stroke-width="4.2" stroke-linecap="round"/><path d="M8.1,15.2 Q6.0,2.8 5.8,-5.7" fill="none" stroke="#6b7e98" stroke-width="4.2" stroke-linecap="round"/><path d="M16.5,-14.3 Q17.7,-2.7 18.2,5.3" fill="none" stroke="#6b7e98" stroke-width="4.2" stroke-linecap="round"/><path d="M24.8,12.6 Q25.6,2.3 24.3,-4.7" fill="none" stroke="#6b7e98" stroke-width="4.2" stroke-linecap="round"/><path d="M32.2,-10.1 Q35.1,-1.8 35.0,3.7" fill="none" stroke="#6b7e98" stroke-width="4.2" stroke-linecap="round"/></g>
<path d="M473.3,810.7 A86,86 0 0 1 539.2,761.8" fill="none" stroke="#4a92d4" stroke-width="3.8" stroke-linecap="round"/>
<path d="M473.3,810.7 A86,86 0 0 1 539.2,761.8" fill="none" stroke="#8fd0f3" stroke-width="2.4" stroke-linecap="round"/>
<path d="M468.7,808.5 A91,91 0 0 1 538.5,756.9" fill="none" stroke="#4a92d4" stroke-width="3.8" stroke-linecap="round"/>
<path d="M468.7,808.5 A91,91 0 0 1 538.5,756.9" fill="none" stroke="#8fd0f3" stroke-width="2.4" stroke-linecap="round"/>
<path d="M464.2,806.4 A96,96 0 0 1 537.8,751.9" fill="none" stroke="#4a92d4" stroke-width="3.8" stroke-linecap="round"/>
<path d="M464.2,806.4 A96,96 0 0 1 537.8,751.9" fill="none" stroke="#8fd0f3" stroke-width="2.4" stroke-linecap="round"/>
<path d="M617.3,805.7 A78,78 0 0 1 621.3,881.2" fill="none" stroke="#4a92d4" stroke-width="3.8" stroke-linecap="round"/>
<path d="M617.3,805.7 A78,78 0 0 1 621.3,881.2" fill="none" stroke="#8fd0f3" stroke-width="2.4" stroke-linecap="round"/>
<path d="M621.6,803.0 A83,83 0 0 1 625.8,883.4" fill="none" stroke="#4a92d4" stroke-width="3.8" stroke-linecap="round"/>
<path d="M621.6,803.0 A83,83 0 0 1 625.8,883.4" fill="none" stroke="#8fd0f3" stroke-width="2.4" stroke-linecap="round"/>
<path d="M625.8,800.4 A88,88 0 0 1 630.3,885.6" fill="none" stroke="#4a92d4" stroke-width="3.8" stroke-linecap="round"/>
<path d="M625.8,800.4 A88,88 0 0 1 630.3,885.6" fill="none" stroke="#8fd0f3" stroke-width="2.4" stroke-linecap="round"/>
<path d="M623.9,889.0 A84,84 0 0 1 554.1,930.9" fill="none" stroke="#4a92d4" stroke-width="3.8" stroke-linecap="round"/>
<path d="M623.9,889.0 A84,84 0 0 1 554.1,930.9" fill="none" stroke="#8fd0f3" stroke-width="2.4" stroke-linecap="round"/>
<path d="M628.3,891.5 A89,89 0 0 1 554.3,935.9" fill="none" stroke="#4a92d4" stroke-width="3.8" stroke-linecap="round"/>
<path d="M628.3,891.5 A89,89 0 0 1 554.3,935.9" fill="none" stroke="#8fd0f3" stroke-width="2.4" stroke-linecap="round"/>
<path d="M632.6,894.0 A94,94 0 0 1 554.5,940.9" fill="none" stroke="#4a92d4" stroke-width="3.8" stroke-linecap="round"/>
<path d="M632.6,894.0 A94,94 0 0 1 554.5,940.9" fill="none" stroke="#8fd0f3" stroke-width="2.4" stroke-linecap="round"/>
<path d="M536.1,932.7 A87,87 0 0 1 477.4,893.1" fill="none" stroke="#4a92d4" stroke-width="3.8" stroke-linecap="round"/>
<path d="M536.1,932.7 A87,87 0 0 1 477.4,893.1" fill="none" stroke="#8fd0f3" stroke-width="2.4" stroke-linecap="round"/>
<path d="M535.2,937.6 A92,92 0 0 1 473.2,895.8" fill="none" stroke="#4a92d4" stroke-width="3.8" stroke-linecap="round"/>
<path d="M535.2,937.6 A92,92 0 0 1 473.2,895.8" fill="none" stroke="#8fd0f3" stroke-width="2.4" stroke-linecap="round"/>
<path d="M534.4,942.5 A97,97 0 0 1 468.9,898.4" fill="none" stroke="#4a92d4" stroke-width="3.8" stroke-linecap="round"/>
<path d="M534.4,942.5 A97,97 0 0 1 468.9,898.4" fill="none" stroke="#8fd0f3" stroke-width="2.4" stroke-linecap="round"/>
<path d="M474.6,886.0 A86,86 0 0 1 473.3,810.7" fill="none" stroke="#4a92d4" stroke-width="3.8" stroke-linecap="round"/>
<path d="M474.6,886.0 A86,86 0 0 1 473.3,810.7" fill="none" stroke="#8fd0f3" stroke-width="2.4" stroke-linecap="round"/>
<path d="M470.1,888.3 A91,91 0 0 1 468.7,808.5" fill="none" stroke="#4a92d4" stroke-width="3.8" stroke-linecap="round"/>
<path d="M470.1,888.3 A91,91 0 0 1 468.7,808.5" fill="none" stroke="#8fd0f3" stroke-width="2.4" stroke-linecap="round"/>
<path d="M520.2,793.3 A62,62 0 0 1 576.4,790.4" fill="none" stroke="#3f7cc4" stroke-width="4" stroke-dasharray="1.2 1.2" stroke-linecap="butt"/>
<path d="M520.2,793.3 A62,62 0 0 1 576.4,790.4" fill="none" stroke="#94d0f2" stroke-width="1.9" stroke-linecap="round"/>
<path d="M517.2,788.1 A68,68 0 0 1 578.9,784.9" fill="none" stroke="#3f7cc4" stroke-width="4" stroke-dasharray="1.2 1.2" stroke-linecap="butt"/>
<path d="M517.2,788.1 A68,68 0 0 1 578.9,784.9" fill="none" stroke="#94d0f2" stroke-width="1.9" stroke-linecap="round"/>
<path d="M514.2,782.9 A74,74 0 0 1 581.3,779.4" fill="none" stroke="#3f7cc4" stroke-width="4" stroke-dasharray="1.2 1.2" stroke-linecap="butt"/>
<path d="M514.2,782.9 A74,74 0 0 1 581.3,779.4" fill="none" stroke="#94d0f2" stroke-width="1.9" stroke-linecap="round"/>
<path d="M595.6,809.7 A58,58 0 0 1 601.4,876.0" fill="none" stroke="#3f7cc4" stroke-width="4" stroke-dasharray="1.2 1.2" stroke-linecap="butt"/>
<path d="M595.6,809.7 A58,58 0 0 1 601.4,876.0" fill="none" stroke="#94d0f2" stroke-width="1.9" stroke-linecap="round"/>
<path d="M600.2,805.9 A64,64 0 0 1 606.6,879.0" fill="none" stroke="#3f7cc4" stroke-width="4" stroke-dasharray="1.2 1.2" stroke-linecap="butt"/>
<path d="M600.2,805.9 A64,64 0 0 1 606.6,879.0" fill="none" stroke="#94d0f2" stroke-width="1.9" stroke-linecap="round"/>
<path d="M604.8,802.0 A70,70 0 0 1 611.8,882.0" fill="none" stroke="#3f7cc4" stroke-width="4" stroke-dasharray="1.2 1.2" stroke-linecap="butt"/>
<path d="M604.8,802.0 A70,70 0 0 1 611.8,882.0" fill="none" stroke="#94d0f2" stroke-width="1.9" stroke-linecap="round"/>
<path d="M582.2,900.7 A62,62 0 0 1 532.0,906.0" fill="none" stroke="#3f7cc4" stroke-width="4" stroke-dasharray="1.2 1.2" stroke-linecap="butt"/>
<path d="M582.2,900.7 A62,62 0 0 1 532.0,906.0" fill="none" stroke="#94d0f2" stroke-width="1.9" stroke-linecap="round"/>
<path d="M585.2,905.9 A68,68 0 0 1 530.2,911.7" fill="none" stroke="#3f7cc4" stroke-width="4" stroke-dasharray="1.2 1.2" stroke-linecap="butt"/>
<path d="M585.2,905.9 A68,68 0 0 1 530.2,911.7" fill="none" stroke="#94d0f2" stroke-width="1.9" stroke-linecap="round"/>
<path d="M588.2,911.1 A74,74 0 0 1 528.3,917.4" fill="none" stroke="#3f7cc4" stroke-width="4" stroke-dasharray="1.2 1.2" stroke-linecap="butt"/>
<path d="M588.2,911.1 A74,74 0 0 1 528.3,917.4" fill="none" stroke="#94d0f2" stroke-width="1.9" stroke-linecap="round"/>
<path d="M526.0,903.6 A62,62 0 0 1 498.6,879.9" fill="none" stroke="#3f7cc4" stroke-width="4" stroke-dasharray="1.2 1.2" stroke-linecap="butt"/>
<path d="M526.0,903.6 A62,62 0 0 1 498.6,879.9" fill="none" stroke="#94d0f2" stroke-width="1.9" stroke-linecap="round"/>
<path d="M523.5,909.1 A68,68 0 0 1 493.5,883.0" fill="none" stroke="#3f7cc4" stroke-width="4" stroke-dasharray="1.2 1.2" stroke-linecap="butt"/>
<path d="M523.5,909.1 A68,68 0 0 1 493.5,883.0" fill="none" stroke="#94d0f2" stroke-width="1.9" stroke-linecap="round"/>
<path d="M521.1,914.6 A74,74 0 0 1 488.4,886.2" fill="none" stroke="#3f7cc4" stroke-width="4" stroke-dasharray="1.2 1.2" stroke-linecap="butt"/>
<path d="M521.1,914.6 A74,74 0 0 1 488.4,886.2" fill="none" stroke="#94d0f2" stroke-width="1.9" stroke-linecap="round"/>
<path d="M495.0,873.2 A62,62 0 0 1 497.5,816.0" fill="none" stroke="#3f7cc4" stroke-width="4" stroke-dasharray="1.2 1.2" stroke-linecap="butt"/>
<path d="M495.0,873.2 A62,62 0 0 1 497.5,816.0" fill="none" stroke="#94d0f2" stroke-width="1.9" stroke-linecap="round"/>
<path d="M489.6,875.7 A68,68 0 0 1 492.3,813.0" fill="none" stroke="#3f7cc4" stroke-width="4" stroke-dasharray="1.2 1.2" stroke-linecap="butt"/>
<path d="M489.6,875.7 A68,68 0 0 1 492.3,813.0" fill="none" stroke="#94d0f2" stroke-width="1.9" stroke-linecap="round"/>
<path d="M484.1,878.3 A74,74 0 0 1 487.1,810.0" fill="none" stroke="#3f7cc4" stroke-width="4" stroke-dasharray="1.2 1.2" stroke-linecap="butt"/>
<path d="M484.1,878.3 A74,74 0 0 1 487.1,810.0" fill="none" stroke="#94d0f2" stroke-width="1.9" stroke-linecap="round"/>
<path d="M520.8,803.6 L515.6,796.2 L517.3,790.5 M515.6,796.2 L509.6,795.9" fill="none" stroke="#3f8fd6" stroke-width="4" stroke-linecap="round"/>
<path d="M520.8,803.6 L515.6,796.2 L517.3,790.5 M515.6,796.2 L509.6,795.9" fill="none" stroke="#8fd2f6" stroke-width="2" stroke-linecap="round"/>
<path d="M585.3,806.4 L591.1,799.5 L597.1,799.7 M591.1,799.5 L589.8,793.6" fill="none" stroke="#3f8fd6" stroke-width="4" stroke-linecap="round"/>
<path d="M585.3,806.4 L591.1,799.5 L597.1,799.7 M591.1,799.5 L589.8,793.6" fill="none" stroke="#8fd2f6" stroke-width="2" stroke-linecap="round"/>
<path d="M581.6,890.4 L586.8,897.8 L585.1,903.5 M586.8,897.8 L592.8,898.1" fill="none" stroke="#3f8fd6" stroke-width="4" stroke-linecap="round"/>
<path d="M581.6,890.4 L586.8,897.8 L585.1,903.5 M586.8,897.8 L592.8,898.1" fill="none" stroke="#8fd2f6" stroke-width="2" stroke-linecap="round"/>
<circle cx="547.6" cy="764.8" r="3" fill="#9fd6f4" stroke="#4a86cf" stroke-width="0.8"/>
<circle cx="554.8" cy="764.4" r="3" fill="#9fd6f4" stroke="#4a86cf" stroke-width="0.8"/>
<circle cx="561.2" cy="766.4" r="3" fill="#9fd6f4" stroke="#4a86cf" stroke-width="0.8"/>
<circle cx="551.2" cy="847" r="53" fill="#7cc2ee"/>
<circle cx="551.2" cy="847" r="51" fill="#4d1f7d"/>
<path d="M506.2,826.2 L511.2,816.2 L522.5,806.2 L531.2,800.0 L542.5,797.5 L545.0,805.0 L537.5,810.0 L531.2,816.2 L528.8,825.0 L528.8,837.5 L523.8,842.5 L515.0,843.8 L507.5,838.8Z" fill="#7b4ead" clip-path="url(#nucclip)"/>
<path d="M555.0,802.5 L565.0,801.2 L575.0,800.0 L585.0,810.0 L593.8,818.8 L593.8,827.5 L585.0,826.2 L577.5,822.5 L570.0,816.2 L565.0,810.0Z" fill="#7b4ead" clip-path="url(#nucclip)"/>
<path d="M501.2,860.0 L515.0,855.0 L531.2,851.2 L550.0,847.5 L565.0,843.8 L580.0,837.5 L597.5,835.0 L601.2,850.0 L590.0,857.5 L577.5,862.5 L560.0,865.0 L545.0,866.2 L542.5,872.5 L550.0,880.0 L560.0,883.8 L542.5,885.0 L527.5,882.5 L515.0,875.0 L503.8,868.8Z" fill="#7b4ead" clip-path="url(#nucclip)"/>
<path d="M567.5,871.2 L577.5,867.5 L588.8,865.0 L596.2,871.2 L587.5,880.0 L577.5,885.0 L565.0,888.8 L556.2,885.0Z" fill="#7b4ead" clip-path="url(#nucclip)"/>
<path d="M566.8,825.6 L567.0,828.0 L566.7,830.4 L566.3,832.8 L564.6,834.7 L563.7,837.1 L559.9,836.9 L559.1,839.4 L557.9,842.0 L555.2,842.2 L553.1,843.7 L550.2,841.7 L548.0,843.0 L545.7,842.1 L543.2,842.6 L540.9,842.0 L539.6,839.4 L537.4,838.8 L535.5,837.5 L532.3,837.1 L531.3,834.8 L532.1,831.9 L529.3,830.4 L531.0,827.7 L529.2,825.6 L531.0,823.5 L531.9,821.5 L529.9,818.4 L532.9,817.3 L534.2,815.5 L533.9,812.1 L536.1,810.8 L539.2,811.0 L540.4,808.1 L543.2,808.6 L545.5,807.7 L548.0,809.0 L550.6,806.9 L552.9,808.1 L555.6,808.1 L557.8,809.4 L558.8,812.2 L560.7,813.5 L561.7,815.6 L562.9,817.4 L563.6,819.4 L565.1,821.2 L566.6,823.3Z" fill="#211830"/>
<circle cx="562.0" cy="825.9" r="0.6" fill="#4a3a5a"/>
<circle cx="543.0" cy="833.7" r="0.6" fill="#4a3a5a"/>
<circle cx="552.9" cy="814.9" r="0.6" fill="#4a3a5a"/>
<circle cx="543.3" cy="836.4" r="0.6" fill="#4a3a5a"/>
<circle cx="546.9" cy="821.7" r="0.6" fill="#4a3a5a"/>
<circle cx="550.5" cy="825.2" r="0.6" fill="#4a3a5a"/>
<circle cx="548.0" cy="810.0" r="0.6" fill="#4a3a5a"/>
<circle cx="563.0" cy="827.3" r="0.6" fill="#4a3a5a"/>
<circle cx="539.4" cy="835.2" r="0.6" fill="#4a3a5a"/>
<circle cx="551.7" cy="825.8" r="0.6" fill="#4a3a5a"/>
<circle cx="555.0" cy="840.7" r="0.6" fill="#4a3a5a"/>
<circle cx="552.9" cy="839.6" r="0.6" fill="#4a3a5a"/>
<circle cx="562.9" cy="818.5" r="0.6" fill="#4a3a5a"/>
<circle cx="542.3" cy="834.0" r="0.6" fill="#4a3a5a"/>
<circle cx="533.2" cy="823.3" r="0.6" fill="#4a3a5a"/>
<circle cx="559.4" cy="834.8" r="0.6" fill="#4a3a5a"/>
<circle cx="552.6" cy="810.5" r="0.6" fill="#4a3a5a"/>
<circle cx="564.1" cy="829.4" r="0.6" fill="#4a3a5a"/>
<circle cx="556.3" cy="831.0" r="0.6" fill="#4a3a5a"/>
<circle cx="535.5" cy="815.2" r="0.6" fill="#4a3a5a"/>
<circle cx="539.2" cy="839.4" r="0.6" fill="#4a3a5a"/>
<circle cx="538.9" cy="822.9" r="0.6" fill="#4a3a5a"/>
<circle cx="545.1" cy="832.1" r="0.6" fill="#4a3a5a"/>
<circle cx="553.8" cy="828.7" r="0.6" fill="#4a3a5a"/>
<circle cx="541.7" cy="809.9" r="0.6" fill="#4a3a5a"/>
<circle cx="550.0" cy="828.8" r="0.6" fill="#4a3a5a"/>
<circle cx="560.4" cy="824.6" r="0.6" fill="#4a3a5a"/>
<circle cx="541.1" cy="830.2" r="0.6" fill="#4a3a5a"/>
<circle cx="535.2" cy="817.0" r="0.6" fill="#4a3a5a"/>
<circle cx="537.4" cy="828.6" r="0.6" fill="#4a3a5a"/>
<circle cx="563.3" cy="831.2" r="0.6" fill="#4a3a5a"/>
<circle cx="559.7" cy="828.0" r="0.6" fill="#4a3a5a"/>
<circle cx="551.2" cy="820.4" r="0.6" fill="#4a3a5a"/>
<circle cx="546.1" cy="809.1" r="0.6" fill="#4a3a5a"/>
<circle cx="537.7" cy="814.6" r="0.6" fill="#4a3a5a"/>
<circle cx="556.8" cy="832.6" r="0.6" fill="#4a3a5a"/>
<circle cx="557.2" cy="838.2" r="0.6" fill="#4a3a5a"/>
<circle cx="544.8" cy="836.6" r="0.6" fill="#4a3a5a"/>
<circle cx="563.7" cy="825.5" r="0.6" fill="#4a3a5a"/>
<circle cx="559.3" cy="823.9" r="0.6" fill="#4a3a5a"/>
<circle cx="533.5" cy="826.7" r="0.6" fill="#4a3a5a"/>
<circle cx="538.9" cy="826.8" r="0.6" fill="#4a3a5a"/>
<circle cx="542.6" cy="829.3" r="0.6" fill="#4a3a5a"/>
<circle cx="535.9" cy="837.4" r="0.6" fill="#4a3a5a"/>
<circle cx="561.0" cy="822.2" r="0.6" fill="#4a3a5a"/>
<circle cx="538.1" cy="825.6" r="0.6" fill="#4a3a5a"/>
<circle cx="555.5" cy="830.3" r="0.6" fill="#4a3a5a"/>
<circle cx="551.2" cy="810.1" r="0.6" fill="#4a3a5a"/>
<circle cx="538.3" cy="837.1" r="0.6" fill="#4a3a5a"/>
<circle cx="550.2" cy="811.6" r="0.6" fill="#4a3a5a"/>
<circle cx="540.4" cy="812.9" r="0.6" fill="#4a3a5a"/>
<circle cx="538.7" cy="836.4" r="0.6" fill="#4a3a5a"/>
<circle cx="545.7" cy="837.2" r="0.6" fill="#4a3a5a"/>
<circle cx="549.7" cy="811.6" r="0.6" fill="#4a3a5a"/>
<circle cx="543.5" cy="841.5" r="0.6" fill="#4a3a5a"/>
<circle cx="540.4" cy="815.1" r="0.6" fill="#4a3a5a"/>
<circle cx="560.5" cy="826.5" r="0.6" fill="#4a3a5a"/>
<circle cx="547.9" cy="839.5" r="0.6" fill="#4a3a5a"/>
<circle cx="533.1" cy="829.1" r="0.6" fill="#4a3a5a"/>
<circle cx="538.9" cy="813.5" r="0.6" fill="#4a3a5a"/>
<circle cx="551.2" cy="847" r="52" fill="none" stroke="#3f7fc8" stroke-width="1"/>
<path d="M553.0,736.5 c10.0,3.0 17.0,10.0 29.0,12.0 c8.0,1.0 13.0,-1.0 18.0,0.0" fill="none" stroke="#8a0f50" stroke-width="3.9" stroke-linecap="round"/>
<path d="M551.8,740.4 c9.5,3.0 16.1,10.0 27.5,12.0 c7.6,1.0 12.3,-1.0 17.1,0.0" fill="none" stroke="#9c1560" stroke-width="3.0" stroke-linecap="round"/>
<path d="M550.6,744.3 c9.0,3.0 15.3,10.0 26.1,12.0 c7.2,1.0 11.7,-1.0 16.2,0.0" fill="none" stroke="#b01d6c" stroke-width="3.0" stroke-linecap="round"/>
<path d="M549.4,748.2 c8.5,3.0 14.4,10.0 24.6,12.0 c6.8,1.0 11.0,-1.0 15.3,0.0" fill="none" stroke="#c62a7c" stroke-width="3.0" stroke-linecap="round"/>
<path d="M548.2,752.1 c8.0,3.0 13.6,10.0 23.2,12.0 c6.4,1.0 10.4,-1.0 14.4,0.0" fill="none" stroke="#d93c8c" stroke-width="3.0" stroke-linecap="round"/>
<path d="M547.0,756.0 c7.5,3.0 12.8,10.0 21.8,12.0 c6.0,1.0 9.8,-1.0 13.5,0.0" fill="none" stroke="#e455a0" stroke-width="3.0" stroke-linecap="round"/>
<path d="M557,734 C563,735 567,740 571,743 L580,746" fill="none" stroke="#8a0f50" stroke-width="5" stroke-linecap="round"/>
<circle cx="570" cy="729.2" r="3" fill="#9a1252"/>
<circle cx="549.2" cy="736.4" r="2.8" fill="#9a1252"/>
<circle cx="570.8" cy="736.4" r="2" fill="#9a1252"/>
<circle cx="580.4" cy="739.6" r="2.8" fill="#9a1252"/>
<circle cx="600.4" cy="738.8" r="3.6" fill="#9a1252"/>
<circle cx="594.4" cy="769.6" r="2.5" fill="#9a1252"/>
<ellipse cx="591.2" cy="707.6" rx="5.2" ry="4.6" fill="#b0157a"/>
<path d="M605.2,734.8 C614,728 618,716 602.6,708.6" fill="none" stroke="#111" stroke-width="1.2"/>
<path d="M607.5,706.5 L602,708.4 L604.5,713.5" fill="none" stroke="#111" stroke-width="1.2"/>
<circle cx="645.9" cy="735.2" r="9.2" fill="url(#lys)"/>
<circle cx="663.3" cy="780" r="8.2" fill="url(#lys)"/>
<circle cx="670.6" cy="879.7" r="8" fill="url(#lys)"/>
<circle cx="680.4" cy="958.6" r="12" fill="url(#lys)"/>
<circle cx="607" cy="1040.5" r="9" fill="url(#lys)"/>
<circle cx="532.5" cy="1025" r="12.5" fill="url(#lys)"/>
<circle cx="355" cy="960" r="10" fill="url(#lys)"/>
<circle cx="412" cy="795" r="8" fill="url(#org)"/>
<circle cx="327.3" cy="870.2" r="10" fill="url(#org)"/>
<ellipse cx="371" cy="1032" rx="11" ry="14" fill="url(#brn)"/>
<circle cx="374.8" cy="1033.2" r="0.9" fill="#222"/>
<circle cx="372.8" cy="1027.8" r="0.9" fill="#222"/>
<circle cx="371.0" cy="1032.7" r="0.9" fill="#222"/>
<circle cx="368.4" cy="1034.1" r="0.9" fill="#222"/>
<ellipse cx="456.6" cy="1043" rx="11" ry="11" fill="url(#brn)"/>
<circle cx="456.9" cy="1048.5" r="0.9" fill="#222"/>
<circle cx="457.4" cy="1042.0" r="0.9" fill="#222"/>
<circle cx="452.4" cy="1039.2" r="0.9" fill="#222"/>
<circle cx="459.5" cy="1038.7" r="0.9" fill="#222"/>
<ellipse cx="570" cy="1035" rx="6.5" ry="6.5" fill="url(#brn)"/>
<circle cx="567.4" cy="1032.9" r="0.9" fill="#222"/>
<circle cx="570.1" cy="1037.1" r="0.9" fill="#222"/>
<circle cx="570.7" cy="1037.0" r="0.9" fill="#222"/>
<circle cx="567.2" cy="1031.8" r="0.9" fill="#222"/>
<circle cx="441.7" cy="970.3" r="7" fill="#d8e8b8" stroke="#4f7f8f" stroke-width="1"/>
<ellipse cx="441.7" cy="970.3" rx="4.2" ry="3.8" fill="#2a8fd0"/>
<circle cx="452" cy="755.4" r="7" fill="#d8e8b8" stroke="#4f7f8f" stroke-width="1"/>
<ellipse cx="452" cy="755.4" rx="4.2" ry="3.8" fill="#2a8fd0"/>
<circle cx="372.8" cy="810" r="4.2" fill="#dfeee6" stroke="#7b96a2" stroke-width="0.9"/>
<circle cx="372.8" cy="810" r="1.8900000000000001" fill="none" stroke="#7b96a2" stroke-width="0.7" stroke-dasharray="1 1"/>
<circle cx="436.5" cy="928" r="4.2" fill="#dfeee6" stroke="#7b96a2" stroke-width="0.9"/>
<circle cx="436.5" cy="928" r="1.8900000000000001" fill="none" stroke="#7b96a2" stroke-width="0.7" stroke-dasharray="1 1"/>
<circle cx="601" cy="962.5" r="4.2" fill="#dfeee6" stroke="#7b96a2" stroke-width="0.9"/>
<circle cx="601" cy="962.5" r="1.8900000000000001" fill="none" stroke="#7b96a2" stroke-width="0.7" stroke-dasharray="1 1"/>
<circle cx="559.5" cy="996.3" r="4.2" fill="#dfeee6" stroke="#7b96a2" stroke-width="0.9"/>
<circle cx="559.5" cy="996.3" r="1.8900000000000001" fill="none" stroke="#7b96a2" stroke-width="0.7" stroke-dasharray="1 1"/>
<circle cx="622" cy="721.4" r="4" fill="#dfeee6" stroke="#7b96a2" stroke-width="0.9"/>
<circle cx="622" cy="721.4" r="1.8" fill="none" stroke="#7b96a2" stroke-width="0.7" stroke-dasharray="1 1"/>
<circle cx="637.6" cy="753.5" r="5" fill="#dfeee6" stroke="#7b96a2" stroke-width="0.9"/>
<circle cx="637.6" cy="753.5" r="2.25" fill="none" stroke="#7b96a2" stroke-width="0.7" stroke-dasharray="1 1"/>
<circle cx="627" cy="917" r="4.5" fill="#dfeee6" stroke="#7b96a2" stroke-width="0.9"/>
<circle cx="627" cy="917" r="2.025" fill="none" stroke="#7b96a2" stroke-width="0.7" stroke-dasharray="1 1"/>
<circle cx="635.8" cy="789" r="6" fill="#dfeee6" stroke="#6f8f93" stroke-width="0.9"/>
<circle cx="615" cy="888" r="6" fill="#dfeee6" stroke="#6f8f93" stroke-width="0.9"/>
<g transform="translate(403.2,883.2) rotate(-22)"><rect x="-16" y="-7.5" width="32" height="15" fill="#9a3aa2"/><line x1="-16" y1="-4" x2="16" y2="-4" stroke="#c46ac0" stroke-width="1.5"/><line x1="-16" y1="0" x2="16" y2="0" stroke="#dca048" stroke-width="2"/><line x1="-16" y1="4" x2="16" y2="4" stroke="#c46ac0" stroke-width="1.5"/></g>
<g transform="translate(425.2,895.2)"><rect x="-9" y="-17" width="18" height="34" fill="#9a3aa2"/><line x1="-4.5" y1="-17" x2="-4.5" y2="17" stroke="#c46ac0" stroke-width="1.5"/><line x1="0" y1="-17" x2="0" y2="17" stroke="#dca048" stroke-width="2"/><line x1="4.5" y1="-17" x2="4.5" y2="17" stroke="#c46ac0" stroke-width="1.5"/></g>
<circle cx="393.6" cy="872.8" r="3.8" fill="#5c0f16"/>
<circle cx="407.2" cy="886.4" r="4.2" fill="#5c0f16"/>
<circle cx="415.2" cy="896" r="4.2" fill="#5c0f16"/>
<circle cx="437.6" cy="892" r="4.5" fill="#5c0f16"/>
<circle cx="441" cy="893" r="3" fill="#5c0f16"/>
<path d="M334,666L333.1,605.4A4.4,4.4 0 0 1 341.9,605.4L343.8,658.0C344.7,663.2 347.3,663.2 348.2,658.0L349.1,593.4A4.4,4.4 0 0 1 357.9,593.4L361.4,655.0C362.3,660.2 364.9,660.2 365.8,655.0L364.0,596.8A4.4,4.4 0 0 1 372.8,596.8L376.6,663.0C377.5,668.2 380.1,668.2 381.0,663.0L377.6,605.4A4.4,4.4 0 0 1 386.4,605.4L389.4,666.0C390.3,671.2 392.9,671.2 393.8,666.0L392.0,604.4A4.4,4.4 0 0 1 400.8,604.4L403.8,667.0C404.7,672.2 407.3,672.2 408.2,667.0L410.4,590.4A4.4,4.4 0 0 1 419.2,590.4L420.6,644.4C421.5,649.6 424.1,649.6 425.0,644.4L425.6,580.0A4.4,4.4 0 0 1 434.4,580.0L435.8,645.2C436.7,650.4 439.3,650.4 440.2,645.2L440.6,582.4A4.4,4.4 0 0 1 449.4,582.4L450.8,646.5C451.7,651.7 454.3,651.7 455.2,646.5L454.4,591.2A4.4,4.4 0 0 1 463.2,591.2L466.6,654.2C467.5,659.4 470.1,659.4 471.0,654.2L469.2,591.2A4.4,4.4 0 0 1 478.0,591.2L483.4,655.4C484.3,660.6 486.9,660.6 487.8,655.4L491.4,581.0A4.4,4.4 0 0 1 500.2,581.0L502.6,634.0C503.5,639.2 506.1,639.2 507.0,634.0L507.6,570.8A4.4,4.4 0 0 1 516.4,570.8L519.4,632.6C520.3,637.8 522.9,637.8 523.8,632.6L522.0,573.2A4.4,4.4 0 0 1 530.8,573.2L532.6,637.4C533.5,642.6 536.1,642.6 537.0,637.4L535.2,581.0A4.4,4.4 0 0 1 544.0,581.0L545.8,643.4C546.7,648.6 549.3,648.6 550.2,643.4L550.2,582.4A4.4,4.4 0 0 1 559.0,582.4L561.4,631.0C562.3,636.2 564.9,636.2 565.8,631.0L566.9,581.5A4.4,4.4 0 0 1 575.7,581.5L575.0,634.3C575.9,639.5 578.5,639.5 579.4,634.3L582.2,582.4A4.4,4.4 0 0 1 591.0,582.4L589.5,629.2C590.4,634.4 593.0,634.4 593.9,629.2L595.8,575.6A4.4,4.4 0 0 1 604.6,575.6L602.2,631.0C603.1,636.2 605.7,636.2 606.6,631.0L610.2,572.2A4.4,4.4 0 0 1 619.0,572.2L617.5,629.2C618.4,634.4 621.0,634.4 621.9,629.2L626.4,583.2A4.4,4.4 0 0 1 635.2,583.2L634.5,630.0C635.4,635.2 638.0,635.2 638.9,630.0L651.9,596.0A4.4,4.4 0 0 1 660.7,596.0L644.8,647.0C645.7,652.2 648.3,652.2 649.2,647.0L669.7,591.7A4.4,4.4 0 0 1 678.5,591.7L660.8,656.0C661.7,661.2 664.3,661.2 665.2,656.0L683.3,599.4A4.4,4.4 0 0 1 692.1,599.4L673.8,663.0C674.7,668.2 677.3,668.2 678.2,663.0L693.2,612.1A4.4,4.4 0 0 1 702.0,612.1L684.8,669.0C685.7,674.2 688.3,674.2 689.2,669.0L707.1,616.4A4.4,4.4 0 0 1 715.9,616.4L693,662 Q697,670 698,677C699,720 700,800 701.5,900C702,960 700,1000 690,1030C680,1055 650,1068 612,1072L561,1075C562,1068 565,1053 552,1053C540,1053 543,1068 544,1075L477,1073C478,1066 477,1059 471,1059C465,1059 464,1066 465,1073L435,1071L403.5,1066.6C381,1063 354,1056 332,1043C320,1032 312,1015 310,995C308,940 308,880 310,840C313,770 315,725 320.5,704C322,694 328,677 334,666Z" fill="none" stroke="#9a4c31" stroke-width="2.1" stroke-linejoin="round"/>
<path d="M403.5,1066.6 C395,1055 394,1045 397,1040 C401,1033 407,1031 411,1031 C418,1031 424,1036 424,1044 C424,1052 414,1060 403.5,1066.6Z" fill="#fff" stroke="#9a4c31" stroke-width="2.2"/>
<circle cx="406" cy="1043" r="0.9" fill="#333"/>
<circle cx="410" cy="1040" r="0.9" fill="#333"/>
<circle cx="414" cy="1046" r="0.9" fill="#333"/>
<circle cx="408" cy="1050" r="0.9" fill="#333"/>
<circle cx="404" cy="1047" r="0.9" fill="#333"/>
<circle cx="412" cy="1053" r="0.9" fill="#333"/>
<circle cx="470" cy="1064" r="0.9" fill="#333"/>
<circle cx="472" cy="1067" r="0.9" fill="#333"/>
<circle cx="549" cy="1060" r="0.9" fill="#333"/>
<circle cx="552" cy="1064" r="0.9" fill="#333"/>
<circle cx="548" cy="1066" r="0.9" fill="#333"/>
<line x1="697" y1="568" x2="640" y2="580" stroke="#111" stroke-width="1.5"/>
<line x1="697" y1="568" x2="662" y2="585" stroke="#111" stroke-width="1.5"/>
<line x1="748" y1="671" x2="658" y2="652.7" stroke="#111" stroke-width="1.5"/>
<line x1="748" y1="729.4" x2="598.5" y2="756.5" stroke="#111" stroke-width="1.5"/>
<line x1="748" y1="778.8" x2="596" y2="816" stroke="#111" stroke-width="1.5"/>
<line x1="745.4" y1="817.7" x2="571" y2="831" stroke="#111" stroke-width="1.5"/>
<line x1="745" y1="852" x2="624.5" y2="848" stroke="#111" stroke-width="1.5"/>
<line x1="745" y1="883.7" x2="632.3" y2="898.3" stroke="#111" stroke-width="1.5"/>
<line x1="746.7" y1="939" x2="645.3" y2="917" stroke="#111" stroke-width="1.5"/>
<line x1="746.7" y1="939" x2="646.6" y2="940.4" stroke="#111" stroke-width="1.5"/>
<line x1="746.7" y1="1015.8" x2="601" y2="962.5" stroke="#111" stroke-width="1.5"/>
<line x1="746.7" y1="1015.8" x2="559.5" y2="996.3" stroke="#111" stroke-width="1.5"/>
<line x1="676.5" y1="1073" x2="542.6" y2="1032.2" stroke="#111" stroke-width="1.5"/>
<line x1="266.7" y1="708.8" x2="320.5" y2="704.2" stroke="#111" stroke-width="1.5"/>
<line x1="268.2" y1="749" x2="329.4" y2="740" stroke="#111" stroke-width="1.5"/>
<line x1="265.4" y1="799.3" x2="342.7" y2="778.7" stroke="#111" stroke-width="1.5"/>
<line x1="264.8" y1="854.8" x2="342.7" y2="830" stroke="#111" stroke-width="1.5"/>
<line x1="266.7" y1="918" x2="390" y2="893" stroke="#111" stroke-width="1.5"/>
<line x1="266.7" y1="918" x2="420" y2="908" stroke="#111" stroke-width="1.5"/>
<line x1="271.8" y1="983.3" x2="437" y2="972.7" stroke="#111" stroke-width="1.5"/>
<line x1="275" y1="1030.2" x2="350.4" y2="1023" stroke="#111" stroke-width="1.5"/>
<text x="700" y="571" font-family="Liberation Sans, sans-serif" font-size="18.5" fill="#111">1</text>
<text x="757" y="678.7" font-family="Liberation Sans, sans-serif" font-size="18.5" fill="#111">2</text>
<text x="757" y="736" font-family="Liberation Sans, sans-serif" font-size="18.5" fill="#111">3</text>
<text x="757" y="782.7" font-family="Liberation Sans, sans-serif" font-size="18.5" fill="#111">4</text>
<text x="757" y="824.7" font-family="Liberation Sans, sans-serif" font-size="18.5" fill="#111">5</text>
<text x="757" y="856" font-family="Liberation Sans, sans-serif" font-size="18.5" fill="#111">6</text>
<text x="757" y="891.5" font-family="Liberation Sans, sans-serif" font-size="18.5" fill="#111">7</text>
<text x="757" y="945.6" font-family="Liberation Sans, sans-serif" font-size="18.5" fill="#111">8</text>
<text x="757" y="1023.6" font-family="Liberation Sans, sans-serif" font-size="18.5" fill="#111">9</text>
<text x="679" y="1084.7" font-family="Liberation Sans, sans-serif" font-size="18.5" fill="#111">10</text>
<text x="244" y="715.3" font-family="Liberation Sans, sans-serif" font-size="18.5" fill="#111">17</text>
<text x="244" y="757.8" font-family="Liberation Sans, sans-serif" font-size="18.5" fill="#111">16</text>
<text x="244" y="809" font-family="Liberation Sans, sans-serif" font-size="18.5" fill="#111">15</text>
<text x="244" y="860.5" font-family="Liberation Sans, sans-serif" font-size="18.5" fill="#111">14</text>
<text x="244" y="927" font-family="Liberation Sans, sans-serif" font-size="18.5" fill="#111">13</text>
<text x="244" y="984.6" font-family="Liberation Sans, sans-serif" font-size="18.5" fill="#111">12</text>
<text x="244" y="1037.8" font-family="Liberation Sans, sans-serif" font-size="18.5" fill="#111">11</text>
</svg>

<div class="l c j" style="top:1103.5px"><b style="color:#1a1a1a">Рис. 2.2.</b> Строение клетки: 1, 2 – апикальная поверхность клетки; 3 – аппарат</div>
<div class="l c j" style="top:1129.5px">Гольджи; 4 – мембрана ядра; 5 – ядрышко; 6 – шероховатая (грануляр-</div>
<div class="l c j" style="top:1155.5px">ная) эндоплазматическая сеть (эндоплазматический ретикулум); 7 – гладкая</div>
<div class="l c j" style="top:1181.5px">(агранулярная) эндоплазматическая сеть (эндоплазматический ретикулум);</div>
<div class="l c j" style="top:1208.5px">8, 9 – цитоскелет (филаменты); 10 – лизосома; 11 – гиалоплазма (цитозоль);</div>
<div class="l c j" style="top:1234.5px">12 – секреторная гранула; 13 – клеточный центр; 14 – цитоскелет (филаменты);</div>
<div class="l c j" style="top:1260.5px">15 – митохондрии; 16 – цитоскелет (микротрубочки); 17 – латеральная поверх-</div>
<div class="l c" style="top:1286.5px;letter-spacing:0.6px">ность клетки</div>
</body></html>
